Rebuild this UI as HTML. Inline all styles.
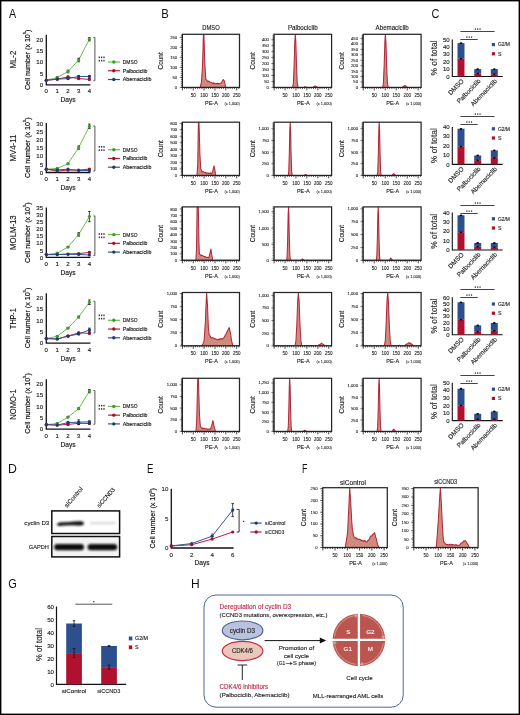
<!DOCTYPE html>
<html><head><meta charset="utf-8"><style>
html,body{margin:0;padding:0;background:#fff;overflow:hidden;width:520px;height:715px;}
svg{display:block;font-family:"Liberation Sans", sans-serif;will-change:transform;}
text{stroke:currentColor;stroke-width:0.13px;paint-order:stroke;}
</style></head><body>
<svg width="520" height="715" viewBox="0 0 520 715">
<rect x="0" y="0" width="520" height="715" fill="#fff"/>
<path d="M46.3 34.8V84.8H90.4" stroke="#111" fill="none" stroke-width="1.3"/>
<text x="43.1" y="87" font-size="6.1" text-anchor="end" fill="#1a1a1a" color="#1a1a1a">0</text>
<text x="43.1" y="75.73" font-size="6.1" text-anchor="end" fill="#1a1a1a" color="#1a1a1a">5</text>
<text x="43.1" y="64.45" font-size="6.1" text-anchor="end" fill="#1a1a1a" color="#1a1a1a">10</text>
<text x="43.1" y="53.18" font-size="6.1" text-anchor="end" fill="#1a1a1a" color="#1a1a1a">15</text>
<text x="43.1" y="41.9" font-size="6.1" text-anchor="end" fill="#1a1a1a" color="#1a1a1a">20</text>
<text x="46.3" y="93.4" font-size="6.1" text-anchor="middle" fill="#1a1a1a" color="#1a1a1a">0</text>
<text x="57.2" y="93.4" font-size="6.1" text-anchor="middle" fill="#1a1a1a" color="#1a1a1a">1</text>
<text x="68" y="93.4" font-size="6.1" text-anchor="middle" fill="#1a1a1a" color="#1a1a1a">2</text>
<text x="78.7" y="93.4" font-size="6.1" text-anchor="middle" fill="#1a1a1a" color="#1a1a1a">3</text>
<text x="89.4" y="93.4" font-size="6.1" text-anchor="middle" fill="#1a1a1a" color="#1a1a1a">4</text>
<text x="68" y="102.2" font-size="6.6" text-anchor="middle" fill="#111" color="#111">Days</text>
<text x="30.0" y="59.8" font-size="7.6" fill="#111" color="#111" style="stroke-width:0.2px" text-anchor="middle" transform="rotate(-90 30.0 59.8)" textLength="60.5" lengthAdjust="spacingAndGlyphs">Cell number (x 10<tspan font-size="4.4" dy="-3.7">5</tspan><tspan dy="3.7">)</tspan></text>
<text x="16" y="59.6" font-size="8.3" text-anchor="middle" fill="#111" color="#111" style="stroke-width:0.1px" transform="rotate(-90 16 59.6)" textLength="17.8" lengthAdjust="spacingAndGlyphs">ML-2</text>
<polyline points="46.3,80.29 57.2,77.58 68,71.5 78.7,59.99 89.4,39.25" fill="none" stroke="#6cbf4f" stroke-width="1"/>
<circle cx="46.3" cy="80.29" r="1.6" fill="#3f9a2a" stroke="none" stroke-width="1"/>
<line x1="57.2" y1="78.26" x2="57.2" y2="76.91" stroke="#111" stroke-width="0.8"/>
<line x1="55.9" y1="76.91" x2="58.5" y2="76.91" stroke="#111" stroke-width="0.8"/>
<line x1="55.9" y1="78.26" x2="58.5" y2="78.26" stroke="#111" stroke-width="0.8"/>
<circle cx="57.2" cy="77.58" r="1.6" fill="#3f9a2a" stroke="none" stroke-width="1"/>
<line x1="68" y1="72.85" x2="68" y2="70.14" stroke="#111" stroke-width="0.8"/>
<line x1="66.7" y1="70.14" x2="69.3" y2="70.14" stroke="#111" stroke-width="0.8"/>
<line x1="66.7" y1="72.85" x2="69.3" y2="72.85" stroke="#111" stroke-width="0.8"/>
<circle cx="68" cy="71.5" r="1.6" fill="#3f9a2a" stroke="none" stroke-width="1"/>
<line x1="78.7" y1="61.8" x2="78.7" y2="58.19" stroke="#111" stroke-width="0.8"/>
<line x1="77.4" y1="58.19" x2="80" y2="58.19" stroke="#111" stroke-width="0.8"/>
<line x1="77.4" y1="61.8" x2="80" y2="61.8" stroke="#111" stroke-width="0.8"/>
<circle cx="78.7" cy="59.99" r="1.6" fill="#3f9a2a" stroke="none" stroke-width="1"/>
<line x1="89.4" y1="40.83" x2="89.4" y2="37.67" stroke="#111" stroke-width="0.8"/>
<line x1="88.1" y1="37.67" x2="90.7" y2="37.67" stroke="#111" stroke-width="0.8"/>
<line x1="88.1" y1="40.83" x2="90.7" y2="40.83" stroke="#111" stroke-width="0.8"/>
<circle cx="89.4" cy="39.25" r="1.6" fill="#3f9a2a" stroke="none" stroke-width="1"/>
<polyline points="46.3,80.29 57.2,79.16 68,76.91 78.7,78.6 89.4,79.39" fill="none" stroke="#b5203a" stroke-width="1"/>
<circle cx="46.3" cy="80.29" r="1.6" fill="#a0102a" stroke="none" stroke-width="1"/>
<circle cx="57.2" cy="79.16" r="1.6" fill="#a0102a" stroke="none" stroke-width="1"/>
<line x1="68" y1="77.58" x2="68" y2="76.23" stroke="#111" stroke-width="0.8"/>
<line x1="66.7" y1="76.23" x2="69.3" y2="76.23" stroke="#111" stroke-width="0.8"/>
<line x1="66.7" y1="77.58" x2="69.3" y2="77.58" stroke="#111" stroke-width="0.8"/>
<circle cx="68" cy="76.91" r="1.6" fill="#a0102a" stroke="none" stroke-width="1"/>
<line x1="78.7" y1="79.28" x2="78.7" y2="77.92" stroke="#111" stroke-width="0.8"/>
<line x1="77.4" y1="77.92" x2="80" y2="77.92" stroke="#111" stroke-width="0.8"/>
<line x1="77.4" y1="79.28" x2="80" y2="79.28" stroke="#111" stroke-width="0.8"/>
<circle cx="78.7" cy="78.6" r="1.6" fill="#a0102a" stroke="none" stroke-width="1"/>
<line x1="89.4" y1="80.06" x2="89.4" y2="78.71" stroke="#111" stroke-width="0.8"/>
<line x1="88.1" y1="78.71" x2="90.7" y2="78.71" stroke="#111" stroke-width="0.8"/>
<line x1="88.1" y1="80.06" x2="90.7" y2="80.06" stroke="#111" stroke-width="0.8"/>
<circle cx="89.4" cy="79.39" r="1.6" fill="#a0102a" stroke="none" stroke-width="1"/>
<polyline points="46.3,80.29 57.2,79.16 68,78.6 78.7,76.46 89.4,76.46" fill="none" stroke="#34569a" stroke-width="1"/>
<circle cx="46.3" cy="80.29" r="1.6" fill="#1d3a78" stroke="none" stroke-width="1"/>
<circle cx="57.2" cy="79.16" r="1.6" fill="#1d3a78" stroke="none" stroke-width="1"/>
<line x1="68" y1="79.05" x2="68" y2="78.15" stroke="#111" stroke-width="0.8"/>
<line x1="66.7" y1="78.15" x2="69.3" y2="78.15" stroke="#111" stroke-width="0.8"/>
<line x1="66.7" y1="79.05" x2="69.3" y2="79.05" stroke="#111" stroke-width="0.8"/>
<circle cx="68" cy="78.6" r="1.6" fill="#1d3a78" stroke="none" stroke-width="1"/>
<line x1="78.7" y1="77.13" x2="78.7" y2="75.78" stroke="#111" stroke-width="0.8"/>
<line x1="77.4" y1="75.78" x2="80" y2="75.78" stroke="#111" stroke-width="0.8"/>
<line x1="77.4" y1="77.13" x2="80" y2="77.13" stroke="#111" stroke-width="0.8"/>
<circle cx="78.7" cy="76.46" r="1.6" fill="#1d3a78" stroke="none" stroke-width="1"/>
<line x1="89.4" y1="77.13" x2="89.4" y2="75.78" stroke="#111" stroke-width="0.8"/>
<line x1="88.1" y1="75.78" x2="90.7" y2="75.78" stroke="#111" stroke-width="0.8"/>
<line x1="88.1" y1="77.13" x2="90.7" y2="77.13" stroke="#111" stroke-width="0.8"/>
<circle cx="89.4" cy="76.46" r="1.6" fill="#1d3a78" stroke="none" stroke-width="1"/>
<path d="M93.4 37.4H94.9V80.7H93.4" stroke="#555" fill="none" stroke-width="1"/>
<rect x="98.65" y="56.55" width="1.3" height="1.6" fill="#333" stroke="none" stroke-width="1"/>
<rect x="101" y="56.55" width="1.3" height="1.6" fill="#333" stroke="none" stroke-width="1"/>
<rect x="103.35" y="56.55" width="1.3" height="1.6" fill="#333" stroke="none" stroke-width="1"/>
<rect x="98.65" y="59.85" width="1.3" height="1.6" fill="#333" stroke="none" stroke-width="1"/>
<rect x="101" y="59.85" width="1.3" height="1.6" fill="#333" stroke="none" stroke-width="1"/>
<rect x="103.35" y="59.85" width="1.3" height="1.6" fill="#333" stroke="none" stroke-width="1"/>
<line x1="108" y1="62" x2="120" y2="62" stroke="#6cbf4f" stroke-width="1.2"/>
<circle cx="113.8" cy="62" r="1.7" fill="#3f9a2a" stroke="none" stroke-width="1"/>
<text x="122.8" y="63.9" font-size="5.4" fill="#111" color="#111" textLength="14.7" lengthAdjust="spacingAndGlyphs">DMSO</text>
<line x1="108" y1="70.75" x2="120" y2="70.75" stroke="#b5203a" stroke-width="1.2"/>
<circle cx="113.8" cy="70.75" r="1.7" fill="#a0102a" stroke="none" stroke-width="1"/>
<text x="122.8" y="72.65" font-size="5.4" fill="#111" color="#111" textLength="24.6" lengthAdjust="spacingAndGlyphs">Palbociclib</text>
<line x1="108" y1="79.5" x2="120" y2="79.5" stroke="#34569a" stroke-width="1.2"/>
<circle cx="113.8" cy="79.5" r="1.7" fill="#1d3a78" stroke="none" stroke-width="1"/>
<text x="122.8" y="81.4" font-size="5.4" fill="#111" color="#111" textLength="28.6" lengthAdjust="spacingAndGlyphs">Abemaciclib</text>
<path d="M46.3 123.1V172.5H90.4" stroke="#111" fill="none" stroke-width="1.3"/>
<text x="43.1" y="174.7" font-size="6.1" text-anchor="end" fill="#1a1a1a" color="#1a1a1a">0</text>
<text x="43.1" y="166.5" font-size="6.1" text-anchor="end" fill="#1a1a1a" color="#1a1a1a">5</text>
<text x="43.1" y="158.3" font-size="6.1" text-anchor="end" fill="#1a1a1a" color="#1a1a1a">10</text>
<text x="43.1" y="150.1" font-size="6.1" text-anchor="end" fill="#1a1a1a" color="#1a1a1a">15</text>
<text x="43.1" y="141.9" font-size="6.1" text-anchor="end" fill="#1a1a1a" color="#1a1a1a">20</text>
<text x="43.1" y="133.7" font-size="6.1" text-anchor="end" fill="#1a1a1a" color="#1a1a1a">25</text>
<text x="43.1" y="125.5" font-size="6.1" text-anchor="end" fill="#1a1a1a" color="#1a1a1a">30</text>
<text x="46.3" y="181.1" font-size="6.1" text-anchor="middle" fill="#1a1a1a" color="#1a1a1a">0</text>
<text x="57.2" y="181.1" font-size="6.1" text-anchor="middle" fill="#1a1a1a" color="#1a1a1a">1</text>
<text x="68" y="181.1" font-size="6.1" text-anchor="middle" fill="#1a1a1a" color="#1a1a1a">2</text>
<text x="78.7" y="181.1" font-size="6.1" text-anchor="middle" fill="#1a1a1a" color="#1a1a1a">3</text>
<text x="89.4" y="181.1" font-size="6.1" text-anchor="middle" fill="#1a1a1a" color="#1a1a1a">4</text>
<text x="68" y="189.9" font-size="6.6" text-anchor="middle" fill="#111" color="#111">Days</text>
<text x="30.0" y="147.7" font-size="7.6" fill="#111" color="#111" style="stroke-width:0.2px" text-anchor="middle" transform="rotate(-90 30.0 147.7)" textLength="60.5" lengthAdjust="spacingAndGlyphs">Cell number (x 10<tspan font-size="4.4" dy="-3.7">5</tspan><tspan dy="3.7">)</tspan></text>
<text x="16" y="148.1" font-size="8.3" text-anchor="middle" fill="#111" color="#111" style="stroke-width:0.1px" transform="rotate(-90 16 148.1)" textLength="26.7" lengthAdjust="spacingAndGlyphs">MV4-11</text>
<polyline points="46.3,169.22 57.2,168.4 68,163.81 78.7,147.57 89.4,126.25" fill="none" stroke="#6cbf4f" stroke-width="1"/>
<circle cx="46.3" cy="169.22" r="1.6" fill="#3f9a2a" stroke="none" stroke-width="1"/>
<line x1="57.2" y1="168.73" x2="57.2" y2="168.07" stroke="#111" stroke-width="0.8"/>
<line x1="55.9" y1="168.07" x2="58.5" y2="168.07" stroke="#111" stroke-width="0.8"/>
<line x1="55.9" y1="168.73" x2="58.5" y2="168.73" stroke="#111" stroke-width="0.8"/>
<circle cx="57.2" cy="168.4" r="1.6" fill="#3f9a2a" stroke="none" stroke-width="1"/>
<line x1="68" y1="164.46" x2="68" y2="163.15" stroke="#111" stroke-width="0.8"/>
<line x1="66.7" y1="163.15" x2="69.3" y2="163.15" stroke="#111" stroke-width="0.8"/>
<line x1="66.7" y1="164.46" x2="69.3" y2="164.46" stroke="#111" stroke-width="0.8"/>
<circle cx="68" cy="163.81" r="1.6" fill="#3f9a2a" stroke="none" stroke-width="1"/>
<line x1="78.7" y1="149.21" x2="78.7" y2="145.93" stroke="#111" stroke-width="0.8"/>
<line x1="77.4" y1="145.93" x2="80" y2="145.93" stroke="#111" stroke-width="0.8"/>
<line x1="77.4" y1="149.21" x2="80" y2="149.21" stroke="#111" stroke-width="0.8"/>
<circle cx="78.7" cy="147.57" r="1.6" fill="#3f9a2a" stroke="none" stroke-width="1"/>
<line x1="89.4" y1="128.38" x2="89.4" y2="124.12" stroke="#111" stroke-width="0.8"/>
<line x1="88.1" y1="124.12" x2="90.7" y2="124.12" stroke="#111" stroke-width="0.8"/>
<line x1="88.1" y1="128.38" x2="90.7" y2="128.38" stroke="#111" stroke-width="0.8"/>
<circle cx="89.4" cy="126.25" r="1.6" fill="#3f9a2a" stroke="none" stroke-width="1"/>
<polyline points="46.3,169.22 57.2,171.02 68,170.04 78.7,170.2 89.4,169.06" fill="none" stroke="#b5203a" stroke-width="1"/>
<circle cx="46.3" cy="169.22" r="1.6" fill="#a0102a" stroke="none" stroke-width="1"/>
<circle cx="57.2" cy="171.02" r="1.6" fill="#a0102a" stroke="none" stroke-width="1"/>
<circle cx="68" cy="170.04" r="1.6" fill="#a0102a" stroke="none" stroke-width="1"/>
<circle cx="78.7" cy="170.2" r="1.6" fill="#a0102a" stroke="none" stroke-width="1"/>
<circle cx="89.4" cy="169.06" r="1.6" fill="#a0102a" stroke="none" stroke-width="1"/>
<polyline points="46.3,169.22 57.2,169.88 68,169.22 78.7,170.37 89.4,170.53" fill="none" stroke="#34569a" stroke-width="1"/>
<circle cx="46.3" cy="169.22" r="1.6" fill="#1d3a78" stroke="none" stroke-width="1"/>
<circle cx="57.2" cy="169.88" r="1.6" fill="#1d3a78" stroke="none" stroke-width="1"/>
<circle cx="68" cy="169.22" r="1.6" fill="#1d3a78" stroke="none" stroke-width="1"/>
<circle cx="78.7" cy="170.37" r="1.6" fill="#1d3a78" stroke="none" stroke-width="1"/>
<circle cx="89.4" cy="170.53" r="1.6" fill="#1d3a78" stroke="none" stroke-width="1"/>
<path d="M93.4 126H94.9V171H93.4" stroke="#555" fill="none" stroke-width="1"/>
<rect x="98.65" y="146" width="1.3" height="1.6" fill="#333" stroke="none" stroke-width="1"/>
<rect x="101" y="146" width="1.3" height="1.6" fill="#333" stroke="none" stroke-width="1"/>
<rect x="103.35" y="146" width="1.3" height="1.6" fill="#333" stroke="none" stroke-width="1"/>
<rect x="98.65" y="149.3" width="1.3" height="1.6" fill="#333" stroke="none" stroke-width="1"/>
<rect x="101" y="149.3" width="1.3" height="1.6" fill="#333" stroke="none" stroke-width="1"/>
<rect x="103.35" y="149.3" width="1.3" height="1.6" fill="#333" stroke="none" stroke-width="1"/>
<line x1="108" y1="149.7" x2="120" y2="149.7" stroke="#6cbf4f" stroke-width="1.2"/>
<circle cx="113.8" cy="149.7" r="1.7" fill="#3f9a2a" stroke="none" stroke-width="1"/>
<text x="122.8" y="151.6" font-size="5.4" fill="#111" color="#111" textLength="14.7" lengthAdjust="spacingAndGlyphs">DMSO</text>
<line x1="108" y1="158.45" x2="120" y2="158.45" stroke="#b5203a" stroke-width="1.2"/>
<circle cx="113.8" cy="158.45" r="1.7" fill="#a0102a" stroke="none" stroke-width="1"/>
<text x="122.8" y="160.35" font-size="5.4" fill="#111" color="#111" textLength="24.6" lengthAdjust="spacingAndGlyphs">Palbociclib</text>
<line x1="108" y1="167.2" x2="120" y2="167.2" stroke="#34569a" stroke-width="1.2"/>
<circle cx="113.8" cy="167.2" r="1.7" fill="#1d3a78" stroke="none" stroke-width="1"/>
<text x="122.8" y="169.1" font-size="5.4" fill="#111" color="#111" textLength="28.6" lengthAdjust="spacingAndGlyphs">Abemaciclib</text>
<path d="M46.3 207.6V257.4H90.4" stroke="#111" fill="none" stroke-width="1.3"/>
<text x="43.1" y="259.6" font-size="6.1" text-anchor="end" fill="#1a1a1a" color="#1a1a1a">0</text>
<text x="43.1" y="252.51" font-size="6.1" text-anchor="end" fill="#1a1a1a" color="#1a1a1a">5</text>
<text x="43.1" y="245.43" font-size="6.1" text-anchor="end" fill="#1a1a1a" color="#1a1a1a">10</text>
<text x="43.1" y="238.34" font-size="6.1" text-anchor="end" fill="#1a1a1a" color="#1a1a1a">15</text>
<text x="43.1" y="231.26" font-size="6.1" text-anchor="end" fill="#1a1a1a" color="#1a1a1a">20</text>
<text x="43.1" y="224.17" font-size="6.1" text-anchor="end" fill="#1a1a1a" color="#1a1a1a">25</text>
<text x="43.1" y="217.09" font-size="6.1" text-anchor="end" fill="#1a1a1a" color="#1a1a1a">30</text>
<text x="43.1" y="210" font-size="6.1" text-anchor="end" fill="#1a1a1a" color="#1a1a1a">35</text>
<text x="46.3" y="266" font-size="6.1" text-anchor="middle" fill="#1a1a1a" color="#1a1a1a">0</text>
<text x="57.2" y="266" font-size="6.1" text-anchor="middle" fill="#1a1a1a" color="#1a1a1a">1</text>
<text x="68" y="266" font-size="6.1" text-anchor="middle" fill="#1a1a1a" color="#1a1a1a">2</text>
<text x="78.7" y="266" font-size="6.1" text-anchor="middle" fill="#1a1a1a" color="#1a1a1a">3</text>
<text x="89.4" y="266" font-size="6.1" text-anchor="middle" fill="#1a1a1a" color="#1a1a1a">4</text>
<text x="68" y="274.8" font-size="6.6" text-anchor="middle" fill="#111" color="#111">Days</text>
<text x="30.0" y="232.7" font-size="7.6" fill="#111" color="#111" style="stroke-width:0.2px" text-anchor="middle" transform="rotate(-90 30.0 232.7)" textLength="60.5" lengthAdjust="spacingAndGlyphs">Cell number (x 10<tspan font-size="4.4" dy="-3.7">5</tspan><tspan dy="3.7">)</tspan></text>
<text x="16" y="232.6" font-size="8.3" text-anchor="middle" fill="#111" color="#111" style="stroke-width:0.1px" transform="rotate(-90 16 232.6)" textLength="34.6" lengthAdjust="spacingAndGlyphs">MOLM-13</text>
<polyline points="46.3,254.57 57.2,253.15 68,247.05 78.7,234.44 89.4,216.59" fill="none" stroke="#6cbf4f" stroke-width="1"/>
<circle cx="46.3" cy="254.57" r="1.6" fill="#3f9a2a" stroke="none" stroke-width="1"/>
<line x1="57.2" y1="253.57" x2="57.2" y2="252.72" stroke="#111" stroke-width="0.8"/>
<line x1="55.9" y1="252.72" x2="58.5" y2="252.72" stroke="#111" stroke-width="0.8"/>
<line x1="55.9" y1="253.57" x2="58.5" y2="253.57" stroke="#111" stroke-width="0.8"/>
<circle cx="57.2" cy="253.15" r="1.6" fill="#3f9a2a" stroke="none" stroke-width="1"/>
<line x1="68" y1="247.62" x2="68" y2="246.49" stroke="#111" stroke-width="0.8"/>
<line x1="66.7" y1="246.49" x2="69.3" y2="246.49" stroke="#111" stroke-width="0.8"/>
<line x1="66.7" y1="247.62" x2="69.3" y2="247.62" stroke="#111" stroke-width="0.8"/>
<circle cx="68" cy="247.05" r="1.6" fill="#3f9a2a" stroke="none" stroke-width="1"/>
<line x1="78.7" y1="236.14" x2="78.7" y2="232.74" stroke="#111" stroke-width="0.8"/>
<line x1="77.4" y1="232.74" x2="80" y2="232.74" stroke="#111" stroke-width="0.8"/>
<line x1="77.4" y1="236.14" x2="80" y2="236.14" stroke="#111" stroke-width="0.8"/>
<circle cx="78.7" cy="234.44" r="1.6" fill="#3f9a2a" stroke="none" stroke-width="1"/>
<line x1="89.4" y1="221.69" x2="89.4" y2="211.48" stroke="#111" stroke-width="0.8"/>
<line x1="88.1" y1="211.48" x2="90.7" y2="211.48" stroke="#111" stroke-width="0.8"/>
<line x1="88.1" y1="221.69" x2="90.7" y2="221.69" stroke="#111" stroke-width="0.8"/>
<circle cx="89.4" cy="216.59" r="1.6" fill="#3f9a2a" stroke="none" stroke-width="1"/>
<polyline points="46.3,254.57 57.2,254.57 68,254 78.7,253.57 89.4,252.44" fill="none" stroke="#b5203a" stroke-width="1"/>
<circle cx="46.3" cy="254.57" r="1.6" fill="#a0102a" stroke="none" stroke-width="1"/>
<circle cx="57.2" cy="254.57" r="1.6" fill="#a0102a" stroke="none" stroke-width="1"/>
<circle cx="68" cy="254" r="1.6" fill="#a0102a" stroke="none" stroke-width="1"/>
<circle cx="78.7" cy="253.57" r="1.6" fill="#a0102a" stroke="none" stroke-width="1"/>
<line x1="89.4" y1="252.87" x2="89.4" y2="252.01" stroke="#111" stroke-width="0.8"/>
<line x1="88.1" y1="252.01" x2="90.7" y2="252.01" stroke="#111" stroke-width="0.8"/>
<line x1="88.1" y1="252.87" x2="90.7" y2="252.87" stroke="#111" stroke-width="0.8"/>
<circle cx="89.4" cy="252.44" r="1.6" fill="#a0102a" stroke="none" stroke-width="1"/>
<polyline points="46.3,254.57 57.2,254.57 68,254.28 78.7,254.42 89.4,254.99" fill="none" stroke="#34569a" stroke-width="1"/>
<circle cx="46.3" cy="254.57" r="1.6" fill="#1d3a78" stroke="none" stroke-width="1"/>
<circle cx="57.2" cy="254.57" r="1.6" fill="#1d3a78" stroke="none" stroke-width="1"/>
<circle cx="68" cy="254.28" r="1.6" fill="#1d3a78" stroke="none" stroke-width="1"/>
<circle cx="78.7" cy="254.42" r="1.6" fill="#1d3a78" stroke="none" stroke-width="1"/>
<circle cx="89.4" cy="254.99" r="1.6" fill="#1d3a78" stroke="none" stroke-width="1"/>
<path d="M93.4 215.9H94.9V255.6H93.4" stroke="#555" fill="none" stroke-width="1"/>
<rect x="98.65" y="233.25" width="1.3" height="1.6" fill="#333" stroke="none" stroke-width="1"/>
<rect x="101" y="233.25" width="1.3" height="1.6" fill="#333" stroke="none" stroke-width="1"/>
<rect x="103.35" y="233.25" width="1.3" height="1.6" fill="#333" stroke="none" stroke-width="1"/>
<rect x="98.65" y="236.55" width="1.3" height="1.6" fill="#333" stroke="none" stroke-width="1"/>
<rect x="101" y="236.55" width="1.3" height="1.6" fill="#333" stroke="none" stroke-width="1"/>
<rect x="103.35" y="236.55" width="1.3" height="1.6" fill="#333" stroke="none" stroke-width="1"/>
<line x1="108" y1="234.6" x2="120" y2="234.6" stroke="#6cbf4f" stroke-width="1.2"/>
<circle cx="113.8" cy="234.6" r="1.7" fill="#3f9a2a" stroke="none" stroke-width="1"/>
<text x="122.8" y="236.5" font-size="5.4" fill="#111" color="#111" textLength="14.7" lengthAdjust="spacingAndGlyphs">DMSO</text>
<line x1="108" y1="243.35" x2="120" y2="243.35" stroke="#b5203a" stroke-width="1.2"/>
<circle cx="113.8" cy="243.35" r="1.7" fill="#a0102a" stroke="none" stroke-width="1"/>
<text x="122.8" y="245.25" font-size="5.4" fill="#111" color="#111" textLength="24.6" lengthAdjust="spacingAndGlyphs">Palbociclib</text>
<line x1="108" y1="252.1" x2="120" y2="252.1" stroke="#34569a" stroke-width="1.2"/>
<circle cx="113.8" cy="252.1" r="1.7" fill="#1d3a78" stroke="none" stroke-width="1"/>
<text x="122.8" y="254" font-size="5.4" fill="#111" color="#111" textLength="28.6" lengthAdjust="spacingAndGlyphs">Abemaciclib</text>
<path d="M46.3 293.3V343.1H90.4" stroke="#111" fill="none" stroke-width="1.3"/>
<text x="43.1" y="345.3" font-size="6.1" text-anchor="end" fill="#1a1a1a" color="#1a1a1a">0</text>
<text x="43.1" y="333.95" font-size="6.1" text-anchor="end" fill="#1a1a1a" color="#1a1a1a">5</text>
<text x="43.1" y="322.6" font-size="6.1" text-anchor="end" fill="#1a1a1a" color="#1a1a1a">10</text>
<text x="43.1" y="311.25" font-size="6.1" text-anchor="end" fill="#1a1a1a" color="#1a1a1a">15</text>
<text x="43.1" y="299.9" font-size="6.1" text-anchor="end" fill="#1a1a1a" color="#1a1a1a">20</text>
<text x="46.3" y="351.7" font-size="6.1" text-anchor="middle" fill="#1a1a1a" color="#1a1a1a">0</text>
<text x="57.2" y="351.7" font-size="6.1" text-anchor="middle" fill="#1a1a1a" color="#1a1a1a">1</text>
<text x="68" y="351.7" font-size="6.1" text-anchor="middle" fill="#1a1a1a" color="#1a1a1a">2</text>
<text x="78.7" y="351.7" font-size="6.1" text-anchor="middle" fill="#1a1a1a" color="#1a1a1a">3</text>
<text x="89.4" y="351.7" font-size="6.1" text-anchor="middle" fill="#1a1a1a" color="#1a1a1a">4</text>
<text x="68" y="360.5" font-size="6.6" text-anchor="middle" fill="#111" color="#111">Days</text>
<text x="30.0" y="318" font-size="7.6" fill="#111" color="#111" style="stroke-width:0.2px" text-anchor="middle" transform="rotate(-90 30.0 318)" textLength="60.5" lengthAdjust="spacingAndGlyphs">Cell number (x 10<tspan font-size="4.4" dy="-3.7">5</tspan><tspan dy="3.7">)</tspan></text>
<text x="16" y="318.6" font-size="8.3" text-anchor="middle" fill="#111" color="#111" style="stroke-width:0.1px" transform="rotate(-90 16 318.6)" textLength="20.7" lengthAdjust="spacingAndGlyphs">THP-1</text>
<polyline points="46.3,338.56 57.2,336.29 68,328.12 78.7,317 89.4,302.24" fill="none" stroke="#6cbf4f" stroke-width="1"/>
<circle cx="46.3" cy="338.56" r="1.6" fill="#3f9a2a" stroke="none" stroke-width="1"/>
<line x1="57.2" y1="336.97" x2="57.2" y2="335.61" stroke="#111" stroke-width="0.8"/>
<line x1="55.9" y1="335.61" x2="58.5" y2="335.61" stroke="#111" stroke-width="0.8"/>
<line x1="55.9" y1="336.97" x2="58.5" y2="336.97" stroke="#111" stroke-width="0.8"/>
<circle cx="57.2" cy="336.29" r="1.6" fill="#3f9a2a" stroke="none" stroke-width="1"/>
<line x1="68" y1="328.8" x2="68" y2="327.44" stroke="#111" stroke-width="0.8"/>
<line x1="66.7" y1="327.44" x2="69.3" y2="327.44" stroke="#111" stroke-width="0.8"/>
<line x1="66.7" y1="328.8" x2="69.3" y2="328.8" stroke="#111" stroke-width="0.8"/>
<circle cx="68" cy="328.12" r="1.6" fill="#3f9a2a" stroke="none" stroke-width="1"/>
<line x1="78.7" y1="317.9" x2="78.7" y2="316.09" stroke="#111" stroke-width="0.8"/>
<line x1="77.4" y1="316.09" x2="80" y2="316.09" stroke="#111" stroke-width="0.8"/>
<line x1="77.4" y1="317.9" x2="80" y2="317.9" stroke="#111" stroke-width="0.8"/>
<circle cx="78.7" cy="317" r="1.6" fill="#3f9a2a" stroke="none" stroke-width="1"/>
<line x1="89.4" y1="304.51" x2="89.4" y2="299.97" stroke="#111" stroke-width="0.8"/>
<line x1="88.1" y1="299.97" x2="90.7" y2="299.97" stroke="#111" stroke-width="0.8"/>
<line x1="88.1" y1="304.51" x2="90.7" y2="304.51" stroke="#111" stroke-width="0.8"/>
<circle cx="89.4" cy="302.24" r="1.6" fill="#3f9a2a" stroke="none" stroke-width="1"/>
<polyline points="46.3,338.56 57.2,339.01 68,336.06 78.7,332.88 89.4,333.34" fill="none" stroke="#b5203a" stroke-width="1"/>
<circle cx="46.3" cy="338.56" r="1.6" fill="#a0102a" stroke="none" stroke-width="1"/>
<circle cx="57.2" cy="339.01" r="1.6" fill="#a0102a" stroke="none" stroke-width="1"/>
<line x1="68" y1="336.74" x2="68" y2="335.38" stroke="#111" stroke-width="0.8"/>
<line x1="66.7" y1="335.38" x2="69.3" y2="335.38" stroke="#111" stroke-width="0.8"/>
<line x1="66.7" y1="336.74" x2="69.3" y2="336.74" stroke="#111" stroke-width="0.8"/>
<circle cx="68" cy="336.06" r="1.6" fill="#a0102a" stroke="none" stroke-width="1"/>
<line x1="78.7" y1="333.57" x2="78.7" y2="332.2" stroke="#111" stroke-width="0.8"/>
<line x1="77.4" y1="332.2" x2="80" y2="332.2" stroke="#111" stroke-width="0.8"/>
<line x1="77.4" y1="333.57" x2="80" y2="333.57" stroke="#111" stroke-width="0.8"/>
<circle cx="78.7" cy="332.88" r="1.6" fill="#a0102a" stroke="none" stroke-width="1"/>
<line x1="89.4" y1="334.25" x2="89.4" y2="332.43" stroke="#111" stroke-width="0.8"/>
<line x1="88.1" y1="332.43" x2="90.7" y2="332.43" stroke="#111" stroke-width="0.8"/>
<line x1="88.1" y1="334.25" x2="90.7" y2="334.25" stroke="#111" stroke-width="0.8"/>
<circle cx="89.4" cy="333.34" r="1.6" fill="#a0102a" stroke="none" stroke-width="1"/>
<polyline points="46.3,338.56 57.2,339.01 68,336.06 78.7,334.02 89.4,329.93" fill="none" stroke="#34569a" stroke-width="1"/>
<circle cx="46.3" cy="338.56" r="1.6" fill="#1d3a78" stroke="none" stroke-width="1"/>
<circle cx="57.2" cy="339.01" r="1.6" fill="#1d3a78" stroke="none" stroke-width="1"/>
<line x1="68" y1="336.74" x2="68" y2="335.38" stroke="#111" stroke-width="0.8"/>
<line x1="66.7" y1="335.38" x2="69.3" y2="335.38" stroke="#111" stroke-width="0.8"/>
<line x1="66.7" y1="336.74" x2="69.3" y2="336.74" stroke="#111" stroke-width="0.8"/>
<circle cx="68" cy="336.06" r="1.6" fill="#1d3a78" stroke="none" stroke-width="1"/>
<line x1="78.7" y1="334.7" x2="78.7" y2="333.34" stroke="#111" stroke-width="0.8"/>
<line x1="77.4" y1="333.34" x2="80" y2="333.34" stroke="#111" stroke-width="0.8"/>
<line x1="77.4" y1="334.7" x2="80" y2="334.7" stroke="#111" stroke-width="0.8"/>
<circle cx="78.7" cy="334.02" r="1.6" fill="#1d3a78" stroke="none" stroke-width="1"/>
<line x1="89.4" y1="331.75" x2="89.4" y2="328.12" stroke="#111" stroke-width="0.8"/>
<line x1="88.1" y1="328.12" x2="90.7" y2="328.12" stroke="#111" stroke-width="0.8"/>
<line x1="88.1" y1="331.75" x2="90.7" y2="331.75" stroke="#111" stroke-width="0.8"/>
<circle cx="89.4" cy="329.93" r="1.6" fill="#1d3a78" stroke="none" stroke-width="1"/>
<path d="M93.4 301.2H94.9V332.9H93.4" stroke="#555" fill="none" stroke-width="1"/>
<rect x="98.65" y="314.55" width="1.3" height="1.6" fill="#333" stroke="none" stroke-width="1"/>
<rect x="101" y="314.55" width="1.3" height="1.6" fill="#333" stroke="none" stroke-width="1"/>
<rect x="103.35" y="314.55" width="1.3" height="1.6" fill="#333" stroke="none" stroke-width="1"/>
<rect x="98.65" y="317.85" width="1.3" height="1.6" fill="#333" stroke="none" stroke-width="1"/>
<rect x="101" y="317.85" width="1.3" height="1.6" fill="#333" stroke="none" stroke-width="1"/>
<rect x="103.35" y="317.85" width="1.3" height="1.6" fill="#333" stroke="none" stroke-width="1"/>
<line x1="108" y1="320.3" x2="120" y2="320.3" stroke="#6cbf4f" stroke-width="1.2"/>
<circle cx="113.8" cy="320.3" r="1.7" fill="#3f9a2a" stroke="none" stroke-width="1"/>
<text x="122.8" y="322.2" font-size="5.4" fill="#111" color="#111" textLength="14.7" lengthAdjust="spacingAndGlyphs">DMSO</text>
<line x1="108" y1="329.05" x2="120" y2="329.05" stroke="#b5203a" stroke-width="1.2"/>
<circle cx="113.8" cy="329.05" r="1.7" fill="#a0102a" stroke="none" stroke-width="1"/>
<text x="122.8" y="330.95" font-size="5.4" fill="#111" color="#111" textLength="24.6" lengthAdjust="spacingAndGlyphs">Palbociclib</text>
<line x1="108" y1="337.8" x2="120" y2="337.8" stroke="#34569a" stroke-width="1.2"/>
<circle cx="113.8" cy="337.8" r="1.7" fill="#1d3a78" stroke="none" stroke-width="1"/>
<text x="122.8" y="339.7" font-size="5.4" fill="#111" color="#111" textLength="28.6" lengthAdjust="spacingAndGlyphs">Abemaciclib</text>
<path d="M46.3 379.2V429.2H90.4" stroke="#111" fill="none" stroke-width="1.3"/>
<text x="43.1" y="431.4" font-size="6.1" text-anchor="end" fill="#1a1a1a" color="#1a1a1a">0</text>
<text x="43.1" y="420" font-size="6.1" text-anchor="end" fill="#1a1a1a" color="#1a1a1a">5</text>
<text x="43.1" y="408.6" font-size="6.1" text-anchor="end" fill="#1a1a1a" color="#1a1a1a">10</text>
<text x="43.1" y="397.2" font-size="6.1" text-anchor="end" fill="#1a1a1a" color="#1a1a1a">15</text>
<text x="43.1" y="385.8" font-size="6.1" text-anchor="end" fill="#1a1a1a" color="#1a1a1a">20</text>
<text x="46.3" y="437.8" font-size="6.1" text-anchor="middle" fill="#1a1a1a" color="#1a1a1a">0</text>
<text x="57.2" y="437.8" font-size="6.1" text-anchor="middle" fill="#1a1a1a" color="#1a1a1a">1</text>
<text x="68" y="437.8" font-size="6.1" text-anchor="middle" fill="#1a1a1a" color="#1a1a1a">2</text>
<text x="78.7" y="437.8" font-size="6.1" text-anchor="middle" fill="#1a1a1a" color="#1a1a1a">3</text>
<text x="89.4" y="437.8" font-size="6.1" text-anchor="middle" fill="#1a1a1a" color="#1a1a1a">4</text>
<text x="68" y="446.6" font-size="6.6" text-anchor="middle" fill="#111" color="#111">Days</text>
<text x="30.0" y="403.5" font-size="7.6" fill="#111" color="#111" style="stroke-width:0.2px" text-anchor="middle" transform="rotate(-90 30.0 403.5)" textLength="60.5" lengthAdjust="spacingAndGlyphs">Cell number (x 10<tspan font-size="4.4" dy="-3.7">5</tspan><tspan dy="3.7">)</tspan></text>
<text x="16" y="404.5" font-size="8.3" text-anchor="middle" fill="#111" color="#111" style="stroke-width:0.1px" transform="rotate(-90 16 404.5)" textLength="30.3" lengthAdjust="spacingAndGlyphs">NOMO-1</text>
<polyline points="46.3,424.64 57.2,423.5 68,417.12 78.7,408.68 89.4,391.12" fill="none" stroke="#6cbf4f" stroke-width="1"/>
<circle cx="46.3" cy="424.64" r="1.6" fill="#3f9a2a" stroke="none" stroke-width="1"/>
<line x1="57.2" y1="423.96" x2="57.2" y2="423.04" stroke="#111" stroke-width="0.8"/>
<line x1="55.9" y1="423.04" x2="58.5" y2="423.04" stroke="#111" stroke-width="0.8"/>
<line x1="55.9" y1="423.96" x2="58.5" y2="423.96" stroke="#111" stroke-width="0.8"/>
<circle cx="57.2" cy="423.5" r="1.6" fill="#3f9a2a" stroke="none" stroke-width="1"/>
<line x1="68" y1="417.8" x2="68" y2="416.43" stroke="#111" stroke-width="0.8"/>
<line x1="66.7" y1="416.43" x2="69.3" y2="416.43" stroke="#111" stroke-width="0.8"/>
<line x1="66.7" y1="417.8" x2="69.3" y2="417.8" stroke="#111" stroke-width="0.8"/>
<circle cx="68" cy="417.12" r="1.6" fill="#3f9a2a" stroke="none" stroke-width="1"/>
<line x1="78.7" y1="409.59" x2="78.7" y2="407.77" stroke="#111" stroke-width="0.8"/>
<line x1="77.4" y1="407.77" x2="80" y2="407.77" stroke="#111" stroke-width="0.8"/>
<line x1="77.4" y1="409.59" x2="80" y2="409.59" stroke="#111" stroke-width="0.8"/>
<circle cx="78.7" cy="408.68" r="1.6" fill="#3f9a2a" stroke="none" stroke-width="1"/>
<line x1="89.4" y1="392.72" x2="89.4" y2="389.53" stroke="#111" stroke-width="0.8"/>
<line x1="88.1" y1="389.53" x2="90.7" y2="389.53" stroke="#111" stroke-width="0.8"/>
<line x1="88.1" y1="392.72" x2="90.7" y2="392.72" stroke="#111" stroke-width="0.8"/>
<circle cx="89.4" cy="391.12" r="1.6" fill="#3f9a2a" stroke="none" stroke-width="1"/>
<polyline points="46.3,424.64 57.2,425.1 68,424.41 78.7,423.27 89.4,423.5" fill="none" stroke="#b5203a" stroke-width="1"/>
<circle cx="46.3" cy="424.64" r="1.6" fill="#a0102a" stroke="none" stroke-width="1"/>
<circle cx="57.2" cy="425.1" r="1.6" fill="#a0102a" stroke="none" stroke-width="1"/>
<line x1="68" y1="425.32" x2="68" y2="423.5" stroke="#111" stroke-width="0.8"/>
<line x1="66.7" y1="423.5" x2="69.3" y2="423.5" stroke="#111" stroke-width="0.8"/>
<line x1="66.7" y1="425.32" x2="69.3" y2="425.32" stroke="#111" stroke-width="0.8"/>
<circle cx="68" cy="424.41" r="1.6" fill="#a0102a" stroke="none" stroke-width="1"/>
<line x1="78.7" y1="424.64" x2="78.7" y2="421.9" stroke="#111" stroke-width="0.8"/>
<line x1="77.4" y1="421.9" x2="80" y2="421.9" stroke="#111" stroke-width="0.8"/>
<line x1="77.4" y1="424.64" x2="80" y2="424.64" stroke="#111" stroke-width="0.8"/>
<circle cx="78.7" cy="423.27" r="1.6" fill="#a0102a" stroke="none" stroke-width="1"/>
<line x1="89.4" y1="424.41" x2="89.4" y2="422.59" stroke="#111" stroke-width="0.8"/>
<line x1="88.1" y1="422.59" x2="90.7" y2="422.59" stroke="#111" stroke-width="0.8"/>
<line x1="88.1" y1="424.41" x2="90.7" y2="424.41" stroke="#111" stroke-width="0.8"/>
<circle cx="89.4" cy="423.5" r="1.6" fill="#a0102a" stroke="none" stroke-width="1"/>
<polyline points="46.3,424.64 57.2,425.1 68,422.59 78.7,422.13 89.4,421.9" fill="none" stroke="#34569a" stroke-width="1"/>
<circle cx="46.3" cy="424.64" r="1.6" fill="#1d3a78" stroke="none" stroke-width="1"/>
<circle cx="57.2" cy="425.1" r="1.6" fill="#1d3a78" stroke="none" stroke-width="1"/>
<line x1="68" y1="423.5" x2="68" y2="421.68" stroke="#111" stroke-width="0.8"/>
<line x1="66.7" y1="421.68" x2="69.3" y2="421.68" stroke="#111" stroke-width="0.8"/>
<line x1="66.7" y1="423.5" x2="69.3" y2="423.5" stroke="#111" stroke-width="0.8"/>
<circle cx="68" cy="422.59" r="1.6" fill="#1d3a78" stroke="none" stroke-width="1"/>
<line x1="78.7" y1="424.41" x2="78.7" y2="419.85" stroke="#111" stroke-width="0.8"/>
<line x1="77.4" y1="419.85" x2="80" y2="419.85" stroke="#111" stroke-width="0.8"/>
<line x1="77.4" y1="424.41" x2="80" y2="424.41" stroke="#111" stroke-width="0.8"/>
<circle cx="78.7" cy="422.13" r="1.6" fill="#1d3a78" stroke="none" stroke-width="1"/>
<line x1="89.4" y1="422.82" x2="89.4" y2="420.99" stroke="#111" stroke-width="0.8"/>
<line x1="88.1" y1="420.99" x2="90.7" y2="420.99" stroke="#111" stroke-width="0.8"/>
<line x1="88.1" y1="422.82" x2="90.7" y2="422.82" stroke="#111" stroke-width="0.8"/>
<circle cx="89.4" cy="421.9" r="1.6" fill="#1d3a78" stroke="none" stroke-width="1"/>
<path d="M93.4 390.5H94.9V424.2H93.4" stroke="#555" fill="none" stroke-width="1"/>
<rect x="98.65" y="404.85" width="1.3" height="1.6" fill="#333" stroke="none" stroke-width="1"/>
<rect x="101" y="404.85" width="1.3" height="1.6" fill="#333" stroke="none" stroke-width="1"/>
<rect x="103.35" y="404.85" width="1.3" height="1.6" fill="#333" stroke="none" stroke-width="1"/>
<rect x="98.65" y="408.15" width="1.3" height="1.6" fill="#333" stroke="none" stroke-width="1"/>
<rect x="101" y="408.15" width="1.3" height="1.6" fill="#333" stroke="none" stroke-width="1"/>
<rect x="103.35" y="408.15" width="1.3" height="1.6" fill="#333" stroke="none" stroke-width="1"/>
<line x1="108" y1="406.4" x2="120" y2="406.4" stroke="#6cbf4f" stroke-width="1.2"/>
<circle cx="113.8" cy="406.4" r="1.7" fill="#3f9a2a" stroke="none" stroke-width="1"/>
<text x="122.8" y="408.3" font-size="5.4" fill="#111" color="#111" textLength="14.7" lengthAdjust="spacingAndGlyphs">DMSO</text>
<line x1="108" y1="415.15" x2="120" y2="415.15" stroke="#b5203a" stroke-width="1.2"/>
<circle cx="113.8" cy="415.15" r="1.7" fill="#a0102a" stroke="none" stroke-width="1"/>
<text x="122.8" y="417.05" font-size="5.4" fill="#111" color="#111" textLength="24.6" lengthAdjust="spacingAndGlyphs">Palbociclib</text>
<line x1="108" y1="423.9" x2="120" y2="423.9" stroke="#34569a" stroke-width="1.2"/>
<circle cx="113.8" cy="423.9" r="1.7" fill="#1d3a78" stroke="none" stroke-width="1"/>
<text x="122.8" y="425.8" font-size="5.4" fill="#111" color="#111" textLength="28.6" lengthAdjust="spacingAndGlyphs">Abemaciclib</text>
<clipPath id="h1"><rect x="182.4" y="34" width="57.1" height="53.4"/></clipPath>
<path d="M182.4 87.4L182.4 87.4L182.9 87.4L183.4 87.4L183.9 87.4L184.4 87.4L184.9 87.4L185.4 87.4L185.9 87.4L186.4 87.4L186.9 87.4L187.4 87.4L187.9 87.4L188.4 87.4L188.9 87.4L189.4 87.4L189.9 87.4L190.4 87.4L190.9 87.4L191.4 87.4L191.9 87.4L192.4 87.4L192.9 87.4L193.4 87.4L193.9 87.4L194.4 87.4L194.9 87.4L195.4 87.4L195.9 87.4L196.4 87.4L196.9 87.4L197.4 87.4L197.9 87.4L198.4 87.4L198.9 87.4L199.4 87.4L199.9 87.4L200.2 87.4L200.4 86.52L200.9 84.49L201.4 82.09L201.9 75.22L202.4 67.45L202.5 66.16L202.9 52.45L203.4 34.3L203.9 34.3L204.4 50.86L204.7 60.85L204.9 64.28L205.4 72.81L205.8 78.9L205.9 79L206.4 80.05L206.9 80.17L207.4 81.1L207.9 81.62L208 81.29L208.4 81.45L208.9 81.12L209.4 81.56L209.9 82.25L210.4 82.44L210.9 82.3L211.4 82.25L211.9 82.94L212.4 83.31L212.9 83.43L213.4 82.83L213.9 83.83L214.4 82.98L214.9 83.6L215.4 83.77L215.9 83.81L216.4 83.42L216.9 83.66L217.4 83.16L217.9 83.87L218.4 83.48L218.9 83.46L219.4 83.78L219.9 83.68L220.4 83.16L220.9 83.21L221.4 82.75L221.6 82.09L221.9 81.93L222.4 80.65L222.9 80.14L223.3 79.44L223.4 79.8L223.9 80.36L224.4 81.29L224.9 83.69L225.4 85.99L225.7 87.4L225.9 87.4L226.4 87.4L226.9 87.4L227.4 87.4L227.9 87.4L228.4 87.4L228.9 87.4L229.4 87.4L229.9 87.4L230.4 87.4L230.9 87.4L231.4 87.4L231.9 87.4L232.4 87.4L232.9 87.4L233.4 87.4L233.9 87.4L234.4 87.4L234.9 87.4L235.4 87.4L235.9 87.4L236.4 87.4L236.9 87.4L237.4 87.4L237.9 87.4L238.4 87.4L238.9 87.4L239.4 87.4L239.5 87.4Z" fill="#d08b7f" stroke="#b3293c" stroke-width="1.05" stroke-linejoin="round" clip-path="url(#h1)"/>
<rect x="182.4" y="34.3" width="57.1" height="53.1" fill="none" stroke="#262626" stroke-width="1.25"/>
<text x="177.2" y="88.9" font-size="4.2" text-anchor="end" fill="#111" color="#111" style="stroke-width:0.07px">0</text>
<line x1="179.6" y1="87.4" x2="182.4" y2="87.4" stroke="#222" stroke-width="0.55"/>
<text x="177.2" y="78.88" font-size="4.2" text-anchor="end" fill="#111" color="#111" style="stroke-width:0.07px">50</text>
<line x1="179.6" y1="77.38" x2="182.4" y2="77.38" stroke="#222" stroke-width="0.55"/>
<text x="177.2" y="68.86" font-size="4.2" text-anchor="end" fill="#111" color="#111" style="stroke-width:0.07px">100</text>
<line x1="179.6" y1="67.36" x2="182.4" y2="67.36" stroke="#222" stroke-width="0.55"/>
<text x="177.2" y="58.84" font-size="4.2" text-anchor="end" fill="#111" color="#111" style="stroke-width:0.07px">150</text>
<line x1="179.6" y1="57.34" x2="182.4" y2="57.34" stroke="#222" stroke-width="0.55"/>
<text x="177.2" y="48.82" font-size="4.2" text-anchor="end" fill="#111" color="#111" style="stroke-width:0.07px">200</text>
<line x1="179.6" y1="47.32" x2="182.4" y2="47.32" stroke="#222" stroke-width="0.55"/>
<text x="177.2" y="38.81" font-size="4.2" text-anchor="end" fill="#111" color="#111" style="stroke-width:0.07px">250</text>
<line x1="179.6" y1="37.31" x2="182.4" y2="37.31" stroke="#222" stroke-width="0.55"/>
<line x1="180.9" y1="87.4" x2="182.4" y2="87.4" stroke="#1a1a1a" stroke-width="0.7"/>
<line x1="180.9" y1="85.4" x2="182.4" y2="85.4" stroke="#1a1a1a" stroke-width="0.7"/>
<line x1="180.9" y1="83.39" x2="182.4" y2="83.39" stroke="#1a1a1a" stroke-width="0.7"/>
<line x1="180.9" y1="81.39" x2="182.4" y2="81.39" stroke="#1a1a1a" stroke-width="0.7"/>
<line x1="180.9" y1="79.38" x2="182.4" y2="79.38" stroke="#1a1a1a" stroke-width="0.7"/>
<line x1="180.9" y1="77.38" x2="182.4" y2="77.38" stroke="#1a1a1a" stroke-width="0.7"/>
<line x1="180.9" y1="75.38" x2="182.4" y2="75.38" stroke="#1a1a1a" stroke-width="0.7"/>
<line x1="180.9" y1="73.37" x2="182.4" y2="73.37" stroke="#1a1a1a" stroke-width="0.7"/>
<line x1="180.9" y1="71.37" x2="182.4" y2="71.37" stroke="#1a1a1a" stroke-width="0.7"/>
<line x1="180.9" y1="69.37" x2="182.4" y2="69.37" stroke="#1a1a1a" stroke-width="0.7"/>
<line x1="180.9" y1="67.36" x2="182.4" y2="67.36" stroke="#1a1a1a" stroke-width="0.7"/>
<line x1="180.9" y1="65.36" x2="182.4" y2="65.36" stroke="#1a1a1a" stroke-width="0.7"/>
<line x1="180.9" y1="63.35" x2="182.4" y2="63.35" stroke="#1a1a1a" stroke-width="0.7"/>
<line x1="180.9" y1="61.35" x2="182.4" y2="61.35" stroke="#1a1a1a" stroke-width="0.7"/>
<line x1="180.9" y1="59.35" x2="182.4" y2="59.35" stroke="#1a1a1a" stroke-width="0.7"/>
<line x1="180.9" y1="57.34" x2="182.4" y2="57.34" stroke="#1a1a1a" stroke-width="0.7"/>
<line x1="180.9" y1="55.34" x2="182.4" y2="55.34" stroke="#1a1a1a" stroke-width="0.7"/>
<line x1="180.9" y1="53.34" x2="182.4" y2="53.34" stroke="#1a1a1a" stroke-width="0.7"/>
<line x1="180.9" y1="51.33" x2="182.4" y2="51.33" stroke="#1a1a1a" stroke-width="0.7"/>
<line x1="180.9" y1="49.33" x2="182.4" y2="49.33" stroke="#1a1a1a" stroke-width="0.7"/>
<line x1="180.9" y1="47.32" x2="182.4" y2="47.32" stroke="#1a1a1a" stroke-width="0.7"/>
<line x1="180.9" y1="45.32" x2="182.4" y2="45.32" stroke="#1a1a1a" stroke-width="0.7"/>
<line x1="180.9" y1="43.32" x2="182.4" y2="43.32" stroke="#1a1a1a" stroke-width="0.7"/>
<line x1="180.9" y1="41.31" x2="182.4" y2="41.31" stroke="#1a1a1a" stroke-width="0.7"/>
<line x1="180.9" y1="39.31" x2="182.4" y2="39.31" stroke="#1a1a1a" stroke-width="0.7"/>
<line x1="180.9" y1="37.31" x2="182.4" y2="37.31" stroke="#1a1a1a" stroke-width="0.7"/>
<line x1="180.9" y1="35.3" x2="182.4" y2="35.3" stroke="#1a1a1a" stroke-width="0.7"/>
<line x1="182.4" y1="87.4" x2="182.4" y2="90.4" stroke="#1a1a1a" stroke-width="0.8"/>
<line x1="184.57" y1="87.4" x2="184.57" y2="88.9" stroke="#1a1a1a" stroke-width="0.8"/>
<line x1="186.74" y1="87.4" x2="186.74" y2="88.9" stroke="#1a1a1a" stroke-width="0.8"/>
<line x1="188.91" y1="87.4" x2="188.91" y2="88.9" stroke="#1a1a1a" stroke-width="0.8"/>
<line x1="191.08" y1="87.4" x2="191.08" y2="88.9" stroke="#1a1a1a" stroke-width="0.8"/>
<line x1="193.26" y1="87.4" x2="193.26" y2="90.4" stroke="#1a1a1a" stroke-width="0.8"/>
<line x1="195.43" y1="87.4" x2="195.43" y2="88.9" stroke="#1a1a1a" stroke-width="0.8"/>
<line x1="197.6" y1="87.4" x2="197.6" y2="88.9" stroke="#1a1a1a" stroke-width="0.8"/>
<line x1="199.77" y1="87.4" x2="199.77" y2="88.9" stroke="#1a1a1a" stroke-width="0.8"/>
<line x1="201.94" y1="87.4" x2="201.94" y2="88.9" stroke="#1a1a1a" stroke-width="0.8"/>
<line x1="204.11" y1="87.4" x2="204.11" y2="90.4" stroke="#1a1a1a" stroke-width="0.8"/>
<line x1="206.28" y1="87.4" x2="206.28" y2="88.9" stroke="#1a1a1a" stroke-width="0.8"/>
<line x1="208.45" y1="87.4" x2="208.45" y2="88.9" stroke="#1a1a1a" stroke-width="0.8"/>
<line x1="210.62" y1="87.4" x2="210.62" y2="88.9" stroke="#1a1a1a" stroke-width="0.8"/>
<line x1="212.8" y1="87.4" x2="212.8" y2="88.9" stroke="#1a1a1a" stroke-width="0.8"/>
<line x1="214.97" y1="87.4" x2="214.97" y2="90.4" stroke="#1a1a1a" stroke-width="0.8"/>
<line x1="217.14" y1="87.4" x2="217.14" y2="88.9" stroke="#1a1a1a" stroke-width="0.8"/>
<line x1="219.31" y1="87.4" x2="219.31" y2="88.9" stroke="#1a1a1a" stroke-width="0.8"/>
<line x1="221.48" y1="87.4" x2="221.48" y2="88.9" stroke="#1a1a1a" stroke-width="0.8"/>
<line x1="223.65" y1="87.4" x2="223.65" y2="88.9" stroke="#1a1a1a" stroke-width="0.8"/>
<line x1="225.82" y1="87.4" x2="225.82" y2="90.4" stroke="#1a1a1a" stroke-width="0.8"/>
<line x1="227.99" y1="87.4" x2="227.99" y2="88.9" stroke="#1a1a1a" stroke-width="0.8"/>
<line x1="230.16" y1="87.4" x2="230.16" y2="88.9" stroke="#1a1a1a" stroke-width="0.8"/>
<line x1="232.34" y1="87.4" x2="232.34" y2="88.9" stroke="#1a1a1a" stroke-width="0.8"/>
<line x1="234.51" y1="87.4" x2="234.51" y2="88.9" stroke="#1a1a1a" stroke-width="0.8"/>
<line x1="236.68" y1="87.4" x2="236.68" y2="90.4" stroke="#1a1a1a" stroke-width="0.8"/>
<line x1="238.85" y1="87.4" x2="238.85" y2="88.9" stroke="#1a1a1a" stroke-width="0.8"/>
<text x="193.26" y="96.8" font-size="4.5" text-anchor="middle" fill="#111" color="#111" style="stroke-width:0.07px">50</text>
<text x="204.11" y="96.8" font-size="4.5" text-anchor="middle" fill="#111" color="#111" style="stroke-width:0.07px">100</text>
<text x="214.97" y="96.8" font-size="4.5" text-anchor="middle" fill="#111" color="#111" style="stroke-width:0.07px">150</text>
<text x="225.82" y="96.8" font-size="4.5" text-anchor="middle" fill="#111" color="#111" style="stroke-width:0.07px">200</text>
<text x="236.68" y="96.8" font-size="4.5" text-anchor="middle" fill="#111" color="#111" style="stroke-width:0.07px">250</text>
<text x="211.45" y="105" font-size="6.2" text-anchor="middle" fill="#222" color="#222" textLength="12.8" lengthAdjust="spacingAndGlyphs">PE-A</text>
<text x="232.1" y="105" font-size="4.1" text-anchor="middle" fill="#222" color="#222" style="stroke-width:0.07px" textLength="15.4" lengthAdjust="spacingAndGlyphs">(x 1,000)</text>
<text x="163.2" y="60.85" font-size="6.4" text-anchor="middle" fill="#222" color="#222" transform="rotate(-90 163.2 60.85)">Count</text>
<text x="211" y="30.2" font-size="6.3" text-anchor="middle" fill="#222" color="#222" textLength="17.3" lengthAdjust="spacingAndGlyphs">DMSO</text>
<clipPath id="h2"><rect x="274.1" y="34" width="57.5" height="53.4"/></clipPath>
<path d="M274.1 87.4L274.1 87.4L274.6 87.4L275.1 87.4L275.6 87.4L276.1 87.4L276.6 87.4L277.1 87.4L277.6 87.4L278.1 87.4L278.6 87.4L279.1 87.4L279.6 87.4L280.1 87.4L280.6 87.4L281.1 87.4L281.6 87.4L282.1 87.4L282.6 87.4L283.1 87.4L283.6 87.4L284.1 87.4L284.6 87.4L285.1 87.4L285.6 87.4L286.1 87.4L286.6 87.4L287.1 87.4L287.6 87.4L288.1 87.4L288.6 87.4L289.1 87.4L289.6 87.4L290.1 87.4L290.6 87.4L291.1 87.4L291.6 87.4L292.1 87.4L292.6 87.4L293.1 84.8L293.36 83.15L293.6 77.15L294.09 66.16L294.1 65.42L294.6 48.2L294.76 42.27L295.1 37.17L295.3 34.3L295.6 38.7L295.84 42.27L296.1 51.07L296.52 66.16L296.6 67.9L297.1 80.02L297.24 83.15L297.6 84.64L298 87.4L298.1 87.4L298.6 87.4L299.1 87.4L299.6 87.4L300.1 87.4L300.6 87.4L301.1 87.4L301.6 87.4L302.1 87.4L302.6 87.4L303.1 87.4L303.6 87.4L304.1 87.4L304.6 87.02L305.1 86.76L305.6 87.02L306.1 87.4L306.6 87.4L307.1 87.4L307.6 87.4L308.1 87.4L308.6 87.4L309.1 87.4L309.6 87.4L310.1 87.4L310.6 87.4L311.1 87.4L311.6 87.4L312.1 87.4L312.6 87.4L313 87.4L313.1 87.32L313.6 86.91L314.1 86.51L314.6 86.24L315.1 85.97L315.2 85.91L315.6 86.13L316.1 86.4L316.3 86.51L316.6 86.75L317.1 87.16L317.4 87.4L317.6 87.4L318.1 87.4L318.6 87.4L319.1 87.4L319.6 87.4L320.1 87.4L320.6 87.4L321.1 87.4L321.6 87.4L322.1 87.4L322.6 87.4L323.1 87.4L323.6 87.4L324.1 87.4L324.6 87.4L325.1 87.4L325.6 87.4L326.1 87.4L326.6 87.4L327.1 87.4L327.6 87.4L328.1 87.4L328.6 87.4L329.1 87.4L329.6 87.4L330.1 87.4L330.6 87.4L331.1 87.4L331.6 87.4L331.6 87.4Z" fill="#d08b7f" stroke="#b3293c" stroke-width="1.05" stroke-linejoin="round" clip-path="url(#h2)"/>
<rect x="274.1" y="34.3" width="57.5" height="53.1" fill="none" stroke="#262626" stroke-width="1.25"/>
<text x="268.9" y="88.9" font-size="4.2" text-anchor="end" fill="#111" color="#111" style="stroke-width:0.07px">0</text>
<line x1="271.3" y1="87.4" x2="274.1" y2="87.4" stroke="#222" stroke-width="0.55"/>
<text x="268.9" y="82.95" font-size="4.2" text-anchor="end" fill="#111" color="#111" style="stroke-width:0.07px">50</text>
<line x1="271.3" y1="81.45" x2="274.1" y2="81.45" stroke="#222" stroke-width="0.55"/>
<text x="268.9" y="76.99" font-size="4.2" text-anchor="end" fill="#111" color="#111" style="stroke-width:0.07px">100</text>
<line x1="271.3" y1="75.49" x2="274.1" y2="75.49" stroke="#222" stroke-width="0.55"/>
<text x="268.9" y="71.04" font-size="4.2" text-anchor="end" fill="#111" color="#111" style="stroke-width:0.07px">150</text>
<line x1="271.3" y1="69.54" x2="274.1" y2="69.54" stroke="#222" stroke-width="0.55"/>
<text x="268.9" y="65.09" font-size="4.2" text-anchor="end" fill="#111" color="#111" style="stroke-width:0.07px">200</text>
<line x1="271.3" y1="63.59" x2="274.1" y2="63.59" stroke="#222" stroke-width="0.55"/>
<text x="268.9" y="59.14" font-size="4.2" text-anchor="end" fill="#111" color="#111" style="stroke-width:0.07px">250</text>
<line x1="271.3" y1="57.64" x2="274.1" y2="57.64" stroke="#222" stroke-width="0.55"/>
<text x="268.9" y="53.18" font-size="4.2" text-anchor="end" fill="#111" color="#111" style="stroke-width:0.07px">300</text>
<line x1="271.3" y1="51.68" x2="274.1" y2="51.68" stroke="#222" stroke-width="0.55"/>
<text x="268.9" y="47.23" font-size="4.2" text-anchor="end" fill="#111" color="#111" style="stroke-width:0.07px">350</text>
<line x1="271.3" y1="45.73" x2="274.1" y2="45.73" stroke="#222" stroke-width="0.55"/>
<text x="268.9" y="41.28" font-size="4.2" text-anchor="end" fill="#111" color="#111" style="stroke-width:0.07px">400</text>
<line x1="271.3" y1="39.78" x2="274.1" y2="39.78" stroke="#222" stroke-width="0.55"/>
<line x1="272.6" y1="87.4" x2="274.1" y2="87.4" stroke="#1a1a1a" stroke-width="0.7"/>
<line x1="272.6" y1="86.21" x2="274.1" y2="86.21" stroke="#1a1a1a" stroke-width="0.7"/>
<line x1="272.6" y1="85.02" x2="274.1" y2="85.02" stroke="#1a1a1a" stroke-width="0.7"/>
<line x1="272.6" y1="83.83" x2="274.1" y2="83.83" stroke="#1a1a1a" stroke-width="0.7"/>
<line x1="272.6" y1="82.64" x2="274.1" y2="82.64" stroke="#1a1a1a" stroke-width="0.7"/>
<line x1="272.6" y1="81.45" x2="274.1" y2="81.45" stroke="#1a1a1a" stroke-width="0.7"/>
<line x1="272.6" y1="80.26" x2="274.1" y2="80.26" stroke="#1a1a1a" stroke-width="0.7"/>
<line x1="272.6" y1="79.07" x2="274.1" y2="79.07" stroke="#1a1a1a" stroke-width="0.7"/>
<line x1="272.6" y1="77.88" x2="274.1" y2="77.88" stroke="#1a1a1a" stroke-width="0.7"/>
<line x1="272.6" y1="76.68" x2="274.1" y2="76.68" stroke="#1a1a1a" stroke-width="0.7"/>
<line x1="272.6" y1="75.49" x2="274.1" y2="75.49" stroke="#1a1a1a" stroke-width="0.7"/>
<line x1="272.6" y1="74.3" x2="274.1" y2="74.3" stroke="#1a1a1a" stroke-width="0.7"/>
<line x1="272.6" y1="73.11" x2="274.1" y2="73.11" stroke="#1a1a1a" stroke-width="0.7"/>
<line x1="272.6" y1="71.92" x2="274.1" y2="71.92" stroke="#1a1a1a" stroke-width="0.7"/>
<line x1="272.6" y1="70.73" x2="274.1" y2="70.73" stroke="#1a1a1a" stroke-width="0.7"/>
<line x1="272.6" y1="69.54" x2="274.1" y2="69.54" stroke="#1a1a1a" stroke-width="0.7"/>
<line x1="272.6" y1="68.35" x2="274.1" y2="68.35" stroke="#1a1a1a" stroke-width="0.7"/>
<line x1="272.6" y1="67.16" x2="274.1" y2="67.16" stroke="#1a1a1a" stroke-width="0.7"/>
<line x1="272.6" y1="65.97" x2="274.1" y2="65.97" stroke="#1a1a1a" stroke-width="0.7"/>
<line x1="272.6" y1="64.78" x2="274.1" y2="64.78" stroke="#1a1a1a" stroke-width="0.7"/>
<line x1="272.6" y1="63.59" x2="274.1" y2="63.59" stroke="#1a1a1a" stroke-width="0.7"/>
<line x1="272.6" y1="62.4" x2="274.1" y2="62.4" stroke="#1a1a1a" stroke-width="0.7"/>
<line x1="272.6" y1="61.21" x2="274.1" y2="61.21" stroke="#1a1a1a" stroke-width="0.7"/>
<line x1="272.6" y1="60.02" x2="274.1" y2="60.02" stroke="#1a1a1a" stroke-width="0.7"/>
<line x1="272.6" y1="58.83" x2="274.1" y2="58.83" stroke="#1a1a1a" stroke-width="0.7"/>
<line x1="272.6" y1="57.64" x2="274.1" y2="57.64" stroke="#1a1a1a" stroke-width="0.7"/>
<line x1="272.6" y1="56.44" x2="274.1" y2="56.44" stroke="#1a1a1a" stroke-width="0.7"/>
<line x1="272.6" y1="55.25" x2="274.1" y2="55.25" stroke="#1a1a1a" stroke-width="0.7"/>
<line x1="272.6" y1="54.06" x2="274.1" y2="54.06" stroke="#1a1a1a" stroke-width="0.7"/>
<line x1="272.6" y1="52.87" x2="274.1" y2="52.87" stroke="#1a1a1a" stroke-width="0.7"/>
<line x1="272.6" y1="51.68" x2="274.1" y2="51.68" stroke="#1a1a1a" stroke-width="0.7"/>
<line x1="272.6" y1="50.49" x2="274.1" y2="50.49" stroke="#1a1a1a" stroke-width="0.7"/>
<line x1="272.6" y1="49.3" x2="274.1" y2="49.3" stroke="#1a1a1a" stroke-width="0.7"/>
<line x1="272.6" y1="48.11" x2="274.1" y2="48.11" stroke="#1a1a1a" stroke-width="0.7"/>
<line x1="272.6" y1="46.92" x2="274.1" y2="46.92" stroke="#1a1a1a" stroke-width="0.7"/>
<line x1="272.6" y1="45.73" x2="274.1" y2="45.73" stroke="#1a1a1a" stroke-width="0.7"/>
<line x1="272.6" y1="44.54" x2="274.1" y2="44.54" stroke="#1a1a1a" stroke-width="0.7"/>
<line x1="272.6" y1="43.35" x2="274.1" y2="43.35" stroke="#1a1a1a" stroke-width="0.7"/>
<line x1="272.6" y1="42.16" x2="274.1" y2="42.16" stroke="#1a1a1a" stroke-width="0.7"/>
<line x1="272.6" y1="40.97" x2="274.1" y2="40.97" stroke="#1a1a1a" stroke-width="0.7"/>
<line x1="272.6" y1="39.78" x2="274.1" y2="39.78" stroke="#1a1a1a" stroke-width="0.7"/>
<line x1="272.6" y1="38.59" x2="274.1" y2="38.59" stroke="#1a1a1a" stroke-width="0.7"/>
<line x1="272.6" y1="37.4" x2="274.1" y2="37.4" stroke="#1a1a1a" stroke-width="0.7"/>
<line x1="272.6" y1="36.2" x2="274.1" y2="36.2" stroke="#1a1a1a" stroke-width="0.7"/>
<line x1="272.6" y1="35.01" x2="274.1" y2="35.01" stroke="#1a1a1a" stroke-width="0.7"/>
<line x1="274.1" y1="87.4" x2="274.1" y2="90.4" stroke="#1a1a1a" stroke-width="0.8"/>
<line x1="276.29" y1="87.4" x2="276.29" y2="88.9" stroke="#1a1a1a" stroke-width="0.8"/>
<line x1="278.47" y1="87.4" x2="278.47" y2="88.9" stroke="#1a1a1a" stroke-width="0.8"/>
<line x1="280.66" y1="87.4" x2="280.66" y2="88.9" stroke="#1a1a1a" stroke-width="0.8"/>
<line x1="282.85" y1="87.4" x2="282.85" y2="88.9" stroke="#1a1a1a" stroke-width="0.8"/>
<line x1="285.03" y1="87.4" x2="285.03" y2="90.4" stroke="#1a1a1a" stroke-width="0.8"/>
<line x1="287.22" y1="87.4" x2="287.22" y2="88.9" stroke="#1a1a1a" stroke-width="0.8"/>
<line x1="289.4" y1="87.4" x2="289.4" y2="88.9" stroke="#1a1a1a" stroke-width="0.8"/>
<line x1="291.59" y1="87.4" x2="291.59" y2="88.9" stroke="#1a1a1a" stroke-width="0.8"/>
<line x1="293.78" y1="87.4" x2="293.78" y2="88.9" stroke="#1a1a1a" stroke-width="0.8"/>
<line x1="295.96" y1="87.4" x2="295.96" y2="90.4" stroke="#1a1a1a" stroke-width="0.8"/>
<line x1="298.15" y1="87.4" x2="298.15" y2="88.9" stroke="#1a1a1a" stroke-width="0.8"/>
<line x1="300.34" y1="87.4" x2="300.34" y2="88.9" stroke="#1a1a1a" stroke-width="0.8"/>
<line x1="302.52" y1="87.4" x2="302.52" y2="88.9" stroke="#1a1a1a" stroke-width="0.8"/>
<line x1="304.71" y1="87.4" x2="304.71" y2="88.9" stroke="#1a1a1a" stroke-width="0.8"/>
<line x1="306.89" y1="87.4" x2="306.89" y2="90.4" stroke="#1a1a1a" stroke-width="0.8"/>
<line x1="309.08" y1="87.4" x2="309.08" y2="88.9" stroke="#1a1a1a" stroke-width="0.8"/>
<line x1="311.27" y1="87.4" x2="311.27" y2="88.9" stroke="#1a1a1a" stroke-width="0.8"/>
<line x1="313.45" y1="87.4" x2="313.45" y2="88.9" stroke="#1a1a1a" stroke-width="0.8"/>
<line x1="315.64" y1="87.4" x2="315.64" y2="88.9" stroke="#1a1a1a" stroke-width="0.8"/>
<line x1="317.83" y1="87.4" x2="317.83" y2="90.4" stroke="#1a1a1a" stroke-width="0.8"/>
<line x1="320.01" y1="87.4" x2="320.01" y2="88.9" stroke="#1a1a1a" stroke-width="0.8"/>
<line x1="322.2" y1="87.4" x2="322.2" y2="88.9" stroke="#1a1a1a" stroke-width="0.8"/>
<line x1="324.39" y1="87.4" x2="324.39" y2="88.9" stroke="#1a1a1a" stroke-width="0.8"/>
<line x1="326.57" y1="87.4" x2="326.57" y2="88.9" stroke="#1a1a1a" stroke-width="0.8"/>
<line x1="328.76" y1="87.4" x2="328.76" y2="90.4" stroke="#1a1a1a" stroke-width="0.8"/>
<line x1="330.94" y1="87.4" x2="330.94" y2="88.9" stroke="#1a1a1a" stroke-width="0.8"/>
<text x="285.03" y="96.8" font-size="4.5" text-anchor="middle" fill="#111" color="#111" style="stroke-width:0.07px">50</text>
<text x="295.96" y="96.8" font-size="4.5" text-anchor="middle" fill="#111" color="#111" style="stroke-width:0.07px">100</text>
<text x="306.89" y="96.8" font-size="4.5" text-anchor="middle" fill="#111" color="#111" style="stroke-width:0.07px">150</text>
<text x="317.83" y="96.8" font-size="4.5" text-anchor="middle" fill="#111" color="#111" style="stroke-width:0.07px">200</text>
<text x="328.76" y="96.8" font-size="4.5" text-anchor="middle" fill="#111" color="#111" style="stroke-width:0.07px">250</text>
<text x="303.35" y="105" font-size="6.2" text-anchor="middle" fill="#222" color="#222" textLength="12.8" lengthAdjust="spacingAndGlyphs">PE-A</text>
<text x="324.2" y="105" font-size="4.1" text-anchor="middle" fill="#222" color="#222" style="stroke-width:0.07px" textLength="15.4" lengthAdjust="spacingAndGlyphs">(x 1,000)</text>
<text x="255.4" y="60.85" font-size="6.4" text-anchor="middle" fill="#222" color="#222" transform="rotate(-90 255.4 60.85)">Count</text>
<text x="302.8" y="30.2" font-size="6.3" text-anchor="middle" fill="#222" color="#222" textLength="29.8" lengthAdjust="spacingAndGlyphs">Palbociclib</text>
<clipPath id="h3"><rect x="363.2" y="34" width="57.9" height="53.4"/></clipPath>
<path d="M363.2 87.4L363.2 87.4L363.7 87.4L364.2 87.4L364.7 87.4L365.2 87.4L365.7 87.4L366.2 87.4L366.7 87.4L367.2 87.4L367.7 87.4L368.2 87.4L368.7 87.4L369.2 87.4L369.7 87.4L370.2 87.4L370.7 87.4L371.2 87.4L371.7 87.4L372.2 87.4L372.7 87.4L373.2 87.4L373.7 87.4L374.2 87.4L374.7 87.4L375.2 87.4L375.7 87.4L376.2 87.4L376.7 87.4L377.2 87.4L377.7 87.4L378.2 87.4L378.7 87.4L379.2 87.4L379.7 87.4L380.2 87.4L380.7 87.4L381.2 87.4L381.7 87.4L382.2 87.4L382.6 87.4L382.7 86.86L383.2 84.55L383.38 83.15L383.7 76.14L384.14 66.16L384.2 63.84L384.7 47.41L384.84 42.27L385.2 37.16L385.4 34.3L385.7 39.06L385.96 42.27L386.2 50.28L386.66 66.16L386.7 66.78L387.2 78.22L387.42 83.15L387.7 84.29L388.2 87.4L388.7 87.4L389.2 87.4L389.7 87.4L390.2 87.4L390.7 87.4L391.2 87.4L391.7 87.4L392.2 87.4L392.7 87.4L393.2 87.4L393.7 87.4L394.2 87.4L394.7 87.4L395.2 87.4L395.7 87.4L396.2 87.4L396.7 87.4L397.2 87.4L397.7 87.4L398.2 87.4L398.7 87.4L399.2 87.4L399.7 87.4L400.2 87.4L400.7 87.4L401.2 87.4L401.7 87.4L402.2 87.4L402.7 86.97L403.2 86.54L403.5 86.28L403.7 86.17L404.2 85.88L404.7 85.8L404.8 85.54L405.2 85.56L405.7 86.06L406.1 86.28L406.2 86.37L406.7 86.8L407.2 87.23L407.4 87.4L407.7 87.4L408.2 87.4L408.7 87.4L409.2 87.4L409.7 87.4L410.2 87.4L410.7 87.4L411.2 87.4L411.7 87.4L412.2 87.4L412.7 87.4L413.2 87.4L413.7 87.4L414.2 87.4L414.7 87.4L415.2 87.4L415.7 87.4L416.2 87.4L416.7 87.4L417.2 87.4L417.7 87.4L418.2 87.4L418.7 87.4L419.2 87.4L419.7 87.4L420.2 87.4L420.7 87.4L421.1 87.4Z" fill="#d08b7f" stroke="#b3293c" stroke-width="1.05" stroke-linejoin="round" clip-path="url(#h3)"/>
<rect x="363.2" y="34.3" width="57.9" height="53.1" fill="none" stroke="#262626" stroke-width="1.25"/>
<text x="358" y="88.9" font-size="4.2" text-anchor="end" fill="#111" color="#111" style="stroke-width:0.07px">0</text>
<line x1="360.4" y1="87.4" x2="363.2" y2="87.4" stroke="#222" stroke-width="0.55"/>
<text x="358" y="83.47" font-size="4.2" text-anchor="end" fill="#111" color="#111" style="stroke-width:0.07px">50</text>
<line x1="360.4" y1="81.97" x2="363.2" y2="81.97" stroke="#222" stroke-width="0.55"/>
<text x="358" y="78.04" font-size="4.2" text-anchor="end" fill="#111" color="#111" style="stroke-width:0.07px">100</text>
<line x1="360.4" y1="76.54" x2="363.2" y2="76.54" stroke="#222" stroke-width="0.55"/>
<text x="358" y="72.61" font-size="4.2" text-anchor="end" fill="#111" color="#111" style="stroke-width:0.07px">150</text>
<line x1="360.4" y1="71.11" x2="363.2" y2="71.11" stroke="#222" stroke-width="0.55"/>
<text x="358" y="67.18" font-size="4.2" text-anchor="end" fill="#111" color="#111" style="stroke-width:0.07px">200</text>
<line x1="360.4" y1="65.68" x2="363.2" y2="65.68" stroke="#222" stroke-width="0.55"/>
<text x="358" y="61.75" font-size="4.2" text-anchor="end" fill="#111" color="#111" style="stroke-width:0.07px">250</text>
<line x1="360.4" y1="60.25" x2="363.2" y2="60.25" stroke="#222" stroke-width="0.55"/>
<text x="358" y="56.32" font-size="4.2" text-anchor="end" fill="#111" color="#111" style="stroke-width:0.07px">300</text>
<line x1="360.4" y1="54.82" x2="363.2" y2="54.82" stroke="#222" stroke-width="0.55"/>
<text x="358" y="50.89" font-size="4.2" text-anchor="end" fill="#111" color="#111" style="stroke-width:0.07px">350</text>
<line x1="360.4" y1="49.39" x2="363.2" y2="49.39" stroke="#222" stroke-width="0.55"/>
<text x="358" y="45.46" font-size="4.2" text-anchor="end" fill="#111" color="#111" style="stroke-width:0.07px">400</text>
<line x1="360.4" y1="43.96" x2="363.2" y2="43.96" stroke="#222" stroke-width="0.55"/>
<text x="358" y="40.03" font-size="4.2" text-anchor="end" fill="#111" color="#111" style="stroke-width:0.07px">450</text>
<line x1="360.4" y1="38.53" x2="363.2" y2="38.53" stroke="#222" stroke-width="0.55"/>
<line x1="361.7" y1="87.4" x2="363.2" y2="87.4" stroke="#1a1a1a" stroke-width="0.7"/>
<line x1="361.7" y1="86.31" x2="363.2" y2="86.31" stroke="#1a1a1a" stroke-width="0.7"/>
<line x1="361.7" y1="85.23" x2="363.2" y2="85.23" stroke="#1a1a1a" stroke-width="0.7"/>
<line x1="361.7" y1="84.14" x2="363.2" y2="84.14" stroke="#1a1a1a" stroke-width="0.7"/>
<line x1="361.7" y1="83.06" x2="363.2" y2="83.06" stroke="#1a1a1a" stroke-width="0.7"/>
<line x1="361.7" y1="81.97" x2="363.2" y2="81.97" stroke="#1a1a1a" stroke-width="0.7"/>
<line x1="361.7" y1="80.88" x2="363.2" y2="80.88" stroke="#1a1a1a" stroke-width="0.7"/>
<line x1="361.7" y1="79.8" x2="363.2" y2="79.8" stroke="#1a1a1a" stroke-width="0.7"/>
<line x1="361.7" y1="78.71" x2="363.2" y2="78.71" stroke="#1a1a1a" stroke-width="0.7"/>
<line x1="361.7" y1="77.63" x2="363.2" y2="77.63" stroke="#1a1a1a" stroke-width="0.7"/>
<line x1="361.7" y1="76.54" x2="363.2" y2="76.54" stroke="#1a1a1a" stroke-width="0.7"/>
<line x1="361.7" y1="75.46" x2="363.2" y2="75.46" stroke="#1a1a1a" stroke-width="0.7"/>
<line x1="361.7" y1="74.37" x2="363.2" y2="74.37" stroke="#1a1a1a" stroke-width="0.7"/>
<line x1="361.7" y1="73.28" x2="363.2" y2="73.28" stroke="#1a1a1a" stroke-width="0.7"/>
<line x1="361.7" y1="72.2" x2="363.2" y2="72.2" stroke="#1a1a1a" stroke-width="0.7"/>
<line x1="361.7" y1="71.11" x2="363.2" y2="71.11" stroke="#1a1a1a" stroke-width="0.7"/>
<line x1="361.7" y1="70.03" x2="363.2" y2="70.03" stroke="#1a1a1a" stroke-width="0.7"/>
<line x1="361.7" y1="68.94" x2="363.2" y2="68.94" stroke="#1a1a1a" stroke-width="0.7"/>
<line x1="361.7" y1="67.85" x2="363.2" y2="67.85" stroke="#1a1a1a" stroke-width="0.7"/>
<line x1="361.7" y1="66.77" x2="363.2" y2="66.77" stroke="#1a1a1a" stroke-width="0.7"/>
<line x1="361.7" y1="65.68" x2="363.2" y2="65.68" stroke="#1a1a1a" stroke-width="0.7"/>
<line x1="361.7" y1="64.6" x2="363.2" y2="64.6" stroke="#1a1a1a" stroke-width="0.7"/>
<line x1="361.7" y1="63.51" x2="363.2" y2="63.51" stroke="#1a1a1a" stroke-width="0.7"/>
<line x1="361.7" y1="62.42" x2="363.2" y2="62.42" stroke="#1a1a1a" stroke-width="0.7"/>
<line x1="361.7" y1="61.34" x2="363.2" y2="61.34" stroke="#1a1a1a" stroke-width="0.7"/>
<line x1="361.7" y1="60.25" x2="363.2" y2="60.25" stroke="#1a1a1a" stroke-width="0.7"/>
<line x1="361.7" y1="59.17" x2="363.2" y2="59.17" stroke="#1a1a1a" stroke-width="0.7"/>
<line x1="361.7" y1="58.08" x2="363.2" y2="58.08" stroke="#1a1a1a" stroke-width="0.7"/>
<line x1="361.7" y1="57" x2="363.2" y2="57" stroke="#1a1a1a" stroke-width="0.7"/>
<line x1="361.7" y1="55.91" x2="363.2" y2="55.91" stroke="#1a1a1a" stroke-width="0.7"/>
<line x1="361.7" y1="54.82" x2="363.2" y2="54.82" stroke="#1a1a1a" stroke-width="0.7"/>
<line x1="361.7" y1="53.74" x2="363.2" y2="53.74" stroke="#1a1a1a" stroke-width="0.7"/>
<line x1="361.7" y1="52.65" x2="363.2" y2="52.65" stroke="#1a1a1a" stroke-width="0.7"/>
<line x1="361.7" y1="51.57" x2="363.2" y2="51.57" stroke="#1a1a1a" stroke-width="0.7"/>
<line x1="361.7" y1="50.48" x2="363.2" y2="50.48" stroke="#1a1a1a" stroke-width="0.7"/>
<line x1="361.7" y1="49.39" x2="363.2" y2="49.39" stroke="#1a1a1a" stroke-width="0.7"/>
<line x1="361.7" y1="48.31" x2="363.2" y2="48.31" stroke="#1a1a1a" stroke-width="0.7"/>
<line x1="361.7" y1="47.22" x2="363.2" y2="47.22" stroke="#1a1a1a" stroke-width="0.7"/>
<line x1="361.7" y1="46.14" x2="363.2" y2="46.14" stroke="#1a1a1a" stroke-width="0.7"/>
<line x1="361.7" y1="45.05" x2="363.2" y2="45.05" stroke="#1a1a1a" stroke-width="0.7"/>
<line x1="361.7" y1="43.96" x2="363.2" y2="43.96" stroke="#1a1a1a" stroke-width="0.7"/>
<line x1="361.7" y1="42.88" x2="363.2" y2="42.88" stroke="#1a1a1a" stroke-width="0.7"/>
<line x1="361.7" y1="41.79" x2="363.2" y2="41.79" stroke="#1a1a1a" stroke-width="0.7"/>
<line x1="361.7" y1="40.71" x2="363.2" y2="40.71" stroke="#1a1a1a" stroke-width="0.7"/>
<line x1="361.7" y1="39.62" x2="363.2" y2="39.62" stroke="#1a1a1a" stroke-width="0.7"/>
<line x1="361.7" y1="38.53" x2="363.2" y2="38.53" stroke="#1a1a1a" stroke-width="0.7"/>
<line x1="361.7" y1="37.45" x2="363.2" y2="37.45" stroke="#1a1a1a" stroke-width="0.7"/>
<line x1="361.7" y1="36.36" x2="363.2" y2="36.36" stroke="#1a1a1a" stroke-width="0.7"/>
<line x1="361.7" y1="35.28" x2="363.2" y2="35.28" stroke="#1a1a1a" stroke-width="0.7"/>
<line x1="363.2" y1="87.4" x2="363.2" y2="90.4" stroke="#1a1a1a" stroke-width="0.8"/>
<line x1="365.4" y1="87.4" x2="365.4" y2="88.9" stroke="#1a1a1a" stroke-width="0.8"/>
<line x1="367.6" y1="87.4" x2="367.6" y2="88.9" stroke="#1a1a1a" stroke-width="0.8"/>
<line x1="369.8" y1="87.4" x2="369.8" y2="88.9" stroke="#1a1a1a" stroke-width="0.8"/>
<line x1="372.01" y1="87.4" x2="372.01" y2="88.9" stroke="#1a1a1a" stroke-width="0.8"/>
<line x1="374.21" y1="87.4" x2="374.21" y2="90.4" stroke="#1a1a1a" stroke-width="0.8"/>
<line x1="376.41" y1="87.4" x2="376.41" y2="88.9" stroke="#1a1a1a" stroke-width="0.8"/>
<line x1="378.61" y1="87.4" x2="378.61" y2="88.9" stroke="#1a1a1a" stroke-width="0.8"/>
<line x1="380.81" y1="87.4" x2="380.81" y2="88.9" stroke="#1a1a1a" stroke-width="0.8"/>
<line x1="383.01" y1="87.4" x2="383.01" y2="88.9" stroke="#1a1a1a" stroke-width="0.8"/>
<line x1="385.22" y1="87.4" x2="385.22" y2="90.4" stroke="#1a1a1a" stroke-width="0.8"/>
<line x1="387.42" y1="87.4" x2="387.42" y2="88.9" stroke="#1a1a1a" stroke-width="0.8"/>
<line x1="389.62" y1="87.4" x2="389.62" y2="88.9" stroke="#1a1a1a" stroke-width="0.8"/>
<line x1="391.82" y1="87.4" x2="391.82" y2="88.9" stroke="#1a1a1a" stroke-width="0.8"/>
<line x1="394.02" y1="87.4" x2="394.02" y2="88.9" stroke="#1a1a1a" stroke-width="0.8"/>
<line x1="396.22" y1="87.4" x2="396.22" y2="90.4" stroke="#1a1a1a" stroke-width="0.8"/>
<line x1="398.42" y1="87.4" x2="398.42" y2="88.9" stroke="#1a1a1a" stroke-width="0.8"/>
<line x1="400.63" y1="87.4" x2="400.63" y2="88.9" stroke="#1a1a1a" stroke-width="0.8"/>
<line x1="402.83" y1="87.4" x2="402.83" y2="88.9" stroke="#1a1a1a" stroke-width="0.8"/>
<line x1="405.03" y1="87.4" x2="405.03" y2="88.9" stroke="#1a1a1a" stroke-width="0.8"/>
<line x1="407.23" y1="87.4" x2="407.23" y2="90.4" stroke="#1a1a1a" stroke-width="0.8"/>
<line x1="409.43" y1="87.4" x2="409.43" y2="88.9" stroke="#1a1a1a" stroke-width="0.8"/>
<line x1="411.63" y1="87.4" x2="411.63" y2="88.9" stroke="#1a1a1a" stroke-width="0.8"/>
<line x1="413.83" y1="87.4" x2="413.83" y2="88.9" stroke="#1a1a1a" stroke-width="0.8"/>
<line x1="416.04" y1="87.4" x2="416.04" y2="88.9" stroke="#1a1a1a" stroke-width="0.8"/>
<line x1="418.24" y1="87.4" x2="418.24" y2="90.4" stroke="#1a1a1a" stroke-width="0.8"/>
<line x1="420.44" y1="87.4" x2="420.44" y2="88.9" stroke="#1a1a1a" stroke-width="0.8"/>
<text x="374.21" y="96.8" font-size="4.5" text-anchor="middle" fill="#111" color="#111" style="stroke-width:0.07px">50</text>
<text x="385.22" y="96.8" font-size="4.5" text-anchor="middle" fill="#111" color="#111" style="stroke-width:0.07px">100</text>
<text x="396.22" y="96.8" font-size="4.5" text-anchor="middle" fill="#111" color="#111" style="stroke-width:0.07px">150</text>
<text x="407.23" y="96.8" font-size="4.5" text-anchor="middle" fill="#111" color="#111" style="stroke-width:0.07px">200</text>
<text x="418.24" y="96.8" font-size="4.5" text-anchor="middle" fill="#111" color="#111" style="stroke-width:0.07px">250</text>
<text x="392.65" y="105" font-size="6.2" text-anchor="middle" fill="#222" color="#222" textLength="12.8" lengthAdjust="spacingAndGlyphs">PE-A</text>
<text x="413.7" y="105" font-size="4.1" text-anchor="middle" fill="#222" color="#222" style="stroke-width:0.07px" textLength="15.4" lengthAdjust="spacingAndGlyphs">(x 1,000)</text>
<text x="344.5" y="60.85" font-size="6.4" text-anchor="middle" fill="#222" color="#222" transform="rotate(-90 344.5 60.85)">Count</text>
<text x="392.2" y="30.2" font-size="6.3" text-anchor="middle" fill="#222" color="#222" textLength="33.2" lengthAdjust="spacingAndGlyphs">Abemaciclib</text>
<clipPath id="h4"><rect x="182.4" y="121.9" width="57.1" height="53.5"/></clipPath>
<path d="M182.4 175.4L182.4 175.4L182.9 175.4L183.4 175.4L183.9 175.4L184.4 175.4L184.9 175.4L185.4 175.4L185.9 175.4L186.4 175.4L186.9 175.4L187.4 175.4L187.9 175.4L188.4 175.4L188.9 175.4L189.4 175.4L189.9 175.4L190.4 175.4L190.9 175.4L191.4 175.4L191.9 175.4L192.4 175.4L192.9 175.4L193.4 175.4L193.9 175.4L194.4 175.4L194.9 175.4L195.4 175.4L195.9 175.4L196.4 175.4L196.9 175.4L197 175.4L197.4 169.22L197.7 164.76L197.9 152.67L198.4 122.73L198.9 122.78L199 122.73L199.4 136.32L199.9 154.12L200.4 162.62L200.7 168.48L200.9 169.02L201.4 170.09L201.9 172L202 171.78L202.4 171.66L202.9 171.83L203.4 171.57L203.9 171.87L204.4 172.56L204.9 172.56L205.4 172.37L205.9 173.17L206.4 172.82L206.9 173.25L207.4 173.01L207.9 173.46L208.4 173.56L208.9 172.85L209.4 173.57L209.9 173.49L210.4 173.38L210.9 172.91L211.4 173.79L211.8 173.38L211.9 173.29L212.4 172.45L212.6 172.21L212.9 170.43L213.4 168.22L213.9 165.89L214 165.82L214.4 167.95L214.9 170.08L215.4 173.5L215.7 175.4L215.9 175.4L216.4 175.4L216.9 175.4L217.4 175.4L217.9 175.4L218.4 175.4L218.9 175.4L219.4 175.4L219.9 175.4L220.4 175.4L220.9 175.4L221.4 175.4L221.9 175.4L222.4 175.4L222.9 175.4L223.4 175.4L223.9 175.4L224.4 175.4L224.9 175.4L225.4 175.4L225.9 175.4L226.4 175.4L226.9 175.4L227.4 175.4L227.9 175.4L228.4 175.4L228.9 175.4L229.4 175.4L229.9 175.4L230.4 175.4L230.9 175.4L231.4 175.4L231.9 175.4L232.4 175.4L232.9 175.4L233.4 175.4L233.9 175.4L234.4 175.4L234.9 175.4L235.4 175.4L235.9 175.4L236.4 175.4L236.9 175.4L237.4 175.4L237.9 175.4L238.4 175.4L238.9 175.4L239.4 175.4L239.5 175.4Z" fill="#d08b7f" stroke="#b3293c" stroke-width="1.05" stroke-linejoin="round" clip-path="url(#h4)"/>
<rect x="182.4" y="122.2" width="57.1" height="53.2" fill="none" stroke="#262626" stroke-width="1.25"/>
<text x="177.2" y="176.9" font-size="4.2" text-anchor="end" fill="#111" color="#111" style="stroke-width:0.07px">0</text>
<line x1="179.6" y1="175.4" x2="182.4" y2="175.4" stroke="#222" stroke-width="0.55"/>
<text x="177.2" y="170.37" font-size="4.2" text-anchor="end" fill="#111" color="#111" style="stroke-width:0.07px">100</text>
<line x1="179.6" y1="168.87" x2="182.4" y2="168.87" stroke="#222" stroke-width="0.55"/>
<text x="177.2" y="163.84" font-size="4.2" text-anchor="end" fill="#111" color="#111" style="stroke-width:0.07px">200</text>
<line x1="179.6" y1="162.34" x2="182.4" y2="162.34" stroke="#222" stroke-width="0.55"/>
<text x="177.2" y="157.32" font-size="4.2" text-anchor="end" fill="#111" color="#111" style="stroke-width:0.07px">300</text>
<line x1="179.6" y1="155.82" x2="182.4" y2="155.82" stroke="#222" stroke-width="0.55"/>
<text x="177.2" y="150.79" font-size="4.2" text-anchor="end" fill="#111" color="#111" style="stroke-width:0.07px">400</text>
<line x1="179.6" y1="149.29" x2="182.4" y2="149.29" stroke="#222" stroke-width="0.55"/>
<text x="177.2" y="144.26" font-size="4.2" text-anchor="end" fill="#111" color="#111" style="stroke-width:0.07px">500</text>
<line x1="179.6" y1="142.76" x2="182.4" y2="142.76" stroke="#222" stroke-width="0.55"/>
<text x="177.2" y="137.73" font-size="4.2" text-anchor="end" fill="#111" color="#111" style="stroke-width:0.07px">600</text>
<line x1="179.6" y1="136.23" x2="182.4" y2="136.23" stroke="#222" stroke-width="0.55"/>
<text x="177.2" y="131.21" font-size="4.2" text-anchor="end" fill="#111" color="#111" style="stroke-width:0.07px">700</text>
<line x1="179.6" y1="129.71" x2="182.4" y2="129.71" stroke="#222" stroke-width="0.55"/>
<text x="177.2" y="124.68" font-size="4.2" text-anchor="end" fill="#111" color="#111" style="stroke-width:0.07px">800</text>
<line x1="179.6" y1="123.18" x2="182.4" y2="123.18" stroke="#222" stroke-width="0.55"/>
<line x1="180.9" y1="175.4" x2="182.4" y2="175.4" stroke="#1a1a1a" stroke-width="0.7"/>
<line x1="180.9" y1="174.09" x2="182.4" y2="174.09" stroke="#1a1a1a" stroke-width="0.7"/>
<line x1="180.9" y1="172.79" x2="182.4" y2="172.79" stroke="#1a1a1a" stroke-width="0.7"/>
<line x1="180.9" y1="171.48" x2="182.4" y2="171.48" stroke="#1a1a1a" stroke-width="0.7"/>
<line x1="180.9" y1="170.18" x2="182.4" y2="170.18" stroke="#1a1a1a" stroke-width="0.7"/>
<line x1="180.9" y1="168.87" x2="182.4" y2="168.87" stroke="#1a1a1a" stroke-width="0.7"/>
<line x1="180.9" y1="167.57" x2="182.4" y2="167.57" stroke="#1a1a1a" stroke-width="0.7"/>
<line x1="180.9" y1="166.26" x2="182.4" y2="166.26" stroke="#1a1a1a" stroke-width="0.7"/>
<line x1="180.9" y1="164.96" x2="182.4" y2="164.96" stroke="#1a1a1a" stroke-width="0.7"/>
<line x1="180.9" y1="163.65" x2="182.4" y2="163.65" stroke="#1a1a1a" stroke-width="0.7"/>
<line x1="180.9" y1="162.34" x2="182.4" y2="162.34" stroke="#1a1a1a" stroke-width="0.7"/>
<line x1="180.9" y1="161.04" x2="182.4" y2="161.04" stroke="#1a1a1a" stroke-width="0.7"/>
<line x1="180.9" y1="159.73" x2="182.4" y2="159.73" stroke="#1a1a1a" stroke-width="0.7"/>
<line x1="180.9" y1="158.43" x2="182.4" y2="158.43" stroke="#1a1a1a" stroke-width="0.7"/>
<line x1="180.9" y1="157.12" x2="182.4" y2="157.12" stroke="#1a1a1a" stroke-width="0.7"/>
<line x1="180.9" y1="155.82" x2="182.4" y2="155.82" stroke="#1a1a1a" stroke-width="0.7"/>
<line x1="180.9" y1="154.51" x2="182.4" y2="154.51" stroke="#1a1a1a" stroke-width="0.7"/>
<line x1="180.9" y1="153.21" x2="182.4" y2="153.21" stroke="#1a1a1a" stroke-width="0.7"/>
<line x1="180.9" y1="151.9" x2="182.4" y2="151.9" stroke="#1a1a1a" stroke-width="0.7"/>
<line x1="180.9" y1="150.6" x2="182.4" y2="150.6" stroke="#1a1a1a" stroke-width="0.7"/>
<line x1="180.9" y1="149.29" x2="182.4" y2="149.29" stroke="#1a1a1a" stroke-width="0.7"/>
<line x1="180.9" y1="147.98" x2="182.4" y2="147.98" stroke="#1a1a1a" stroke-width="0.7"/>
<line x1="180.9" y1="146.68" x2="182.4" y2="146.68" stroke="#1a1a1a" stroke-width="0.7"/>
<line x1="180.9" y1="145.37" x2="182.4" y2="145.37" stroke="#1a1a1a" stroke-width="0.7"/>
<line x1="180.9" y1="144.07" x2="182.4" y2="144.07" stroke="#1a1a1a" stroke-width="0.7"/>
<line x1="180.9" y1="142.76" x2="182.4" y2="142.76" stroke="#1a1a1a" stroke-width="0.7"/>
<line x1="180.9" y1="141.46" x2="182.4" y2="141.46" stroke="#1a1a1a" stroke-width="0.7"/>
<line x1="180.9" y1="140.15" x2="182.4" y2="140.15" stroke="#1a1a1a" stroke-width="0.7"/>
<line x1="180.9" y1="138.85" x2="182.4" y2="138.85" stroke="#1a1a1a" stroke-width="0.7"/>
<line x1="180.9" y1="137.54" x2="182.4" y2="137.54" stroke="#1a1a1a" stroke-width="0.7"/>
<line x1="180.9" y1="136.23" x2="182.4" y2="136.23" stroke="#1a1a1a" stroke-width="0.7"/>
<line x1="180.9" y1="134.93" x2="182.4" y2="134.93" stroke="#1a1a1a" stroke-width="0.7"/>
<line x1="180.9" y1="133.62" x2="182.4" y2="133.62" stroke="#1a1a1a" stroke-width="0.7"/>
<line x1="180.9" y1="132.32" x2="182.4" y2="132.32" stroke="#1a1a1a" stroke-width="0.7"/>
<line x1="180.9" y1="131.01" x2="182.4" y2="131.01" stroke="#1a1a1a" stroke-width="0.7"/>
<line x1="180.9" y1="129.71" x2="182.4" y2="129.71" stroke="#1a1a1a" stroke-width="0.7"/>
<line x1="180.9" y1="128.4" x2="182.4" y2="128.4" stroke="#1a1a1a" stroke-width="0.7"/>
<line x1="180.9" y1="127.1" x2="182.4" y2="127.1" stroke="#1a1a1a" stroke-width="0.7"/>
<line x1="180.9" y1="125.79" x2="182.4" y2="125.79" stroke="#1a1a1a" stroke-width="0.7"/>
<line x1="180.9" y1="124.48" x2="182.4" y2="124.48" stroke="#1a1a1a" stroke-width="0.7"/>
<line x1="180.9" y1="123.18" x2="182.4" y2="123.18" stroke="#1a1a1a" stroke-width="0.7"/>
<line x1="182.4" y1="175.4" x2="182.4" y2="178.4" stroke="#1a1a1a" stroke-width="0.8"/>
<line x1="184.57" y1="175.4" x2="184.57" y2="176.9" stroke="#1a1a1a" stroke-width="0.8"/>
<line x1="186.74" y1="175.4" x2="186.74" y2="176.9" stroke="#1a1a1a" stroke-width="0.8"/>
<line x1="188.91" y1="175.4" x2="188.91" y2="176.9" stroke="#1a1a1a" stroke-width="0.8"/>
<line x1="191.08" y1="175.4" x2="191.08" y2="176.9" stroke="#1a1a1a" stroke-width="0.8"/>
<line x1="193.26" y1="175.4" x2="193.26" y2="178.4" stroke="#1a1a1a" stroke-width="0.8"/>
<line x1="195.43" y1="175.4" x2="195.43" y2="176.9" stroke="#1a1a1a" stroke-width="0.8"/>
<line x1="197.6" y1="175.4" x2="197.6" y2="176.9" stroke="#1a1a1a" stroke-width="0.8"/>
<line x1="199.77" y1="175.4" x2="199.77" y2="176.9" stroke="#1a1a1a" stroke-width="0.8"/>
<line x1="201.94" y1="175.4" x2="201.94" y2="176.9" stroke="#1a1a1a" stroke-width="0.8"/>
<line x1="204.11" y1="175.4" x2="204.11" y2="178.4" stroke="#1a1a1a" stroke-width="0.8"/>
<line x1="206.28" y1="175.4" x2="206.28" y2="176.9" stroke="#1a1a1a" stroke-width="0.8"/>
<line x1="208.45" y1="175.4" x2="208.45" y2="176.9" stroke="#1a1a1a" stroke-width="0.8"/>
<line x1="210.62" y1="175.4" x2="210.62" y2="176.9" stroke="#1a1a1a" stroke-width="0.8"/>
<line x1="212.8" y1="175.4" x2="212.8" y2="176.9" stroke="#1a1a1a" stroke-width="0.8"/>
<line x1="214.97" y1="175.4" x2="214.97" y2="178.4" stroke="#1a1a1a" stroke-width="0.8"/>
<line x1="217.14" y1="175.4" x2="217.14" y2="176.9" stroke="#1a1a1a" stroke-width="0.8"/>
<line x1="219.31" y1="175.4" x2="219.31" y2="176.9" stroke="#1a1a1a" stroke-width="0.8"/>
<line x1="221.48" y1="175.4" x2="221.48" y2="176.9" stroke="#1a1a1a" stroke-width="0.8"/>
<line x1="223.65" y1="175.4" x2="223.65" y2="176.9" stroke="#1a1a1a" stroke-width="0.8"/>
<line x1="225.82" y1="175.4" x2="225.82" y2="178.4" stroke="#1a1a1a" stroke-width="0.8"/>
<line x1="227.99" y1="175.4" x2="227.99" y2="176.9" stroke="#1a1a1a" stroke-width="0.8"/>
<line x1="230.16" y1="175.4" x2="230.16" y2="176.9" stroke="#1a1a1a" stroke-width="0.8"/>
<line x1="232.34" y1="175.4" x2="232.34" y2="176.9" stroke="#1a1a1a" stroke-width="0.8"/>
<line x1="234.51" y1="175.4" x2="234.51" y2="176.9" stroke="#1a1a1a" stroke-width="0.8"/>
<line x1="236.68" y1="175.4" x2="236.68" y2="178.4" stroke="#1a1a1a" stroke-width="0.8"/>
<line x1="238.85" y1="175.4" x2="238.85" y2="176.9" stroke="#1a1a1a" stroke-width="0.8"/>
<text x="193.26" y="184.8" font-size="4.5" text-anchor="middle" fill="#111" color="#111" style="stroke-width:0.07px">50</text>
<text x="204.11" y="184.8" font-size="4.5" text-anchor="middle" fill="#111" color="#111" style="stroke-width:0.07px">100</text>
<text x="214.97" y="184.8" font-size="4.5" text-anchor="middle" fill="#111" color="#111" style="stroke-width:0.07px">150</text>
<text x="225.82" y="184.8" font-size="4.5" text-anchor="middle" fill="#111" color="#111" style="stroke-width:0.07px">200</text>
<text x="236.68" y="184.8" font-size="4.5" text-anchor="middle" fill="#111" color="#111" style="stroke-width:0.07px">250</text>
<text x="211.45" y="193" font-size="6.2" text-anchor="middle" fill="#222" color="#222" textLength="12.8" lengthAdjust="spacingAndGlyphs">PE-A</text>
<text x="232.1" y="193" font-size="4.1" text-anchor="middle" fill="#222" color="#222" style="stroke-width:0.07px" textLength="15.4" lengthAdjust="spacingAndGlyphs">(x 1,000)</text>
<text x="163.2" y="148.8" font-size="6.4" text-anchor="middle" fill="#222" color="#222" transform="rotate(-90 163.2 148.8)">Count</text>
<clipPath id="h5"><rect x="274.1" y="121.9" width="57.5" height="53.5"/></clipPath>
<path d="M274.1 175.4L274.1 175.4L274.6 175.4L275.1 175.4L275.6 175.4L276.1 175.4L276.6 175.4L277.1 175.4L277.6 175.4L278.1 175.4L278.6 175.4L279.1 175.4L279.6 175.4L280.1 175.4L280.6 175.4L281.1 175.4L281.6 175.4L282.1 175.4L282.6 175.4L283.1 175.4L283.6 175.4L284.1 175.4L284.6 175.4L285.1 175.4L285.6 175.4L286.1 175.4L286.6 175.4L287.1 175.4L287.6 175.4L288.1 175.4L288.2 175.4L288.6 172.51L288.76 171.14L289.1 160.02L289.3 154.12L289.6 139.27L289.8 130.18L290.1 124.57L290.2 122.2L290.6 130.18L291.1 154.12L291.6 170.23L291.64 171.14L292.1 174.64L292.2 175.4L292.6 175.4L293.1 175.4L293.6 175.4L294.1 175.4L294.6 175.4L295.1 175.4L295.6 175.4L296.1 175.4L296.6 175.4L297.1 175.4L297.6 175.4L298.1 175.4L298.6 175.4L299.1 175.4L299.6 175.4L300.1 175.4L300.6 175.4L301.1 175.4L301.6 175.4L302.1 175.4L302.6 175.4L303.1 175.4L303.6 175.4L304.1 175.4L304.4 175.4L304.6 175.21L305 174.83L305.1 174.76L305.6 174.44L306.1 174.76L306.2 174.83L306.6 175.21L306.8 175.4L307.1 175.4L307.6 175.4L308.1 175.4L308.6 175.4L309.1 175.4L309.6 175.4L310.1 175.4L310.6 175.4L311.1 175.4L311.6 175.4L312.1 175.4L312.6 175.4L313.1 175.4L313.6 175.4L314.1 175.4L314.6 175.4L315.1 175.4L315.6 175.4L316.1 175.4L316.6 175.4L317.1 175.4L317.6 175.4L318.1 175.4L318.6 175.4L319.1 175.4L319.6 175.4L320.1 175.4L320.6 175.4L321.1 175.4L321.6 175.4L322.1 175.4L322.6 175.4L323.1 175.4L323.6 175.4L324.1 175.4L324.6 175.4L325.1 175.4L325.6 175.4L326.1 175.4L326.6 175.4L327.1 175.4L327.6 175.4L328.1 175.4L328.6 175.4L329.1 175.4L329.6 175.4L330.1 175.4L330.6 175.4L331.1 175.4L331.6 175.4L331.6 175.4Z" fill="#d08b7f" stroke="#b3293c" stroke-width="1.05" stroke-linejoin="round" clip-path="url(#h5)"/>
<rect x="274.1" y="122.2" width="57.5" height="53.2" fill="none" stroke="#262626" stroke-width="1.25"/>
<text x="268.9" y="176.9" font-size="4.2" text-anchor="end" fill="#111" color="#111" style="stroke-width:0.07px">0</text>
<line x1="271.3" y1="175.4" x2="274.1" y2="175.4" stroke="#222" stroke-width="0.55"/>
<text x="268.9" y="165.25" font-size="4.2" text-anchor="end" fill="#111" color="#111" style="stroke-width:0.07px">250</text>
<line x1="271.3" y1="163.75" x2="274.1" y2="163.75" stroke="#222" stroke-width="0.55"/>
<text x="268.9" y="153.61" font-size="4.2" text-anchor="end" fill="#111" color="#111" style="stroke-width:0.07px">500</text>
<line x1="271.3" y1="152.11" x2="274.1" y2="152.11" stroke="#222" stroke-width="0.55"/>
<text x="268.9" y="141.96" font-size="4.2" text-anchor="end" fill="#111" color="#111" style="stroke-width:0.07px">750</text>
<line x1="271.3" y1="140.46" x2="274.1" y2="140.46" stroke="#222" stroke-width="0.55"/>
<text x="268.9" y="130.32" font-size="4.2" text-anchor="end" fill="#111" color="#111" style="stroke-width:0.07px">1,000</text>
<line x1="271.3" y1="128.82" x2="274.1" y2="128.82" stroke="#222" stroke-width="0.55"/>
<line x1="272.6" y1="175.4" x2="274.1" y2="175.4" stroke="#1a1a1a" stroke-width="0.7"/>
<line x1="272.6" y1="174.24" x2="274.1" y2="174.24" stroke="#1a1a1a" stroke-width="0.7"/>
<line x1="272.6" y1="173.07" x2="274.1" y2="173.07" stroke="#1a1a1a" stroke-width="0.7"/>
<line x1="272.6" y1="171.91" x2="274.1" y2="171.91" stroke="#1a1a1a" stroke-width="0.7"/>
<line x1="272.6" y1="170.74" x2="274.1" y2="170.74" stroke="#1a1a1a" stroke-width="0.7"/>
<line x1="272.6" y1="169.58" x2="274.1" y2="169.58" stroke="#1a1a1a" stroke-width="0.7"/>
<line x1="272.6" y1="168.41" x2="274.1" y2="168.41" stroke="#1a1a1a" stroke-width="0.7"/>
<line x1="272.6" y1="167.25" x2="274.1" y2="167.25" stroke="#1a1a1a" stroke-width="0.7"/>
<line x1="272.6" y1="166.08" x2="274.1" y2="166.08" stroke="#1a1a1a" stroke-width="0.7"/>
<line x1="272.6" y1="164.92" x2="274.1" y2="164.92" stroke="#1a1a1a" stroke-width="0.7"/>
<line x1="272.6" y1="163.75" x2="274.1" y2="163.75" stroke="#1a1a1a" stroke-width="0.7"/>
<line x1="272.6" y1="162.59" x2="274.1" y2="162.59" stroke="#1a1a1a" stroke-width="0.7"/>
<line x1="272.6" y1="161.42" x2="274.1" y2="161.42" stroke="#1a1a1a" stroke-width="0.7"/>
<line x1="272.6" y1="160.26" x2="274.1" y2="160.26" stroke="#1a1a1a" stroke-width="0.7"/>
<line x1="272.6" y1="159.1" x2="274.1" y2="159.1" stroke="#1a1a1a" stroke-width="0.7"/>
<line x1="272.6" y1="157.93" x2="274.1" y2="157.93" stroke="#1a1a1a" stroke-width="0.7"/>
<line x1="272.6" y1="156.77" x2="274.1" y2="156.77" stroke="#1a1a1a" stroke-width="0.7"/>
<line x1="272.6" y1="155.6" x2="274.1" y2="155.6" stroke="#1a1a1a" stroke-width="0.7"/>
<line x1="272.6" y1="154.44" x2="274.1" y2="154.44" stroke="#1a1a1a" stroke-width="0.7"/>
<line x1="272.6" y1="153.27" x2="274.1" y2="153.27" stroke="#1a1a1a" stroke-width="0.7"/>
<line x1="272.6" y1="152.11" x2="274.1" y2="152.11" stroke="#1a1a1a" stroke-width="0.7"/>
<line x1="272.6" y1="150.94" x2="274.1" y2="150.94" stroke="#1a1a1a" stroke-width="0.7"/>
<line x1="272.6" y1="149.78" x2="274.1" y2="149.78" stroke="#1a1a1a" stroke-width="0.7"/>
<line x1="272.6" y1="148.61" x2="274.1" y2="148.61" stroke="#1a1a1a" stroke-width="0.7"/>
<line x1="272.6" y1="147.45" x2="274.1" y2="147.45" stroke="#1a1a1a" stroke-width="0.7"/>
<line x1="272.6" y1="146.28" x2="274.1" y2="146.28" stroke="#1a1a1a" stroke-width="0.7"/>
<line x1="272.6" y1="145.12" x2="274.1" y2="145.12" stroke="#1a1a1a" stroke-width="0.7"/>
<line x1="272.6" y1="143.96" x2="274.1" y2="143.96" stroke="#1a1a1a" stroke-width="0.7"/>
<line x1="272.6" y1="142.79" x2="274.1" y2="142.79" stroke="#1a1a1a" stroke-width="0.7"/>
<line x1="272.6" y1="141.63" x2="274.1" y2="141.63" stroke="#1a1a1a" stroke-width="0.7"/>
<line x1="272.6" y1="140.46" x2="274.1" y2="140.46" stroke="#1a1a1a" stroke-width="0.7"/>
<line x1="272.6" y1="139.3" x2="274.1" y2="139.3" stroke="#1a1a1a" stroke-width="0.7"/>
<line x1="272.6" y1="138.13" x2="274.1" y2="138.13" stroke="#1a1a1a" stroke-width="0.7"/>
<line x1="272.6" y1="136.97" x2="274.1" y2="136.97" stroke="#1a1a1a" stroke-width="0.7"/>
<line x1="272.6" y1="135.8" x2="274.1" y2="135.8" stroke="#1a1a1a" stroke-width="0.7"/>
<line x1="272.6" y1="134.64" x2="274.1" y2="134.64" stroke="#1a1a1a" stroke-width="0.7"/>
<line x1="272.6" y1="133.47" x2="274.1" y2="133.47" stroke="#1a1a1a" stroke-width="0.7"/>
<line x1="272.6" y1="132.31" x2="274.1" y2="132.31" stroke="#1a1a1a" stroke-width="0.7"/>
<line x1="272.6" y1="131.14" x2="274.1" y2="131.14" stroke="#1a1a1a" stroke-width="0.7"/>
<line x1="272.6" y1="129.98" x2="274.1" y2="129.98" stroke="#1a1a1a" stroke-width="0.7"/>
<line x1="272.6" y1="128.82" x2="274.1" y2="128.82" stroke="#1a1a1a" stroke-width="0.7"/>
<line x1="272.6" y1="127.65" x2="274.1" y2="127.65" stroke="#1a1a1a" stroke-width="0.7"/>
<line x1="272.6" y1="126.49" x2="274.1" y2="126.49" stroke="#1a1a1a" stroke-width="0.7"/>
<line x1="272.6" y1="125.32" x2="274.1" y2="125.32" stroke="#1a1a1a" stroke-width="0.7"/>
<line x1="272.6" y1="124.16" x2="274.1" y2="124.16" stroke="#1a1a1a" stroke-width="0.7"/>
<line x1="272.6" y1="122.99" x2="274.1" y2="122.99" stroke="#1a1a1a" stroke-width="0.7"/>
<line x1="274.1" y1="175.4" x2="274.1" y2="178.4" stroke="#1a1a1a" stroke-width="0.8"/>
<line x1="276.29" y1="175.4" x2="276.29" y2="176.9" stroke="#1a1a1a" stroke-width="0.8"/>
<line x1="278.47" y1="175.4" x2="278.47" y2="176.9" stroke="#1a1a1a" stroke-width="0.8"/>
<line x1="280.66" y1="175.4" x2="280.66" y2="176.9" stroke="#1a1a1a" stroke-width="0.8"/>
<line x1="282.85" y1="175.4" x2="282.85" y2="176.9" stroke="#1a1a1a" stroke-width="0.8"/>
<line x1="285.03" y1="175.4" x2="285.03" y2="178.4" stroke="#1a1a1a" stroke-width="0.8"/>
<line x1="287.22" y1="175.4" x2="287.22" y2="176.9" stroke="#1a1a1a" stroke-width="0.8"/>
<line x1="289.4" y1="175.4" x2="289.4" y2="176.9" stroke="#1a1a1a" stroke-width="0.8"/>
<line x1="291.59" y1="175.4" x2="291.59" y2="176.9" stroke="#1a1a1a" stroke-width="0.8"/>
<line x1="293.78" y1="175.4" x2="293.78" y2="176.9" stroke="#1a1a1a" stroke-width="0.8"/>
<line x1="295.96" y1="175.4" x2="295.96" y2="178.4" stroke="#1a1a1a" stroke-width="0.8"/>
<line x1="298.15" y1="175.4" x2="298.15" y2="176.9" stroke="#1a1a1a" stroke-width="0.8"/>
<line x1="300.34" y1="175.4" x2="300.34" y2="176.9" stroke="#1a1a1a" stroke-width="0.8"/>
<line x1="302.52" y1="175.4" x2="302.52" y2="176.9" stroke="#1a1a1a" stroke-width="0.8"/>
<line x1="304.71" y1="175.4" x2="304.71" y2="176.9" stroke="#1a1a1a" stroke-width="0.8"/>
<line x1="306.89" y1="175.4" x2="306.89" y2="178.4" stroke="#1a1a1a" stroke-width="0.8"/>
<line x1="309.08" y1="175.4" x2="309.08" y2="176.9" stroke="#1a1a1a" stroke-width="0.8"/>
<line x1="311.27" y1="175.4" x2="311.27" y2="176.9" stroke="#1a1a1a" stroke-width="0.8"/>
<line x1="313.45" y1="175.4" x2="313.45" y2="176.9" stroke="#1a1a1a" stroke-width="0.8"/>
<line x1="315.64" y1="175.4" x2="315.64" y2="176.9" stroke="#1a1a1a" stroke-width="0.8"/>
<line x1="317.83" y1="175.4" x2="317.83" y2="178.4" stroke="#1a1a1a" stroke-width="0.8"/>
<line x1="320.01" y1="175.4" x2="320.01" y2="176.9" stroke="#1a1a1a" stroke-width="0.8"/>
<line x1="322.2" y1="175.4" x2="322.2" y2="176.9" stroke="#1a1a1a" stroke-width="0.8"/>
<line x1="324.39" y1="175.4" x2="324.39" y2="176.9" stroke="#1a1a1a" stroke-width="0.8"/>
<line x1="326.57" y1="175.4" x2="326.57" y2="176.9" stroke="#1a1a1a" stroke-width="0.8"/>
<line x1="328.76" y1="175.4" x2="328.76" y2="178.4" stroke="#1a1a1a" stroke-width="0.8"/>
<line x1="330.94" y1="175.4" x2="330.94" y2="176.9" stroke="#1a1a1a" stroke-width="0.8"/>
<text x="285.03" y="184.8" font-size="4.5" text-anchor="middle" fill="#111" color="#111" style="stroke-width:0.07px">50</text>
<text x="295.96" y="184.8" font-size="4.5" text-anchor="middle" fill="#111" color="#111" style="stroke-width:0.07px">100</text>
<text x="306.89" y="184.8" font-size="4.5" text-anchor="middle" fill="#111" color="#111" style="stroke-width:0.07px">150</text>
<text x="317.83" y="184.8" font-size="4.5" text-anchor="middle" fill="#111" color="#111" style="stroke-width:0.07px">200</text>
<text x="328.76" y="184.8" font-size="4.5" text-anchor="middle" fill="#111" color="#111" style="stroke-width:0.07px">250</text>
<text x="303.35" y="193" font-size="6.2" text-anchor="middle" fill="#222" color="#222" textLength="12.8" lengthAdjust="spacingAndGlyphs">PE-A</text>
<text x="324.2" y="193" font-size="4.1" text-anchor="middle" fill="#222" color="#222" style="stroke-width:0.07px" textLength="15.4" lengthAdjust="spacingAndGlyphs">(x 1,000)</text>
<text x="255.4" y="148.8" font-size="6.4" text-anchor="middle" fill="#222" color="#222" transform="rotate(-90 255.4 148.8)">Count</text>
<clipPath id="h6"><rect x="363.2" y="121.9" width="57.9" height="53.5"/></clipPath>
<path d="M363.2 175.4L363.2 175.4L363.7 175.4L364.2 175.4L364.7 175.4L365.2 175.4L365.7 175.4L366.2 175.4L366.7 175.4L367.2 175.4L367.7 175.4L368.2 175.4L368.7 175.4L369.2 175.4L369.7 175.4L370.2 175.4L370.7 175.4L371.2 175.4L371.7 175.4L372.2 175.4L372.7 175.4L373.2 175.4L373.7 175.4L374.2 175.4L374.7 175.4L375.2 175.4L375.7 175.4L376.2 175.4L376.7 175.4L377.2 175.4L377.7 171.89L377.76 171.14L378.2 157.56L378.3 154.12L378.7 134.98L378.8 130.18L379.2 122.2L379.6 130.18L379.7 134.87L380.1 154.12L380.2 157.53L380.64 171.14L380.7 172.13L381.2 175.4L381.7 175.4L382.2 175.4L382.7 175.4L383.2 175.4L383.7 175.4L384.2 175.4L384.7 175.4L385.2 175.4L385.7 175.4L386.2 175.4L386.7 175.4L387.2 175.4L387.7 175.4L388.2 175.4L388.7 175.4L389.2 175.4L389.7 175.4L390.2 175.4L390.7 175.4L391.2 175.4L391.7 175.4L392.2 175.4L392.7 174.66L392.95 174.28L393.2 174.03L393.7 173.54L394.2 174.03L394.45 174.28L394.7 174.66L395.2 175.4L395.7 175.4L396.2 175.4L396.7 175.4L397.2 175.4L397.7 175.4L398.2 175.4L398.7 175.4L399.2 175.4L399.7 175.4L400.2 175.4L400.7 175.4L401.2 175.4L401.7 175.4L402.2 175.4L402.7 175.4L403.2 175.4L403.7 175.4L404.2 175.4L404.7 175.4L405.2 175.4L405.7 175.4L406.2 175.4L406.7 175.4L407.2 175.4L407.7 175.4L408.2 175.4L408.7 175.4L409.2 175.4L409.7 175.4L410.2 175.4L410.7 175.4L411.2 175.4L411.7 175.4L412.2 175.4L412.7 175.4L413.2 175.4L413.7 175.4L414.2 175.4L414.7 175.4L415.2 175.4L415.7 175.4L416.2 175.4L416.7 175.4L417.2 175.4L417.7 175.4L418.2 175.4L418.7 175.4L419.2 175.4L419.7 175.4L420.2 175.4L420.7 175.4L421.1 175.4Z" fill="#d08b7f" stroke="#b3293c" stroke-width="1.05" stroke-linejoin="round" clip-path="url(#h6)"/>
<rect x="363.2" y="122.2" width="57.9" height="53.2" fill="none" stroke="#262626" stroke-width="1.25"/>
<text x="358" y="176.9" font-size="4.2" text-anchor="end" fill="#111" color="#111" style="stroke-width:0.07px">0</text>
<line x1="360.4" y1="175.4" x2="363.2" y2="175.4" stroke="#222" stroke-width="0.55"/>
<text x="358" y="165.23" font-size="4.2" text-anchor="end" fill="#111" color="#111" style="stroke-width:0.07px">250</text>
<line x1="360.4" y1="163.73" x2="363.2" y2="163.73" stroke="#222" stroke-width="0.55"/>
<text x="358" y="153.57" font-size="4.2" text-anchor="end" fill="#111" color="#111" style="stroke-width:0.07px">500</text>
<line x1="360.4" y1="152.07" x2="363.2" y2="152.07" stroke="#222" stroke-width="0.55"/>
<text x="358" y="141.9" font-size="4.2" text-anchor="end" fill="#111" color="#111" style="stroke-width:0.07px">750</text>
<line x1="360.4" y1="140.4" x2="363.2" y2="140.4" stroke="#222" stroke-width="0.55"/>
<text x="358" y="130.23" font-size="4.2" text-anchor="end" fill="#111" color="#111" style="stroke-width:0.07px">1,000</text>
<line x1="360.4" y1="128.73" x2="363.2" y2="128.73" stroke="#222" stroke-width="0.55"/>
<line x1="361.7" y1="175.4" x2="363.2" y2="175.4" stroke="#1a1a1a" stroke-width="0.7"/>
<line x1="361.7" y1="174.23" x2="363.2" y2="174.23" stroke="#1a1a1a" stroke-width="0.7"/>
<line x1="361.7" y1="173.07" x2="363.2" y2="173.07" stroke="#1a1a1a" stroke-width="0.7"/>
<line x1="361.7" y1="171.9" x2="363.2" y2="171.9" stroke="#1a1a1a" stroke-width="0.7"/>
<line x1="361.7" y1="170.73" x2="363.2" y2="170.73" stroke="#1a1a1a" stroke-width="0.7"/>
<line x1="361.7" y1="169.57" x2="363.2" y2="169.57" stroke="#1a1a1a" stroke-width="0.7"/>
<line x1="361.7" y1="168.4" x2="363.2" y2="168.4" stroke="#1a1a1a" stroke-width="0.7"/>
<line x1="361.7" y1="167.23" x2="363.2" y2="167.23" stroke="#1a1a1a" stroke-width="0.7"/>
<line x1="361.7" y1="166.07" x2="363.2" y2="166.07" stroke="#1a1a1a" stroke-width="0.7"/>
<line x1="361.7" y1="164.9" x2="363.2" y2="164.9" stroke="#1a1a1a" stroke-width="0.7"/>
<line x1="361.7" y1="163.73" x2="363.2" y2="163.73" stroke="#1a1a1a" stroke-width="0.7"/>
<line x1="361.7" y1="162.57" x2="363.2" y2="162.57" stroke="#1a1a1a" stroke-width="0.7"/>
<line x1="361.7" y1="161.4" x2="363.2" y2="161.4" stroke="#1a1a1a" stroke-width="0.7"/>
<line x1="361.7" y1="160.23" x2="363.2" y2="160.23" stroke="#1a1a1a" stroke-width="0.7"/>
<line x1="361.7" y1="159.07" x2="363.2" y2="159.07" stroke="#1a1a1a" stroke-width="0.7"/>
<line x1="361.7" y1="157.9" x2="363.2" y2="157.9" stroke="#1a1a1a" stroke-width="0.7"/>
<line x1="361.7" y1="156.73" x2="363.2" y2="156.73" stroke="#1a1a1a" stroke-width="0.7"/>
<line x1="361.7" y1="155.57" x2="363.2" y2="155.57" stroke="#1a1a1a" stroke-width="0.7"/>
<line x1="361.7" y1="154.4" x2="363.2" y2="154.4" stroke="#1a1a1a" stroke-width="0.7"/>
<line x1="361.7" y1="153.23" x2="363.2" y2="153.23" stroke="#1a1a1a" stroke-width="0.7"/>
<line x1="361.7" y1="152.07" x2="363.2" y2="152.07" stroke="#1a1a1a" stroke-width="0.7"/>
<line x1="361.7" y1="150.9" x2="363.2" y2="150.9" stroke="#1a1a1a" stroke-width="0.7"/>
<line x1="361.7" y1="149.73" x2="363.2" y2="149.73" stroke="#1a1a1a" stroke-width="0.7"/>
<line x1="361.7" y1="148.57" x2="363.2" y2="148.57" stroke="#1a1a1a" stroke-width="0.7"/>
<line x1="361.7" y1="147.4" x2="363.2" y2="147.4" stroke="#1a1a1a" stroke-width="0.7"/>
<line x1="361.7" y1="146.23" x2="363.2" y2="146.23" stroke="#1a1a1a" stroke-width="0.7"/>
<line x1="361.7" y1="145.07" x2="363.2" y2="145.07" stroke="#1a1a1a" stroke-width="0.7"/>
<line x1="361.7" y1="143.9" x2="363.2" y2="143.9" stroke="#1a1a1a" stroke-width="0.7"/>
<line x1="361.7" y1="142.73" x2="363.2" y2="142.73" stroke="#1a1a1a" stroke-width="0.7"/>
<line x1="361.7" y1="141.57" x2="363.2" y2="141.57" stroke="#1a1a1a" stroke-width="0.7"/>
<line x1="361.7" y1="140.4" x2="363.2" y2="140.4" stroke="#1a1a1a" stroke-width="0.7"/>
<line x1="361.7" y1="139.23" x2="363.2" y2="139.23" stroke="#1a1a1a" stroke-width="0.7"/>
<line x1="361.7" y1="138.07" x2="363.2" y2="138.07" stroke="#1a1a1a" stroke-width="0.7"/>
<line x1="361.7" y1="136.9" x2="363.2" y2="136.9" stroke="#1a1a1a" stroke-width="0.7"/>
<line x1="361.7" y1="135.73" x2="363.2" y2="135.73" stroke="#1a1a1a" stroke-width="0.7"/>
<line x1="361.7" y1="134.57" x2="363.2" y2="134.57" stroke="#1a1a1a" stroke-width="0.7"/>
<line x1="361.7" y1="133.4" x2="363.2" y2="133.4" stroke="#1a1a1a" stroke-width="0.7"/>
<line x1="361.7" y1="132.23" x2="363.2" y2="132.23" stroke="#1a1a1a" stroke-width="0.7"/>
<line x1="361.7" y1="131.07" x2="363.2" y2="131.07" stroke="#1a1a1a" stroke-width="0.7"/>
<line x1="361.7" y1="129.9" x2="363.2" y2="129.9" stroke="#1a1a1a" stroke-width="0.7"/>
<line x1="361.7" y1="128.73" x2="363.2" y2="128.73" stroke="#1a1a1a" stroke-width="0.7"/>
<line x1="361.7" y1="127.57" x2="363.2" y2="127.57" stroke="#1a1a1a" stroke-width="0.7"/>
<line x1="361.7" y1="126.4" x2="363.2" y2="126.4" stroke="#1a1a1a" stroke-width="0.7"/>
<line x1="361.7" y1="125.23" x2="363.2" y2="125.23" stroke="#1a1a1a" stroke-width="0.7"/>
<line x1="361.7" y1="124.07" x2="363.2" y2="124.07" stroke="#1a1a1a" stroke-width="0.7"/>
<line x1="361.7" y1="122.9" x2="363.2" y2="122.9" stroke="#1a1a1a" stroke-width="0.7"/>
<line x1="363.2" y1="175.4" x2="363.2" y2="178.4" stroke="#1a1a1a" stroke-width="0.8"/>
<line x1="365.4" y1="175.4" x2="365.4" y2="176.9" stroke="#1a1a1a" stroke-width="0.8"/>
<line x1="367.6" y1="175.4" x2="367.6" y2="176.9" stroke="#1a1a1a" stroke-width="0.8"/>
<line x1="369.8" y1="175.4" x2="369.8" y2="176.9" stroke="#1a1a1a" stroke-width="0.8"/>
<line x1="372.01" y1="175.4" x2="372.01" y2="176.9" stroke="#1a1a1a" stroke-width="0.8"/>
<line x1="374.21" y1="175.4" x2="374.21" y2="178.4" stroke="#1a1a1a" stroke-width="0.8"/>
<line x1="376.41" y1="175.4" x2="376.41" y2="176.9" stroke="#1a1a1a" stroke-width="0.8"/>
<line x1="378.61" y1="175.4" x2="378.61" y2="176.9" stroke="#1a1a1a" stroke-width="0.8"/>
<line x1="380.81" y1="175.4" x2="380.81" y2="176.9" stroke="#1a1a1a" stroke-width="0.8"/>
<line x1="383.01" y1="175.4" x2="383.01" y2="176.9" stroke="#1a1a1a" stroke-width="0.8"/>
<line x1="385.22" y1="175.4" x2="385.22" y2="178.4" stroke="#1a1a1a" stroke-width="0.8"/>
<line x1="387.42" y1="175.4" x2="387.42" y2="176.9" stroke="#1a1a1a" stroke-width="0.8"/>
<line x1="389.62" y1="175.4" x2="389.62" y2="176.9" stroke="#1a1a1a" stroke-width="0.8"/>
<line x1="391.82" y1="175.4" x2="391.82" y2="176.9" stroke="#1a1a1a" stroke-width="0.8"/>
<line x1="394.02" y1="175.4" x2="394.02" y2="176.9" stroke="#1a1a1a" stroke-width="0.8"/>
<line x1="396.22" y1="175.4" x2="396.22" y2="178.4" stroke="#1a1a1a" stroke-width="0.8"/>
<line x1="398.42" y1="175.4" x2="398.42" y2="176.9" stroke="#1a1a1a" stroke-width="0.8"/>
<line x1="400.63" y1="175.4" x2="400.63" y2="176.9" stroke="#1a1a1a" stroke-width="0.8"/>
<line x1="402.83" y1="175.4" x2="402.83" y2="176.9" stroke="#1a1a1a" stroke-width="0.8"/>
<line x1="405.03" y1="175.4" x2="405.03" y2="176.9" stroke="#1a1a1a" stroke-width="0.8"/>
<line x1="407.23" y1="175.4" x2="407.23" y2="178.4" stroke="#1a1a1a" stroke-width="0.8"/>
<line x1="409.43" y1="175.4" x2="409.43" y2="176.9" stroke="#1a1a1a" stroke-width="0.8"/>
<line x1="411.63" y1="175.4" x2="411.63" y2="176.9" stroke="#1a1a1a" stroke-width="0.8"/>
<line x1="413.83" y1="175.4" x2="413.83" y2="176.9" stroke="#1a1a1a" stroke-width="0.8"/>
<line x1="416.04" y1="175.4" x2="416.04" y2="176.9" stroke="#1a1a1a" stroke-width="0.8"/>
<line x1="418.24" y1="175.4" x2="418.24" y2="178.4" stroke="#1a1a1a" stroke-width="0.8"/>
<line x1="420.44" y1="175.4" x2="420.44" y2="176.9" stroke="#1a1a1a" stroke-width="0.8"/>
<text x="374.21" y="184.8" font-size="4.5" text-anchor="middle" fill="#111" color="#111" style="stroke-width:0.07px">50</text>
<text x="385.22" y="184.8" font-size="4.5" text-anchor="middle" fill="#111" color="#111" style="stroke-width:0.07px">100</text>
<text x="396.22" y="184.8" font-size="4.5" text-anchor="middle" fill="#111" color="#111" style="stroke-width:0.07px">150</text>
<text x="407.23" y="184.8" font-size="4.5" text-anchor="middle" fill="#111" color="#111" style="stroke-width:0.07px">200</text>
<text x="418.24" y="184.8" font-size="4.5" text-anchor="middle" fill="#111" color="#111" style="stroke-width:0.07px">250</text>
<text x="392.65" y="193" font-size="6.2" text-anchor="middle" fill="#222" color="#222" textLength="12.8" lengthAdjust="spacingAndGlyphs">PE-A</text>
<text x="413.7" y="193" font-size="4.1" text-anchor="middle" fill="#222" color="#222" style="stroke-width:0.07px" textLength="15.4" lengthAdjust="spacingAndGlyphs">(x 1,000)</text>
<text x="344.5" y="148.8" font-size="6.4" text-anchor="middle" fill="#222" color="#222" transform="rotate(-90 344.5 148.8)">Count</text>
<clipPath id="h7"><rect x="182.4" y="206.6" width="57.1" height="53.7"/></clipPath>
<path d="M182.4 260.3L182.4 260.3L182.9 260.3L183.4 260.3L183.9 260.3L184.4 260.3L184.9 260.3L185.4 260.3L185.9 260.3L186.4 260.3L186.9 260.3L187.4 260.3L187.9 260.3L188.4 260.3L188.9 260.3L189.4 260.3L189.9 260.3L190.4 260.3L190.9 260.3L191.4 260.3L191.9 260.3L192.4 260.3L192.9 260.3L193.4 260.3L193.9 260.3L194.4 260.3L194.9 260.3L195.4 260.3L195.8 260.3L195.9 258.77L196.4 251.23L196.5 249.62L196.9 221.64L197.1 207.43L197.4 207.36L197.9 206.95L198.3 207.43L198.4 212.49L198.9 239L199 244.28L199.4 254.11L199.9 254.43L200.4 254.82L200.7 255.28L200.9 255.82L201.4 255.08L201.9 255.36L202.4 255.42L202.9 255.66L203.4 256.25L203.9 256.41L204.4 256.88L204.9 256.62L205.4 256.57L205.9 257.29L206.4 257.39L206.9 257.34L207.4 257.49L207.9 257.4L208.4 257.81L208.8 257.42L208.9 257.55L209.4 255.36L209.9 253.39L210.4 251.09L210.9 248.93L211.4 252.78L211.8 254.96L211.9 255.15L212.4 258.4L212.7 260.3L212.9 260.3L213.4 260.3L213.9 260.3L214.4 260.3L214.9 260.3L215.4 260.3L215.9 260.3L216.4 260.3L216.9 260.3L217.4 260.3L217.9 260.3L218.4 260.3L218.9 260.3L219.4 260.3L219.9 260.3L220.4 260.3L220.9 260.3L221.4 260.3L221.9 260.3L222.4 260.3L222.9 260.3L223.4 260.3L223.9 260.3L224.4 260.3L224.9 260.3L225.4 260.3L225.9 260.3L226.4 260.3L226.9 260.3L227.4 260.3L227.9 260.3L228.4 260.3L228.9 260.3L229.4 260.3L229.9 260.3L230.4 260.3L230.9 260.3L231.4 260.3L231.9 260.3L232.4 260.3L232.9 260.3L233.4 260.3L233.9 260.3L234.4 260.3L234.9 260.3L235.4 260.3L235.9 260.3L236.4 260.3L236.9 260.3L237.4 260.3L237.9 260.3L238.4 260.3L238.9 260.3L239.4 260.3L239.5 260.3Z" fill="#d08b7f" stroke="#b3293c" stroke-width="1.05" stroke-linejoin="round" clip-path="url(#h7)"/>
<rect x="182.4" y="206.9" width="57.1" height="53.4" fill="none" stroke="#262626" stroke-width="1.25"/>
<text x="177.2" y="261.8" font-size="4.2" text-anchor="end" fill="#111" color="#111" style="stroke-width:0.07px">0</text>
<line x1="179.6" y1="260.3" x2="182.4" y2="260.3" stroke="#222" stroke-width="0.55"/>
<text x="177.2" y="255.39" font-size="4.2" text-anchor="end" fill="#111" color="#111" style="stroke-width:0.07px">100</text>
<line x1="179.6" y1="253.89" x2="182.4" y2="253.89" stroke="#222" stroke-width="0.55"/>
<text x="177.2" y="248.98" font-size="4.2" text-anchor="end" fill="#111" color="#111" style="stroke-width:0.07px">200</text>
<line x1="179.6" y1="247.48" x2="182.4" y2="247.48" stroke="#222" stroke-width="0.55"/>
<text x="177.2" y="242.57" font-size="4.2" text-anchor="end" fill="#111" color="#111" style="stroke-width:0.07px">300</text>
<line x1="179.6" y1="241.07" x2="182.4" y2="241.07" stroke="#222" stroke-width="0.55"/>
<text x="177.2" y="236.16" font-size="4.2" text-anchor="end" fill="#111" color="#111" style="stroke-width:0.07px">400</text>
<line x1="179.6" y1="234.66" x2="182.4" y2="234.66" stroke="#222" stroke-width="0.55"/>
<text x="177.2" y="229.75" font-size="4.2" text-anchor="end" fill="#111" color="#111" style="stroke-width:0.07px">500</text>
<line x1="179.6" y1="228.25" x2="182.4" y2="228.25" stroke="#222" stroke-width="0.55"/>
<text x="177.2" y="223.34" font-size="4.2" text-anchor="end" fill="#111" color="#111" style="stroke-width:0.07px">600</text>
<line x1="179.6" y1="221.84" x2="182.4" y2="221.84" stroke="#222" stroke-width="0.55"/>
<text x="177.2" y="216.93" font-size="4.2" text-anchor="end" fill="#111" color="#111" style="stroke-width:0.07px">700</text>
<line x1="179.6" y1="215.43" x2="182.4" y2="215.43" stroke="#222" stroke-width="0.55"/>
<text x="177.2" y="210.52" font-size="4.2" text-anchor="end" fill="#111" color="#111" style="stroke-width:0.07px">800</text>
<line x1="179.6" y1="209.02" x2="182.4" y2="209.02" stroke="#222" stroke-width="0.55"/>
<line x1="180.9" y1="260.3" x2="182.4" y2="260.3" stroke="#1a1a1a" stroke-width="0.7"/>
<line x1="180.9" y1="259.02" x2="182.4" y2="259.02" stroke="#1a1a1a" stroke-width="0.7"/>
<line x1="180.9" y1="257.74" x2="182.4" y2="257.74" stroke="#1a1a1a" stroke-width="0.7"/>
<line x1="180.9" y1="256.45" x2="182.4" y2="256.45" stroke="#1a1a1a" stroke-width="0.7"/>
<line x1="180.9" y1="255.17" x2="182.4" y2="255.17" stroke="#1a1a1a" stroke-width="0.7"/>
<line x1="180.9" y1="253.89" x2="182.4" y2="253.89" stroke="#1a1a1a" stroke-width="0.7"/>
<line x1="180.9" y1="252.61" x2="182.4" y2="252.61" stroke="#1a1a1a" stroke-width="0.7"/>
<line x1="180.9" y1="251.33" x2="182.4" y2="251.33" stroke="#1a1a1a" stroke-width="0.7"/>
<line x1="180.9" y1="250.04" x2="182.4" y2="250.04" stroke="#1a1a1a" stroke-width="0.7"/>
<line x1="180.9" y1="248.76" x2="182.4" y2="248.76" stroke="#1a1a1a" stroke-width="0.7"/>
<line x1="180.9" y1="247.48" x2="182.4" y2="247.48" stroke="#1a1a1a" stroke-width="0.7"/>
<line x1="180.9" y1="246.2" x2="182.4" y2="246.2" stroke="#1a1a1a" stroke-width="0.7"/>
<line x1="180.9" y1="244.91" x2="182.4" y2="244.91" stroke="#1a1a1a" stroke-width="0.7"/>
<line x1="180.9" y1="243.63" x2="182.4" y2="243.63" stroke="#1a1a1a" stroke-width="0.7"/>
<line x1="180.9" y1="242.35" x2="182.4" y2="242.35" stroke="#1a1a1a" stroke-width="0.7"/>
<line x1="180.9" y1="241.07" x2="182.4" y2="241.07" stroke="#1a1a1a" stroke-width="0.7"/>
<line x1="180.9" y1="239.79" x2="182.4" y2="239.79" stroke="#1a1a1a" stroke-width="0.7"/>
<line x1="180.9" y1="238.5" x2="182.4" y2="238.5" stroke="#1a1a1a" stroke-width="0.7"/>
<line x1="180.9" y1="237.22" x2="182.4" y2="237.22" stroke="#1a1a1a" stroke-width="0.7"/>
<line x1="180.9" y1="235.94" x2="182.4" y2="235.94" stroke="#1a1a1a" stroke-width="0.7"/>
<line x1="180.9" y1="234.66" x2="182.4" y2="234.66" stroke="#1a1a1a" stroke-width="0.7"/>
<line x1="180.9" y1="233.38" x2="182.4" y2="233.38" stroke="#1a1a1a" stroke-width="0.7"/>
<line x1="180.9" y1="232.09" x2="182.4" y2="232.09" stroke="#1a1a1a" stroke-width="0.7"/>
<line x1="180.9" y1="230.81" x2="182.4" y2="230.81" stroke="#1a1a1a" stroke-width="0.7"/>
<line x1="180.9" y1="229.53" x2="182.4" y2="229.53" stroke="#1a1a1a" stroke-width="0.7"/>
<line x1="180.9" y1="228.25" x2="182.4" y2="228.25" stroke="#1a1a1a" stroke-width="0.7"/>
<line x1="180.9" y1="226.97" x2="182.4" y2="226.97" stroke="#1a1a1a" stroke-width="0.7"/>
<line x1="180.9" y1="225.68" x2="182.4" y2="225.68" stroke="#1a1a1a" stroke-width="0.7"/>
<line x1="180.9" y1="224.4" x2="182.4" y2="224.4" stroke="#1a1a1a" stroke-width="0.7"/>
<line x1="180.9" y1="223.12" x2="182.4" y2="223.12" stroke="#1a1a1a" stroke-width="0.7"/>
<line x1="180.9" y1="221.84" x2="182.4" y2="221.84" stroke="#1a1a1a" stroke-width="0.7"/>
<line x1="180.9" y1="220.55" x2="182.4" y2="220.55" stroke="#1a1a1a" stroke-width="0.7"/>
<line x1="180.9" y1="219.27" x2="182.4" y2="219.27" stroke="#1a1a1a" stroke-width="0.7"/>
<line x1="180.9" y1="217.99" x2="182.4" y2="217.99" stroke="#1a1a1a" stroke-width="0.7"/>
<line x1="180.9" y1="216.71" x2="182.4" y2="216.71" stroke="#1a1a1a" stroke-width="0.7"/>
<line x1="180.9" y1="215.43" x2="182.4" y2="215.43" stroke="#1a1a1a" stroke-width="0.7"/>
<line x1="180.9" y1="214.14" x2="182.4" y2="214.14" stroke="#1a1a1a" stroke-width="0.7"/>
<line x1="180.9" y1="212.86" x2="182.4" y2="212.86" stroke="#1a1a1a" stroke-width="0.7"/>
<line x1="180.9" y1="211.58" x2="182.4" y2="211.58" stroke="#1a1a1a" stroke-width="0.7"/>
<line x1="180.9" y1="210.3" x2="182.4" y2="210.3" stroke="#1a1a1a" stroke-width="0.7"/>
<line x1="180.9" y1="209.02" x2="182.4" y2="209.02" stroke="#1a1a1a" stroke-width="0.7"/>
<line x1="180.9" y1="207.73" x2="182.4" y2="207.73" stroke="#1a1a1a" stroke-width="0.7"/>
<line x1="182.4" y1="260.3" x2="182.4" y2="263.3" stroke="#1a1a1a" stroke-width="0.8"/>
<line x1="184.57" y1="260.3" x2="184.57" y2="261.8" stroke="#1a1a1a" stroke-width="0.8"/>
<line x1="186.74" y1="260.3" x2="186.74" y2="261.8" stroke="#1a1a1a" stroke-width="0.8"/>
<line x1="188.91" y1="260.3" x2="188.91" y2="261.8" stroke="#1a1a1a" stroke-width="0.8"/>
<line x1="191.08" y1="260.3" x2="191.08" y2="261.8" stroke="#1a1a1a" stroke-width="0.8"/>
<line x1="193.26" y1="260.3" x2="193.26" y2="263.3" stroke="#1a1a1a" stroke-width="0.8"/>
<line x1="195.43" y1="260.3" x2="195.43" y2="261.8" stroke="#1a1a1a" stroke-width="0.8"/>
<line x1="197.6" y1="260.3" x2="197.6" y2="261.8" stroke="#1a1a1a" stroke-width="0.8"/>
<line x1="199.77" y1="260.3" x2="199.77" y2="261.8" stroke="#1a1a1a" stroke-width="0.8"/>
<line x1="201.94" y1="260.3" x2="201.94" y2="261.8" stroke="#1a1a1a" stroke-width="0.8"/>
<line x1="204.11" y1="260.3" x2="204.11" y2="263.3" stroke="#1a1a1a" stroke-width="0.8"/>
<line x1="206.28" y1="260.3" x2="206.28" y2="261.8" stroke="#1a1a1a" stroke-width="0.8"/>
<line x1="208.45" y1="260.3" x2="208.45" y2="261.8" stroke="#1a1a1a" stroke-width="0.8"/>
<line x1="210.62" y1="260.3" x2="210.62" y2="261.8" stroke="#1a1a1a" stroke-width="0.8"/>
<line x1="212.8" y1="260.3" x2="212.8" y2="261.8" stroke="#1a1a1a" stroke-width="0.8"/>
<line x1="214.97" y1="260.3" x2="214.97" y2="263.3" stroke="#1a1a1a" stroke-width="0.8"/>
<line x1="217.14" y1="260.3" x2="217.14" y2="261.8" stroke="#1a1a1a" stroke-width="0.8"/>
<line x1="219.31" y1="260.3" x2="219.31" y2="261.8" stroke="#1a1a1a" stroke-width="0.8"/>
<line x1="221.48" y1="260.3" x2="221.48" y2="261.8" stroke="#1a1a1a" stroke-width="0.8"/>
<line x1="223.65" y1="260.3" x2="223.65" y2="261.8" stroke="#1a1a1a" stroke-width="0.8"/>
<line x1="225.82" y1="260.3" x2="225.82" y2="263.3" stroke="#1a1a1a" stroke-width="0.8"/>
<line x1="227.99" y1="260.3" x2="227.99" y2="261.8" stroke="#1a1a1a" stroke-width="0.8"/>
<line x1="230.16" y1="260.3" x2="230.16" y2="261.8" stroke="#1a1a1a" stroke-width="0.8"/>
<line x1="232.34" y1="260.3" x2="232.34" y2="261.8" stroke="#1a1a1a" stroke-width="0.8"/>
<line x1="234.51" y1="260.3" x2="234.51" y2="261.8" stroke="#1a1a1a" stroke-width="0.8"/>
<line x1="236.68" y1="260.3" x2="236.68" y2="263.3" stroke="#1a1a1a" stroke-width="0.8"/>
<line x1="238.85" y1="260.3" x2="238.85" y2="261.8" stroke="#1a1a1a" stroke-width="0.8"/>
<text x="193.26" y="269.7" font-size="4.5" text-anchor="middle" fill="#111" color="#111" style="stroke-width:0.07px">50</text>
<text x="204.11" y="269.7" font-size="4.5" text-anchor="middle" fill="#111" color="#111" style="stroke-width:0.07px">100</text>
<text x="214.97" y="269.7" font-size="4.5" text-anchor="middle" fill="#111" color="#111" style="stroke-width:0.07px">150</text>
<text x="225.82" y="269.7" font-size="4.5" text-anchor="middle" fill="#111" color="#111" style="stroke-width:0.07px">200</text>
<text x="236.68" y="269.7" font-size="4.5" text-anchor="middle" fill="#111" color="#111" style="stroke-width:0.07px">250</text>
<text x="211.45" y="277.9" font-size="6.2" text-anchor="middle" fill="#222" color="#222" textLength="12.8" lengthAdjust="spacingAndGlyphs">PE-A</text>
<text x="232.1" y="277.9" font-size="4.1" text-anchor="middle" fill="#222" color="#222" style="stroke-width:0.07px" textLength="15.4" lengthAdjust="spacingAndGlyphs">(x 1,000)</text>
<text x="163.2" y="233.6" font-size="6.4" text-anchor="middle" fill="#222" color="#222" transform="rotate(-90 163.2 233.6)">Count</text>
<clipPath id="h8"><rect x="274.1" y="206.6" width="57.5" height="53.7"/></clipPath>
<path d="M274.1 260.3L274.1 260.3L274.6 260.3L275.1 260.3L275.6 260.3L276.1 260.3L276.6 260.3L277.1 260.3L277.6 260.3L278.1 260.3L278.6 260.3L279.1 260.3L279.6 260.3L280.1 260.3L280.6 260.3L281.1 260.3L281.6 260.3L282.1 260.3L282.6 260.3L283.1 260.3L283.6 260.3L284.1 260.3L284.6 260.3L285.1 260.3L285.6 260.3L286.1 260.3L286.6 260.3L287.1 256.66L287.13 256.03L287.6 240.7L287.65 238.94L288.1 216.08L288.12 214.91L288.5 206.9L288.6 209.15L288.88 214.91L289.1 226.44L289.36 238.94L289.6 246.73L289.87 256.03L290.1 257.36L290.4 260.3L290.6 260.3L291.1 260.3L291.6 260.3L292.1 260.3L292.6 260.3L293.1 260.3L293.6 260.3L294.1 260.3L294.6 260.3L295.1 260.3L295.6 260.3L296.1 260.3L296.6 260.3L297.1 260.3L297.6 260.3L298.1 260.3L298.6 260.3L299.1 260.3L299.6 260.3L300.1 260.3L300.6 260.3L301 260.3L301.1 260.19L301.6 259.61L301.7 259.5L302.1 259.19L302.4 258.97L302.6 259.12L303.1 259.5L303.6 260.07L303.8 260.3L304.1 260.3L304.6 260.3L305.1 260.3L305.6 260.3L306.1 260.3L306.6 260.3L307.1 260.3L307.6 260.3L308.1 260.3L308.6 260.3L309.1 260.3L309.6 260.3L310.1 260.3L310.6 260.3L311.1 260.3L311.6 260.3L312.1 260.3L312.6 260.3L313.1 260.3L313.6 260.3L314.1 260.3L314.6 260.3L315.1 260.3L315.6 260.3L316.1 260.3L316.6 260.3L317.1 260.3L317.6 260.3L318.1 260.3L318.6 260.3L319.1 260.3L319.6 260.3L320.1 260.3L320.6 260.3L321.1 260.3L321.6 260.3L322.1 260.3L322.6 260.3L323.1 260.3L323.6 260.3L324.1 260.3L324.6 260.3L325.1 260.3L325.6 260.3L326.1 260.3L326.6 260.3L327.1 260.3L327.6 260.3L328.1 260.3L328.6 260.3L329.1 260.3L329.6 260.3L330.1 260.3L330.6 260.3L331.1 260.3L331.6 260.3L331.6 260.3Z" fill="#d08b7f" stroke="#b3293c" stroke-width="1.05" stroke-linejoin="round" clip-path="url(#h8)"/>
<rect x="274.1" y="206.9" width="57.5" height="53.4" fill="none" stroke="#262626" stroke-width="1.25"/>
<text x="268.9" y="261.8" font-size="4.2" text-anchor="end" fill="#111" color="#111" style="stroke-width:0.07px">0</text>
<line x1="271.3" y1="260.3" x2="274.1" y2="260.3" stroke="#222" stroke-width="0.55"/>
<text x="268.9" y="245.65" font-size="4.2" text-anchor="end" fill="#111" color="#111" style="stroke-width:0.07px">500</text>
<line x1="271.3" y1="244.15" x2="274.1" y2="244.15" stroke="#222" stroke-width="0.55"/>
<text x="268.9" y="229.5" font-size="4.2" text-anchor="end" fill="#111" color="#111" style="stroke-width:0.07px">1,000</text>
<line x1="271.3" y1="228" x2="274.1" y2="228" stroke="#222" stroke-width="0.55"/>
<text x="268.9" y="213.34" font-size="4.2" text-anchor="end" fill="#111" color="#111" style="stroke-width:0.07px">1,500</text>
<line x1="271.3" y1="211.84" x2="274.1" y2="211.84" stroke="#222" stroke-width="0.55"/>
<line x1="272.6" y1="260.3" x2="274.1" y2="260.3" stroke="#1a1a1a" stroke-width="0.7"/>
<line x1="272.6" y1="258.68" x2="274.1" y2="258.68" stroke="#1a1a1a" stroke-width="0.7"/>
<line x1="272.6" y1="257.07" x2="274.1" y2="257.07" stroke="#1a1a1a" stroke-width="0.7"/>
<line x1="272.6" y1="255.45" x2="274.1" y2="255.45" stroke="#1a1a1a" stroke-width="0.7"/>
<line x1="272.6" y1="253.84" x2="274.1" y2="253.84" stroke="#1a1a1a" stroke-width="0.7"/>
<line x1="272.6" y1="252.22" x2="274.1" y2="252.22" stroke="#1a1a1a" stroke-width="0.7"/>
<line x1="272.6" y1="250.61" x2="274.1" y2="250.61" stroke="#1a1a1a" stroke-width="0.7"/>
<line x1="272.6" y1="248.99" x2="274.1" y2="248.99" stroke="#1a1a1a" stroke-width="0.7"/>
<line x1="272.6" y1="247.38" x2="274.1" y2="247.38" stroke="#1a1a1a" stroke-width="0.7"/>
<line x1="272.6" y1="245.76" x2="274.1" y2="245.76" stroke="#1a1a1a" stroke-width="0.7"/>
<line x1="272.6" y1="244.15" x2="274.1" y2="244.15" stroke="#1a1a1a" stroke-width="0.7"/>
<line x1="272.6" y1="242.53" x2="274.1" y2="242.53" stroke="#1a1a1a" stroke-width="0.7"/>
<line x1="272.6" y1="240.92" x2="274.1" y2="240.92" stroke="#1a1a1a" stroke-width="0.7"/>
<line x1="272.6" y1="239.3" x2="274.1" y2="239.3" stroke="#1a1a1a" stroke-width="0.7"/>
<line x1="272.6" y1="237.69" x2="274.1" y2="237.69" stroke="#1a1a1a" stroke-width="0.7"/>
<line x1="272.6" y1="236.07" x2="274.1" y2="236.07" stroke="#1a1a1a" stroke-width="0.7"/>
<line x1="272.6" y1="234.46" x2="274.1" y2="234.46" stroke="#1a1a1a" stroke-width="0.7"/>
<line x1="272.6" y1="232.84" x2="274.1" y2="232.84" stroke="#1a1a1a" stroke-width="0.7"/>
<line x1="272.6" y1="231.23" x2="274.1" y2="231.23" stroke="#1a1a1a" stroke-width="0.7"/>
<line x1="272.6" y1="229.61" x2="274.1" y2="229.61" stroke="#1a1a1a" stroke-width="0.7"/>
<line x1="272.6" y1="228" x2="274.1" y2="228" stroke="#1a1a1a" stroke-width="0.7"/>
<line x1="272.6" y1="226.38" x2="274.1" y2="226.38" stroke="#1a1a1a" stroke-width="0.7"/>
<line x1="272.6" y1="224.76" x2="274.1" y2="224.76" stroke="#1a1a1a" stroke-width="0.7"/>
<line x1="272.6" y1="223.15" x2="274.1" y2="223.15" stroke="#1a1a1a" stroke-width="0.7"/>
<line x1="272.6" y1="221.53" x2="274.1" y2="221.53" stroke="#1a1a1a" stroke-width="0.7"/>
<line x1="272.6" y1="219.92" x2="274.1" y2="219.92" stroke="#1a1a1a" stroke-width="0.7"/>
<line x1="272.6" y1="218.3" x2="274.1" y2="218.3" stroke="#1a1a1a" stroke-width="0.7"/>
<line x1="272.6" y1="216.69" x2="274.1" y2="216.69" stroke="#1a1a1a" stroke-width="0.7"/>
<line x1="272.6" y1="215.07" x2="274.1" y2="215.07" stroke="#1a1a1a" stroke-width="0.7"/>
<line x1="272.6" y1="213.46" x2="274.1" y2="213.46" stroke="#1a1a1a" stroke-width="0.7"/>
<line x1="272.6" y1="211.84" x2="274.1" y2="211.84" stroke="#1a1a1a" stroke-width="0.7"/>
<line x1="272.6" y1="210.23" x2="274.1" y2="210.23" stroke="#1a1a1a" stroke-width="0.7"/>
<line x1="272.6" y1="208.61" x2="274.1" y2="208.61" stroke="#1a1a1a" stroke-width="0.7"/>
<line x1="272.6" y1="207" x2="274.1" y2="207" stroke="#1a1a1a" stroke-width="0.7"/>
<line x1="274.1" y1="260.3" x2="274.1" y2="263.3" stroke="#1a1a1a" stroke-width="0.8"/>
<line x1="276.29" y1="260.3" x2="276.29" y2="261.8" stroke="#1a1a1a" stroke-width="0.8"/>
<line x1="278.47" y1="260.3" x2="278.47" y2="261.8" stroke="#1a1a1a" stroke-width="0.8"/>
<line x1="280.66" y1="260.3" x2="280.66" y2="261.8" stroke="#1a1a1a" stroke-width="0.8"/>
<line x1="282.85" y1="260.3" x2="282.85" y2="261.8" stroke="#1a1a1a" stroke-width="0.8"/>
<line x1="285.03" y1="260.3" x2="285.03" y2="263.3" stroke="#1a1a1a" stroke-width="0.8"/>
<line x1="287.22" y1="260.3" x2="287.22" y2="261.8" stroke="#1a1a1a" stroke-width="0.8"/>
<line x1="289.4" y1="260.3" x2="289.4" y2="261.8" stroke="#1a1a1a" stroke-width="0.8"/>
<line x1="291.59" y1="260.3" x2="291.59" y2="261.8" stroke="#1a1a1a" stroke-width="0.8"/>
<line x1="293.78" y1="260.3" x2="293.78" y2="261.8" stroke="#1a1a1a" stroke-width="0.8"/>
<line x1="295.96" y1="260.3" x2="295.96" y2="263.3" stroke="#1a1a1a" stroke-width="0.8"/>
<line x1="298.15" y1="260.3" x2="298.15" y2="261.8" stroke="#1a1a1a" stroke-width="0.8"/>
<line x1="300.34" y1="260.3" x2="300.34" y2="261.8" stroke="#1a1a1a" stroke-width="0.8"/>
<line x1="302.52" y1="260.3" x2="302.52" y2="261.8" stroke="#1a1a1a" stroke-width="0.8"/>
<line x1="304.71" y1="260.3" x2="304.71" y2="261.8" stroke="#1a1a1a" stroke-width="0.8"/>
<line x1="306.89" y1="260.3" x2="306.89" y2="263.3" stroke="#1a1a1a" stroke-width="0.8"/>
<line x1="309.08" y1="260.3" x2="309.08" y2="261.8" stroke="#1a1a1a" stroke-width="0.8"/>
<line x1="311.27" y1="260.3" x2="311.27" y2="261.8" stroke="#1a1a1a" stroke-width="0.8"/>
<line x1="313.45" y1="260.3" x2="313.45" y2="261.8" stroke="#1a1a1a" stroke-width="0.8"/>
<line x1="315.64" y1="260.3" x2="315.64" y2="261.8" stroke="#1a1a1a" stroke-width="0.8"/>
<line x1="317.83" y1="260.3" x2="317.83" y2="263.3" stroke="#1a1a1a" stroke-width="0.8"/>
<line x1="320.01" y1="260.3" x2="320.01" y2="261.8" stroke="#1a1a1a" stroke-width="0.8"/>
<line x1="322.2" y1="260.3" x2="322.2" y2="261.8" stroke="#1a1a1a" stroke-width="0.8"/>
<line x1="324.39" y1="260.3" x2="324.39" y2="261.8" stroke="#1a1a1a" stroke-width="0.8"/>
<line x1="326.57" y1="260.3" x2="326.57" y2="261.8" stroke="#1a1a1a" stroke-width="0.8"/>
<line x1="328.76" y1="260.3" x2="328.76" y2="263.3" stroke="#1a1a1a" stroke-width="0.8"/>
<line x1="330.94" y1="260.3" x2="330.94" y2="261.8" stroke="#1a1a1a" stroke-width="0.8"/>
<text x="285.03" y="269.7" font-size="4.5" text-anchor="middle" fill="#111" color="#111" style="stroke-width:0.07px">50</text>
<text x="295.96" y="269.7" font-size="4.5" text-anchor="middle" fill="#111" color="#111" style="stroke-width:0.07px">100</text>
<text x="306.89" y="269.7" font-size="4.5" text-anchor="middle" fill="#111" color="#111" style="stroke-width:0.07px">150</text>
<text x="317.83" y="269.7" font-size="4.5" text-anchor="middle" fill="#111" color="#111" style="stroke-width:0.07px">200</text>
<text x="328.76" y="269.7" font-size="4.5" text-anchor="middle" fill="#111" color="#111" style="stroke-width:0.07px">250</text>
<text x="303.35" y="277.9" font-size="6.2" text-anchor="middle" fill="#222" color="#222" textLength="12.8" lengthAdjust="spacingAndGlyphs">PE-A</text>
<text x="324.2" y="277.9" font-size="4.1" text-anchor="middle" fill="#222" color="#222" style="stroke-width:0.07px" textLength="15.4" lengthAdjust="spacingAndGlyphs">(x 1,000)</text>
<text x="255.4" y="233.6" font-size="6.4" text-anchor="middle" fill="#222" color="#222" transform="rotate(-90 255.4 233.6)">Count</text>
<clipPath id="h9"><rect x="363.2" y="206.6" width="57.9" height="53.7"/></clipPath>
<path d="M363.2 260.3L363.2 260.3L363.7 260.3L364.2 260.3L364.7 260.3L365.2 260.3L365.7 260.3L366.2 260.3L366.7 260.3L367.2 260.3L367.7 260.3L368.2 260.3L368.7 260.3L369.2 260.3L369.7 260.3L370.2 260.3L370.7 260.3L371.2 260.3L371.7 260.3L372.2 260.3L372.7 260.3L373.2 260.3L373.7 260.3L374.2 260.3L374.7 260.3L375.2 260.3L375.7 260.3L376.2 260.3L376.3 260.3L376.7 257.12L376.83 256.03L377.2 243.79L377.34 238.94L377.7 221.42L377.82 214.91L378.2 206.9L378.58 214.91L378.7 221.41L379.06 238.94L379.2 243.94L379.57 256.03L379.7 257.34L380.1 260.3L380.2 260.3L380.7 260.3L381.2 260.3L381.7 260.3L382.2 260.3L382.7 260.3L383.2 260.3L383.7 260.3L384.2 260.3L384.7 260.3L385.2 260.3L385.7 260.3L386.2 260.3L386.7 260.3L387.2 260.3L387.7 260.3L388.2 260.3L388.7 260.3L389.2 260.3L389.3 260.3L389.7 259.66L390.1 259.02L390.2 258.91L390.7 258.03L390.9 258.16L391.2 258.85L391.7 259.02L392.2 259.82L392.5 260.3L392.7 260.3L393.2 260.3L393.7 260.3L394.2 260.3L394.7 260.3L395.2 260.3L395.7 260.3L396.2 260.3L396.7 260.3L397.2 260.3L397.7 260.3L398.2 260.3L398.7 260.3L399.2 260.3L399.7 260.3L400.2 260.3L400.7 260.3L401.2 260.3L401.7 260.3L402.2 260.3L402.7 260.3L403.2 260.3L403.7 260.3L404.2 260.3L404.7 260.3L405.2 260.3L405.7 260.3L406.2 260.3L406.7 260.3L407.2 260.3L407.7 260.3L408.2 260.3L408.7 260.3L409.2 260.3L409.7 260.3L410.2 260.3L410.7 260.3L411.2 260.3L411.7 260.3L412.2 260.3L412.7 260.3L413.2 260.3L413.7 260.3L414.2 260.3L414.7 260.3L415.2 260.3L415.7 260.3L416.2 260.3L416.7 260.3L417.2 260.3L417.7 260.3L418.2 260.3L418.7 260.3L419.2 260.3L419.7 260.3L420.2 260.3L420.7 260.3L421.1 260.3Z" fill="#d08b7f" stroke="#b3293c" stroke-width="1.05" stroke-linejoin="round" clip-path="url(#h9)"/>
<rect x="363.2" y="206.9" width="57.9" height="53.4" fill="none" stroke="#262626" stroke-width="1.25"/>
<text x="358" y="261.8" font-size="4.2" text-anchor="end" fill="#111" color="#111" style="stroke-width:0.07px">0</text>
<line x1="360.4" y1="260.3" x2="363.2" y2="260.3" stroke="#222" stroke-width="0.55"/>
<text x="358" y="248.95" font-size="4.2" text-anchor="end" fill="#111" color="#111" style="stroke-width:0.07px">250</text>
<line x1="360.4" y1="247.45" x2="363.2" y2="247.45" stroke="#222" stroke-width="0.55"/>
<text x="358" y="236.1" font-size="4.2" text-anchor="end" fill="#111" color="#111" style="stroke-width:0.07px">500</text>
<line x1="360.4" y1="234.6" x2="363.2" y2="234.6" stroke="#222" stroke-width="0.55"/>
<text x="358" y="223.25" font-size="4.2" text-anchor="end" fill="#111" color="#111" style="stroke-width:0.07px">750</text>
<line x1="360.4" y1="221.75" x2="363.2" y2="221.75" stroke="#222" stroke-width="0.55"/>
<text x="358" y="210.4" font-size="4.2" text-anchor="end" fill="#111" color="#111" style="stroke-width:0.07px">1,000</text>
<line x1="360.4" y1="208.9" x2="363.2" y2="208.9" stroke="#222" stroke-width="0.55"/>
<line x1="361.7" y1="260.3" x2="363.2" y2="260.3" stroke="#1a1a1a" stroke-width="0.7"/>
<line x1="361.7" y1="259.02" x2="363.2" y2="259.02" stroke="#1a1a1a" stroke-width="0.7"/>
<line x1="361.7" y1="257.73" x2="363.2" y2="257.73" stroke="#1a1a1a" stroke-width="0.7"/>
<line x1="361.7" y1="256.45" x2="363.2" y2="256.45" stroke="#1a1a1a" stroke-width="0.7"/>
<line x1="361.7" y1="255.16" x2="363.2" y2="255.16" stroke="#1a1a1a" stroke-width="0.7"/>
<line x1="361.7" y1="253.88" x2="363.2" y2="253.88" stroke="#1a1a1a" stroke-width="0.7"/>
<line x1="361.7" y1="252.59" x2="363.2" y2="252.59" stroke="#1a1a1a" stroke-width="0.7"/>
<line x1="361.7" y1="251.31" x2="363.2" y2="251.31" stroke="#1a1a1a" stroke-width="0.7"/>
<line x1="361.7" y1="250.02" x2="363.2" y2="250.02" stroke="#1a1a1a" stroke-width="0.7"/>
<line x1="361.7" y1="248.74" x2="363.2" y2="248.74" stroke="#1a1a1a" stroke-width="0.7"/>
<line x1="361.7" y1="247.45" x2="363.2" y2="247.45" stroke="#1a1a1a" stroke-width="0.7"/>
<line x1="361.7" y1="246.17" x2="363.2" y2="246.17" stroke="#1a1a1a" stroke-width="0.7"/>
<line x1="361.7" y1="244.88" x2="363.2" y2="244.88" stroke="#1a1a1a" stroke-width="0.7"/>
<line x1="361.7" y1="243.6" x2="363.2" y2="243.6" stroke="#1a1a1a" stroke-width="0.7"/>
<line x1="361.7" y1="242.31" x2="363.2" y2="242.31" stroke="#1a1a1a" stroke-width="0.7"/>
<line x1="361.7" y1="241.03" x2="363.2" y2="241.03" stroke="#1a1a1a" stroke-width="0.7"/>
<line x1="361.7" y1="239.74" x2="363.2" y2="239.74" stroke="#1a1a1a" stroke-width="0.7"/>
<line x1="361.7" y1="238.46" x2="363.2" y2="238.46" stroke="#1a1a1a" stroke-width="0.7"/>
<line x1="361.7" y1="237.17" x2="363.2" y2="237.17" stroke="#1a1a1a" stroke-width="0.7"/>
<line x1="361.7" y1="235.89" x2="363.2" y2="235.89" stroke="#1a1a1a" stroke-width="0.7"/>
<line x1="361.7" y1="234.6" x2="363.2" y2="234.6" stroke="#1a1a1a" stroke-width="0.7"/>
<line x1="361.7" y1="233.32" x2="363.2" y2="233.32" stroke="#1a1a1a" stroke-width="0.7"/>
<line x1="361.7" y1="232.03" x2="363.2" y2="232.03" stroke="#1a1a1a" stroke-width="0.7"/>
<line x1="361.7" y1="230.75" x2="363.2" y2="230.75" stroke="#1a1a1a" stroke-width="0.7"/>
<line x1="361.7" y1="229.46" x2="363.2" y2="229.46" stroke="#1a1a1a" stroke-width="0.7"/>
<line x1="361.7" y1="228.18" x2="363.2" y2="228.18" stroke="#1a1a1a" stroke-width="0.7"/>
<line x1="361.7" y1="226.89" x2="363.2" y2="226.89" stroke="#1a1a1a" stroke-width="0.7"/>
<line x1="361.7" y1="225.61" x2="363.2" y2="225.61" stroke="#1a1a1a" stroke-width="0.7"/>
<line x1="361.7" y1="224.32" x2="363.2" y2="224.32" stroke="#1a1a1a" stroke-width="0.7"/>
<line x1="361.7" y1="223.04" x2="363.2" y2="223.04" stroke="#1a1a1a" stroke-width="0.7"/>
<line x1="361.7" y1="221.75" x2="363.2" y2="221.75" stroke="#1a1a1a" stroke-width="0.7"/>
<line x1="361.7" y1="220.47" x2="363.2" y2="220.47" stroke="#1a1a1a" stroke-width="0.7"/>
<line x1="361.7" y1="219.18" x2="363.2" y2="219.18" stroke="#1a1a1a" stroke-width="0.7"/>
<line x1="361.7" y1="217.9" x2="363.2" y2="217.9" stroke="#1a1a1a" stroke-width="0.7"/>
<line x1="361.7" y1="216.61" x2="363.2" y2="216.61" stroke="#1a1a1a" stroke-width="0.7"/>
<line x1="361.7" y1="215.33" x2="363.2" y2="215.33" stroke="#1a1a1a" stroke-width="0.7"/>
<line x1="361.7" y1="214.04" x2="363.2" y2="214.04" stroke="#1a1a1a" stroke-width="0.7"/>
<line x1="361.7" y1="212.76" x2="363.2" y2="212.76" stroke="#1a1a1a" stroke-width="0.7"/>
<line x1="361.7" y1="211.47" x2="363.2" y2="211.47" stroke="#1a1a1a" stroke-width="0.7"/>
<line x1="361.7" y1="210.19" x2="363.2" y2="210.19" stroke="#1a1a1a" stroke-width="0.7"/>
<line x1="361.7" y1="208.9" x2="363.2" y2="208.9" stroke="#1a1a1a" stroke-width="0.7"/>
<line x1="361.7" y1="207.62" x2="363.2" y2="207.62" stroke="#1a1a1a" stroke-width="0.7"/>
<line x1="363.2" y1="260.3" x2="363.2" y2="263.3" stroke="#1a1a1a" stroke-width="0.8"/>
<line x1="365.4" y1="260.3" x2="365.4" y2="261.8" stroke="#1a1a1a" stroke-width="0.8"/>
<line x1="367.6" y1="260.3" x2="367.6" y2="261.8" stroke="#1a1a1a" stroke-width="0.8"/>
<line x1="369.8" y1="260.3" x2="369.8" y2="261.8" stroke="#1a1a1a" stroke-width="0.8"/>
<line x1="372.01" y1="260.3" x2="372.01" y2="261.8" stroke="#1a1a1a" stroke-width="0.8"/>
<line x1="374.21" y1="260.3" x2="374.21" y2="263.3" stroke="#1a1a1a" stroke-width="0.8"/>
<line x1="376.41" y1="260.3" x2="376.41" y2="261.8" stroke="#1a1a1a" stroke-width="0.8"/>
<line x1="378.61" y1="260.3" x2="378.61" y2="261.8" stroke="#1a1a1a" stroke-width="0.8"/>
<line x1="380.81" y1="260.3" x2="380.81" y2="261.8" stroke="#1a1a1a" stroke-width="0.8"/>
<line x1="383.01" y1="260.3" x2="383.01" y2="261.8" stroke="#1a1a1a" stroke-width="0.8"/>
<line x1="385.22" y1="260.3" x2="385.22" y2="263.3" stroke="#1a1a1a" stroke-width="0.8"/>
<line x1="387.42" y1="260.3" x2="387.42" y2="261.8" stroke="#1a1a1a" stroke-width="0.8"/>
<line x1="389.62" y1="260.3" x2="389.62" y2="261.8" stroke="#1a1a1a" stroke-width="0.8"/>
<line x1="391.82" y1="260.3" x2="391.82" y2="261.8" stroke="#1a1a1a" stroke-width="0.8"/>
<line x1="394.02" y1="260.3" x2="394.02" y2="261.8" stroke="#1a1a1a" stroke-width="0.8"/>
<line x1="396.22" y1="260.3" x2="396.22" y2="263.3" stroke="#1a1a1a" stroke-width="0.8"/>
<line x1="398.42" y1="260.3" x2="398.42" y2="261.8" stroke="#1a1a1a" stroke-width="0.8"/>
<line x1="400.63" y1="260.3" x2="400.63" y2="261.8" stroke="#1a1a1a" stroke-width="0.8"/>
<line x1="402.83" y1="260.3" x2="402.83" y2="261.8" stroke="#1a1a1a" stroke-width="0.8"/>
<line x1="405.03" y1="260.3" x2="405.03" y2="261.8" stroke="#1a1a1a" stroke-width="0.8"/>
<line x1="407.23" y1="260.3" x2="407.23" y2="263.3" stroke="#1a1a1a" stroke-width="0.8"/>
<line x1="409.43" y1="260.3" x2="409.43" y2="261.8" stroke="#1a1a1a" stroke-width="0.8"/>
<line x1="411.63" y1="260.3" x2="411.63" y2="261.8" stroke="#1a1a1a" stroke-width="0.8"/>
<line x1="413.83" y1="260.3" x2="413.83" y2="261.8" stroke="#1a1a1a" stroke-width="0.8"/>
<line x1="416.04" y1="260.3" x2="416.04" y2="261.8" stroke="#1a1a1a" stroke-width="0.8"/>
<line x1="418.24" y1="260.3" x2="418.24" y2="263.3" stroke="#1a1a1a" stroke-width="0.8"/>
<line x1="420.44" y1="260.3" x2="420.44" y2="261.8" stroke="#1a1a1a" stroke-width="0.8"/>
<text x="374.21" y="269.7" font-size="4.5" text-anchor="middle" fill="#111" color="#111" style="stroke-width:0.07px">50</text>
<text x="385.22" y="269.7" font-size="4.5" text-anchor="middle" fill="#111" color="#111" style="stroke-width:0.07px">100</text>
<text x="396.22" y="269.7" font-size="4.5" text-anchor="middle" fill="#111" color="#111" style="stroke-width:0.07px">150</text>
<text x="407.23" y="269.7" font-size="4.5" text-anchor="middle" fill="#111" color="#111" style="stroke-width:0.07px">200</text>
<text x="418.24" y="269.7" font-size="4.5" text-anchor="middle" fill="#111" color="#111" style="stroke-width:0.07px">250</text>
<text x="392.65" y="277.9" font-size="6.2" text-anchor="middle" fill="#222" color="#222" textLength="12.8" lengthAdjust="spacingAndGlyphs">PE-A</text>
<text x="413.7" y="277.9" font-size="4.1" text-anchor="middle" fill="#222" color="#222" style="stroke-width:0.07px" textLength="15.4" lengthAdjust="spacingAndGlyphs">(x 1,000)</text>
<text x="344.5" y="233.6" font-size="6.4" text-anchor="middle" fill="#222" color="#222" transform="rotate(-90 344.5 233.6)">Count</text>
<clipPath id="h10"><rect x="182.4" y="292.2" width="57.1" height="53.6"/></clipPath>
<path d="M182.4 345.8L182.4 345.8L182.9 345.8L183.4 345.8L183.9 345.8L184.4 345.8L184.9 345.8L185.4 345.8L185.9 345.8L186.4 345.8L186.9 345.8L187.4 345.8L187.9 345.8L188.4 345.8L188.9 345.8L189.4 345.8L189.9 345.8L190.4 345.8L190.9 345.8L191.4 345.8L191.9 345.8L192.4 345.8L192.9 345.8L193.4 345.8L193.9 345.8L194.4 345.8L194.9 345.8L195.4 345.8L195.9 345.8L196.4 345.8L196.9 345.8L197.4 345.8L197.9 345.8L198.4 345.8L198.9 345.8L199.4 345.8L199.9 345.8L200.4 345.8L200.9 345.8L201.4 345.8L201.8 345.8L201.9 345.61L202.4 344.67L202.9 344.23L203.4 342.3L203.9 341.8L204 341.64L204.4 336.16L204.9 328.42L205.3 322.61L205.4 320.72L205.9 308.19L206.2 301.03L206.4 296.52L206.6 293.03L206.9 296.73L207.4 303.72L207.5 305.29L207.9 315.73L208.35 326.93L208.4 327.53L208.9 332.32L209.2 334.71L209.4 334.76L209.9 335.86L210.4 336.44L210.9 337.76L211 337.75L211.4 338.15L211.9 337.65L212.4 337.59L212.9 337.85L213.4 338.03L213.9 338.14L214.4 338.6L214.9 338.45L215.4 339.09L215.9 338.88L216.4 339.15L216.9 339.59L217.4 339.69L217.9 339.52L218.4 339.64L218.8 339.46L218.9 339.24L219.4 338.9L219.9 339.39L220.4 338.82L220.9 338.71L221.4 338.69L221.9 339.26L222.2 339.08L222.4 339.18L222.9 338.66L223.4 338.18L223.9 337.66L224.4 336.7L224.8 336.42L224.9 335.8L225.4 334.89L225.9 334.3L226.4 333.13L226.9 332L227.4 331.79L227.45 331.25L227.9 330.16L228.4 328.87L228.9 327.99L229.2 327.68L229.4 328.23L229.9 330.57L230.4 332.94L230.5 333.01L230.9 335.78L231.4 339.94L231.9 342.18L232.4 343.75L232.65 345.11L232.9 345.31L233.4 345.72L233.5 345.8L233.9 345.8L234.4 345.8L234.9 345.8L235.4 345.8L235.9 345.8L236.4 345.8L236.9 345.8L237.4 345.8L237.9 345.8L238.4 345.8L238.9 345.8L239.4 345.8L239.5 345.8Z" fill="#d08b7f" stroke="#b3293c" stroke-width="1.05" stroke-linejoin="round" clip-path="url(#h10)"/>
<rect x="182.4" y="292.5" width="57.1" height="53.3" fill="none" stroke="#262626" stroke-width="1.25"/>
<text x="177.2" y="347.3" font-size="4.2" text-anchor="end" fill="#111" color="#111" style="stroke-width:0.07px">0</text>
<line x1="179.6" y1="345.8" x2="182.4" y2="345.8" stroke="#222" stroke-width="0.55"/>
<text x="177.2" y="334.24" font-size="4.2" text-anchor="end" fill="#111" color="#111" style="stroke-width:0.07px">250</text>
<line x1="179.6" y1="332.74" x2="182.4" y2="332.74" stroke="#222" stroke-width="0.55"/>
<text x="177.2" y="321.17" font-size="4.2" text-anchor="end" fill="#111" color="#111" style="stroke-width:0.07px">500</text>
<line x1="179.6" y1="319.67" x2="182.4" y2="319.67" stroke="#222" stroke-width="0.55"/>
<text x="177.2" y="308.11" font-size="4.2" text-anchor="end" fill="#111" color="#111" style="stroke-width:0.07px">750</text>
<line x1="179.6" y1="306.61" x2="182.4" y2="306.61" stroke="#222" stroke-width="0.55"/>
<text x="177.2" y="295.05" font-size="4.2" text-anchor="end" fill="#111" color="#111" style="stroke-width:0.07px">1,000</text>
<line x1="179.6" y1="293.55" x2="182.4" y2="293.55" stroke="#222" stroke-width="0.55"/>
<line x1="180.9" y1="345.8" x2="182.4" y2="345.8" stroke="#1a1a1a" stroke-width="0.7"/>
<line x1="180.9" y1="344.49" x2="182.4" y2="344.49" stroke="#1a1a1a" stroke-width="0.7"/>
<line x1="180.9" y1="343.19" x2="182.4" y2="343.19" stroke="#1a1a1a" stroke-width="0.7"/>
<line x1="180.9" y1="341.88" x2="182.4" y2="341.88" stroke="#1a1a1a" stroke-width="0.7"/>
<line x1="180.9" y1="340.57" x2="182.4" y2="340.57" stroke="#1a1a1a" stroke-width="0.7"/>
<line x1="180.9" y1="339.27" x2="182.4" y2="339.27" stroke="#1a1a1a" stroke-width="0.7"/>
<line x1="180.9" y1="337.96" x2="182.4" y2="337.96" stroke="#1a1a1a" stroke-width="0.7"/>
<line x1="180.9" y1="336.66" x2="182.4" y2="336.66" stroke="#1a1a1a" stroke-width="0.7"/>
<line x1="180.9" y1="335.35" x2="182.4" y2="335.35" stroke="#1a1a1a" stroke-width="0.7"/>
<line x1="180.9" y1="334.04" x2="182.4" y2="334.04" stroke="#1a1a1a" stroke-width="0.7"/>
<line x1="180.9" y1="332.74" x2="182.4" y2="332.74" stroke="#1a1a1a" stroke-width="0.7"/>
<line x1="180.9" y1="331.43" x2="182.4" y2="331.43" stroke="#1a1a1a" stroke-width="0.7"/>
<line x1="180.9" y1="330.12" x2="182.4" y2="330.12" stroke="#1a1a1a" stroke-width="0.7"/>
<line x1="180.9" y1="328.82" x2="182.4" y2="328.82" stroke="#1a1a1a" stroke-width="0.7"/>
<line x1="180.9" y1="327.51" x2="182.4" y2="327.51" stroke="#1a1a1a" stroke-width="0.7"/>
<line x1="180.9" y1="326.2" x2="182.4" y2="326.2" stroke="#1a1a1a" stroke-width="0.7"/>
<line x1="180.9" y1="324.9" x2="182.4" y2="324.9" stroke="#1a1a1a" stroke-width="0.7"/>
<line x1="180.9" y1="323.59" x2="182.4" y2="323.59" stroke="#1a1a1a" stroke-width="0.7"/>
<line x1="180.9" y1="322.29" x2="182.4" y2="322.29" stroke="#1a1a1a" stroke-width="0.7"/>
<line x1="180.9" y1="320.98" x2="182.4" y2="320.98" stroke="#1a1a1a" stroke-width="0.7"/>
<line x1="180.9" y1="319.67" x2="182.4" y2="319.67" stroke="#1a1a1a" stroke-width="0.7"/>
<line x1="180.9" y1="318.37" x2="182.4" y2="318.37" stroke="#1a1a1a" stroke-width="0.7"/>
<line x1="180.9" y1="317.06" x2="182.4" y2="317.06" stroke="#1a1a1a" stroke-width="0.7"/>
<line x1="180.9" y1="315.75" x2="182.4" y2="315.75" stroke="#1a1a1a" stroke-width="0.7"/>
<line x1="180.9" y1="314.45" x2="182.4" y2="314.45" stroke="#1a1a1a" stroke-width="0.7"/>
<line x1="180.9" y1="313.14" x2="182.4" y2="313.14" stroke="#1a1a1a" stroke-width="0.7"/>
<line x1="180.9" y1="311.83" x2="182.4" y2="311.83" stroke="#1a1a1a" stroke-width="0.7"/>
<line x1="180.9" y1="310.53" x2="182.4" y2="310.53" stroke="#1a1a1a" stroke-width="0.7"/>
<line x1="180.9" y1="309.22" x2="182.4" y2="309.22" stroke="#1a1a1a" stroke-width="0.7"/>
<line x1="180.9" y1="307.92" x2="182.4" y2="307.92" stroke="#1a1a1a" stroke-width="0.7"/>
<line x1="180.9" y1="306.61" x2="182.4" y2="306.61" stroke="#1a1a1a" stroke-width="0.7"/>
<line x1="180.9" y1="305.3" x2="182.4" y2="305.3" stroke="#1a1a1a" stroke-width="0.7"/>
<line x1="180.9" y1="304" x2="182.4" y2="304" stroke="#1a1a1a" stroke-width="0.7"/>
<line x1="180.9" y1="302.69" x2="182.4" y2="302.69" stroke="#1a1a1a" stroke-width="0.7"/>
<line x1="180.9" y1="301.38" x2="182.4" y2="301.38" stroke="#1a1a1a" stroke-width="0.7"/>
<line x1="180.9" y1="300.08" x2="182.4" y2="300.08" stroke="#1a1a1a" stroke-width="0.7"/>
<line x1="180.9" y1="298.77" x2="182.4" y2="298.77" stroke="#1a1a1a" stroke-width="0.7"/>
<line x1="180.9" y1="297.46" x2="182.4" y2="297.46" stroke="#1a1a1a" stroke-width="0.7"/>
<line x1="180.9" y1="296.16" x2="182.4" y2="296.16" stroke="#1a1a1a" stroke-width="0.7"/>
<line x1="180.9" y1="294.85" x2="182.4" y2="294.85" stroke="#1a1a1a" stroke-width="0.7"/>
<line x1="180.9" y1="293.55" x2="182.4" y2="293.55" stroke="#1a1a1a" stroke-width="0.7"/>
<line x1="182.4" y1="345.8" x2="182.4" y2="348.8" stroke="#1a1a1a" stroke-width="0.8"/>
<line x1="184.57" y1="345.8" x2="184.57" y2="347.3" stroke="#1a1a1a" stroke-width="0.8"/>
<line x1="186.74" y1="345.8" x2="186.74" y2="347.3" stroke="#1a1a1a" stroke-width="0.8"/>
<line x1="188.91" y1="345.8" x2="188.91" y2="347.3" stroke="#1a1a1a" stroke-width="0.8"/>
<line x1="191.08" y1="345.8" x2="191.08" y2="347.3" stroke="#1a1a1a" stroke-width="0.8"/>
<line x1="193.26" y1="345.8" x2="193.26" y2="348.8" stroke="#1a1a1a" stroke-width="0.8"/>
<line x1="195.43" y1="345.8" x2="195.43" y2="347.3" stroke="#1a1a1a" stroke-width="0.8"/>
<line x1="197.6" y1="345.8" x2="197.6" y2="347.3" stroke="#1a1a1a" stroke-width="0.8"/>
<line x1="199.77" y1="345.8" x2="199.77" y2="347.3" stroke="#1a1a1a" stroke-width="0.8"/>
<line x1="201.94" y1="345.8" x2="201.94" y2="347.3" stroke="#1a1a1a" stroke-width="0.8"/>
<line x1="204.11" y1="345.8" x2="204.11" y2="348.8" stroke="#1a1a1a" stroke-width="0.8"/>
<line x1="206.28" y1="345.8" x2="206.28" y2="347.3" stroke="#1a1a1a" stroke-width="0.8"/>
<line x1="208.45" y1="345.8" x2="208.45" y2="347.3" stroke="#1a1a1a" stroke-width="0.8"/>
<line x1="210.62" y1="345.8" x2="210.62" y2="347.3" stroke="#1a1a1a" stroke-width="0.8"/>
<line x1="212.8" y1="345.8" x2="212.8" y2="347.3" stroke="#1a1a1a" stroke-width="0.8"/>
<line x1="214.97" y1="345.8" x2="214.97" y2="348.8" stroke="#1a1a1a" stroke-width="0.8"/>
<line x1="217.14" y1="345.8" x2="217.14" y2="347.3" stroke="#1a1a1a" stroke-width="0.8"/>
<line x1="219.31" y1="345.8" x2="219.31" y2="347.3" stroke="#1a1a1a" stroke-width="0.8"/>
<line x1="221.48" y1="345.8" x2="221.48" y2="347.3" stroke="#1a1a1a" stroke-width="0.8"/>
<line x1="223.65" y1="345.8" x2="223.65" y2="347.3" stroke="#1a1a1a" stroke-width="0.8"/>
<line x1="225.82" y1="345.8" x2="225.82" y2="348.8" stroke="#1a1a1a" stroke-width="0.8"/>
<line x1="227.99" y1="345.8" x2="227.99" y2="347.3" stroke="#1a1a1a" stroke-width="0.8"/>
<line x1="230.16" y1="345.8" x2="230.16" y2="347.3" stroke="#1a1a1a" stroke-width="0.8"/>
<line x1="232.34" y1="345.8" x2="232.34" y2="347.3" stroke="#1a1a1a" stroke-width="0.8"/>
<line x1="234.51" y1="345.8" x2="234.51" y2="347.3" stroke="#1a1a1a" stroke-width="0.8"/>
<line x1="236.68" y1="345.8" x2="236.68" y2="348.8" stroke="#1a1a1a" stroke-width="0.8"/>
<line x1="238.85" y1="345.8" x2="238.85" y2="347.3" stroke="#1a1a1a" stroke-width="0.8"/>
<text x="193.26" y="355.2" font-size="4.5" text-anchor="middle" fill="#111" color="#111" style="stroke-width:0.07px">50</text>
<text x="204.11" y="355.2" font-size="4.5" text-anchor="middle" fill="#111" color="#111" style="stroke-width:0.07px">100</text>
<text x="214.97" y="355.2" font-size="4.5" text-anchor="middle" fill="#111" color="#111" style="stroke-width:0.07px">150</text>
<text x="225.82" y="355.2" font-size="4.5" text-anchor="middle" fill="#111" color="#111" style="stroke-width:0.07px">200</text>
<text x="236.68" y="355.2" font-size="4.5" text-anchor="middle" fill="#111" color="#111" style="stroke-width:0.07px">250</text>
<text x="211.45" y="363.4" font-size="6.2" text-anchor="middle" fill="#222" color="#222" textLength="12.8" lengthAdjust="spacingAndGlyphs">PE-A</text>
<text x="232.1" y="363.4" font-size="4.1" text-anchor="middle" fill="#222" color="#222" style="stroke-width:0.07px" textLength="15.4" lengthAdjust="spacingAndGlyphs">(x 1,000)</text>
<text x="163.2" y="319.15" font-size="6.4" text-anchor="middle" fill="#222" color="#222" transform="rotate(-90 163.2 319.15)">Count</text>
<clipPath id="h11"><rect x="274.1" y="292.2" width="57.5" height="53.6"/></clipPath>
<path d="M274.1 345.8L274.1 345.8L274.6 345.8L275.1 345.8L275.6 345.8L276.1 345.8L276.6 345.8L277.1 345.8L277.6 345.8L278.1 345.8L278.6 345.8L279.1 345.8L279.6 345.8L280.1 345.8L280.6 345.8L281.1 345.8L281.6 345.8L282.1 345.8L282.6 345.8L283.1 345.8L283.6 345.8L284.1 345.8L284.6 345.8L285.1 345.8L285.6 345.8L286.1 345.8L286.6 345.8L287.1 345.8L287.6 345.8L288.1 345.8L288.6 345.8L289.1 345.8L289.6 345.8L290.1 345.8L290.6 345.8L291.1 345.8L291.6 345.8L292.1 345.8L292.6 345.8L293.1 345.8L293.6 345.8L294.1 345.8L294.6 345.8L294.9 345.8L295.1 344.93L295.6 342.25L295.88 341.54L296.1 337.68L296.6 328.65L296.83 324.48L297.1 316.47L297.6 303L297.7 300.5L298.1 296.28L298.4 292.5L298.6 295.18L299.1 300.5L299.6 314.57L299.98 324.48L300.1 326.74L300.6 335.31L300.92 341.5L301.1 341.95L301.6 344.44L301.9 345.73L302.1 345.72L302.6 345.7L303.1 345.68L303.6 345.67L304.1 345.65L304.6 345.63L305.1 345.61L305.6 345.6L306.1 345.58L306.6 345.57L307.1 345.56L307.6 345.54L308.1 345.53L308.6 345.52L309.1 345.51L309.6 345.49L310.1 345.48L310.6 345.49L311.1 345.51L311.6 345.52L312.1 345.53L312.6 345.54L313.1 345.56L313.6 345.57L314.1 345.58L314.6 345.6L315.1 345.61L315.6 345.63L316.1 345.65L316.6 345.67L317.1 345.68L317.6 345.7L317.7 345.71L318.1 345.44L318.6 345.11L319.1 344.77L319.6 344.44L320.1 344.22L320.6 344.36L321.1 343.4L321.5 343.56L321.6 343.1L322.1 343.68L322.6 344.24L323.1 344.32L323.4 344.46L323.6 344.6L324.1 344.95L324.6 345.31L325.1 345.66L325.3 345.8L325.6 345.8L326.1 345.8L326.6 345.8L327.1 345.8L327.6 345.8L328.1 345.8L328.6 345.8L329.1 345.8L329.6 345.8L330.1 345.8L330.6 345.8L331.1 345.8L331.6 345.8L331.6 345.8Z" fill="#d08b7f" stroke="#b3293c" stroke-width="1.05" stroke-linejoin="round" clip-path="url(#h11)"/>
<rect x="274.1" y="292.5" width="57.5" height="53.3" fill="none" stroke="#262626" stroke-width="1.25"/>
<text x="268.9" y="347.3" font-size="4.2" text-anchor="end" fill="#111" color="#111" style="stroke-width:0.07px">0</text>
<line x1="271.3" y1="345.8" x2="274.1" y2="345.8" stroke="#222" stroke-width="0.55"/>
<text x="268.9" y="334.68" font-size="4.2" text-anchor="end" fill="#111" color="#111" style="stroke-width:0.07px">250</text>
<line x1="271.3" y1="333.18" x2="274.1" y2="333.18" stroke="#222" stroke-width="0.55"/>
<text x="268.9" y="322.06" font-size="4.2" text-anchor="end" fill="#111" color="#111" style="stroke-width:0.07px">500</text>
<line x1="271.3" y1="320.56" x2="274.1" y2="320.56" stroke="#222" stroke-width="0.55"/>
<text x="268.9" y="309.44" font-size="4.2" text-anchor="end" fill="#111" color="#111" style="stroke-width:0.07px">750</text>
<line x1="271.3" y1="307.94" x2="274.1" y2="307.94" stroke="#222" stroke-width="0.55"/>
<text x="268.9" y="296.83" font-size="4.2" text-anchor="end" fill="#111" color="#111" style="stroke-width:0.07px">1,000</text>
<line x1="271.3" y1="295.33" x2="274.1" y2="295.33" stroke="#222" stroke-width="0.55"/>
<line x1="272.6" y1="345.8" x2="274.1" y2="345.8" stroke="#1a1a1a" stroke-width="0.7"/>
<line x1="272.6" y1="344.54" x2="274.1" y2="344.54" stroke="#1a1a1a" stroke-width="0.7"/>
<line x1="272.6" y1="343.28" x2="274.1" y2="343.28" stroke="#1a1a1a" stroke-width="0.7"/>
<line x1="272.6" y1="342.01" x2="274.1" y2="342.01" stroke="#1a1a1a" stroke-width="0.7"/>
<line x1="272.6" y1="340.75" x2="274.1" y2="340.75" stroke="#1a1a1a" stroke-width="0.7"/>
<line x1="272.6" y1="339.49" x2="274.1" y2="339.49" stroke="#1a1a1a" stroke-width="0.7"/>
<line x1="272.6" y1="338.23" x2="274.1" y2="338.23" stroke="#1a1a1a" stroke-width="0.7"/>
<line x1="272.6" y1="336.97" x2="274.1" y2="336.97" stroke="#1a1a1a" stroke-width="0.7"/>
<line x1="272.6" y1="335.71" x2="274.1" y2="335.71" stroke="#1a1a1a" stroke-width="0.7"/>
<line x1="272.6" y1="334.44" x2="274.1" y2="334.44" stroke="#1a1a1a" stroke-width="0.7"/>
<line x1="272.6" y1="333.18" x2="274.1" y2="333.18" stroke="#1a1a1a" stroke-width="0.7"/>
<line x1="272.6" y1="331.92" x2="274.1" y2="331.92" stroke="#1a1a1a" stroke-width="0.7"/>
<line x1="272.6" y1="330.66" x2="274.1" y2="330.66" stroke="#1a1a1a" stroke-width="0.7"/>
<line x1="272.6" y1="329.4" x2="274.1" y2="329.4" stroke="#1a1a1a" stroke-width="0.7"/>
<line x1="272.6" y1="328.13" x2="274.1" y2="328.13" stroke="#1a1a1a" stroke-width="0.7"/>
<line x1="272.6" y1="326.87" x2="274.1" y2="326.87" stroke="#1a1a1a" stroke-width="0.7"/>
<line x1="272.6" y1="325.61" x2="274.1" y2="325.61" stroke="#1a1a1a" stroke-width="0.7"/>
<line x1="272.6" y1="324.35" x2="274.1" y2="324.35" stroke="#1a1a1a" stroke-width="0.7"/>
<line x1="272.6" y1="323.09" x2="274.1" y2="323.09" stroke="#1a1a1a" stroke-width="0.7"/>
<line x1="272.6" y1="321.83" x2="274.1" y2="321.83" stroke="#1a1a1a" stroke-width="0.7"/>
<line x1="272.6" y1="320.56" x2="274.1" y2="320.56" stroke="#1a1a1a" stroke-width="0.7"/>
<line x1="272.6" y1="319.3" x2="274.1" y2="319.3" stroke="#1a1a1a" stroke-width="0.7"/>
<line x1="272.6" y1="318.04" x2="274.1" y2="318.04" stroke="#1a1a1a" stroke-width="0.7"/>
<line x1="272.6" y1="316.78" x2="274.1" y2="316.78" stroke="#1a1a1a" stroke-width="0.7"/>
<line x1="272.6" y1="315.52" x2="274.1" y2="315.52" stroke="#1a1a1a" stroke-width="0.7"/>
<line x1="272.6" y1="314.25" x2="274.1" y2="314.25" stroke="#1a1a1a" stroke-width="0.7"/>
<line x1="272.6" y1="312.99" x2="274.1" y2="312.99" stroke="#1a1a1a" stroke-width="0.7"/>
<line x1="272.6" y1="311.73" x2="274.1" y2="311.73" stroke="#1a1a1a" stroke-width="0.7"/>
<line x1="272.6" y1="310.47" x2="274.1" y2="310.47" stroke="#1a1a1a" stroke-width="0.7"/>
<line x1="272.6" y1="309.21" x2="274.1" y2="309.21" stroke="#1a1a1a" stroke-width="0.7"/>
<line x1="272.6" y1="307.94" x2="274.1" y2="307.94" stroke="#1a1a1a" stroke-width="0.7"/>
<line x1="272.6" y1="306.68" x2="274.1" y2="306.68" stroke="#1a1a1a" stroke-width="0.7"/>
<line x1="272.6" y1="305.42" x2="274.1" y2="305.42" stroke="#1a1a1a" stroke-width="0.7"/>
<line x1="272.6" y1="304.16" x2="274.1" y2="304.16" stroke="#1a1a1a" stroke-width="0.7"/>
<line x1="272.6" y1="302.9" x2="274.1" y2="302.9" stroke="#1a1a1a" stroke-width="0.7"/>
<line x1="272.6" y1="301.64" x2="274.1" y2="301.64" stroke="#1a1a1a" stroke-width="0.7"/>
<line x1="272.6" y1="300.37" x2="274.1" y2="300.37" stroke="#1a1a1a" stroke-width="0.7"/>
<line x1="272.6" y1="299.11" x2="274.1" y2="299.11" stroke="#1a1a1a" stroke-width="0.7"/>
<line x1="272.6" y1="297.85" x2="274.1" y2="297.85" stroke="#1a1a1a" stroke-width="0.7"/>
<line x1="272.6" y1="296.59" x2="274.1" y2="296.59" stroke="#1a1a1a" stroke-width="0.7"/>
<line x1="272.6" y1="295.33" x2="274.1" y2="295.33" stroke="#1a1a1a" stroke-width="0.7"/>
<line x1="272.6" y1="294.06" x2="274.1" y2="294.06" stroke="#1a1a1a" stroke-width="0.7"/>
<line x1="272.6" y1="292.8" x2="274.1" y2="292.8" stroke="#1a1a1a" stroke-width="0.7"/>
<line x1="274.1" y1="345.8" x2="274.1" y2="348.8" stroke="#1a1a1a" stroke-width="0.8"/>
<line x1="276.29" y1="345.8" x2="276.29" y2="347.3" stroke="#1a1a1a" stroke-width="0.8"/>
<line x1="278.47" y1="345.8" x2="278.47" y2="347.3" stroke="#1a1a1a" stroke-width="0.8"/>
<line x1="280.66" y1="345.8" x2="280.66" y2="347.3" stroke="#1a1a1a" stroke-width="0.8"/>
<line x1="282.85" y1="345.8" x2="282.85" y2="347.3" stroke="#1a1a1a" stroke-width="0.8"/>
<line x1="285.03" y1="345.8" x2="285.03" y2="348.8" stroke="#1a1a1a" stroke-width="0.8"/>
<line x1="287.22" y1="345.8" x2="287.22" y2="347.3" stroke="#1a1a1a" stroke-width="0.8"/>
<line x1="289.4" y1="345.8" x2="289.4" y2="347.3" stroke="#1a1a1a" stroke-width="0.8"/>
<line x1="291.59" y1="345.8" x2="291.59" y2="347.3" stroke="#1a1a1a" stroke-width="0.8"/>
<line x1="293.78" y1="345.8" x2="293.78" y2="347.3" stroke="#1a1a1a" stroke-width="0.8"/>
<line x1="295.96" y1="345.8" x2="295.96" y2="348.8" stroke="#1a1a1a" stroke-width="0.8"/>
<line x1="298.15" y1="345.8" x2="298.15" y2="347.3" stroke="#1a1a1a" stroke-width="0.8"/>
<line x1="300.34" y1="345.8" x2="300.34" y2="347.3" stroke="#1a1a1a" stroke-width="0.8"/>
<line x1="302.52" y1="345.8" x2="302.52" y2="347.3" stroke="#1a1a1a" stroke-width="0.8"/>
<line x1="304.71" y1="345.8" x2="304.71" y2="347.3" stroke="#1a1a1a" stroke-width="0.8"/>
<line x1="306.89" y1="345.8" x2="306.89" y2="348.8" stroke="#1a1a1a" stroke-width="0.8"/>
<line x1="309.08" y1="345.8" x2="309.08" y2="347.3" stroke="#1a1a1a" stroke-width="0.8"/>
<line x1="311.27" y1="345.8" x2="311.27" y2="347.3" stroke="#1a1a1a" stroke-width="0.8"/>
<line x1="313.45" y1="345.8" x2="313.45" y2="347.3" stroke="#1a1a1a" stroke-width="0.8"/>
<line x1="315.64" y1="345.8" x2="315.64" y2="347.3" stroke="#1a1a1a" stroke-width="0.8"/>
<line x1="317.83" y1="345.8" x2="317.83" y2="348.8" stroke="#1a1a1a" stroke-width="0.8"/>
<line x1="320.01" y1="345.8" x2="320.01" y2="347.3" stroke="#1a1a1a" stroke-width="0.8"/>
<line x1="322.2" y1="345.8" x2="322.2" y2="347.3" stroke="#1a1a1a" stroke-width="0.8"/>
<line x1="324.39" y1="345.8" x2="324.39" y2="347.3" stroke="#1a1a1a" stroke-width="0.8"/>
<line x1="326.57" y1="345.8" x2="326.57" y2="347.3" stroke="#1a1a1a" stroke-width="0.8"/>
<line x1="328.76" y1="345.8" x2="328.76" y2="348.8" stroke="#1a1a1a" stroke-width="0.8"/>
<line x1="330.94" y1="345.8" x2="330.94" y2="347.3" stroke="#1a1a1a" stroke-width="0.8"/>
<text x="285.03" y="355.2" font-size="4.5" text-anchor="middle" fill="#111" color="#111" style="stroke-width:0.07px">50</text>
<text x="295.96" y="355.2" font-size="4.5" text-anchor="middle" fill="#111" color="#111" style="stroke-width:0.07px">100</text>
<text x="306.89" y="355.2" font-size="4.5" text-anchor="middle" fill="#111" color="#111" style="stroke-width:0.07px">150</text>
<text x="317.83" y="355.2" font-size="4.5" text-anchor="middle" fill="#111" color="#111" style="stroke-width:0.07px">200</text>
<text x="328.76" y="355.2" font-size="4.5" text-anchor="middle" fill="#111" color="#111" style="stroke-width:0.07px">250</text>
<text x="303.35" y="363.4" font-size="6.2" text-anchor="middle" fill="#222" color="#222" textLength="12.8" lengthAdjust="spacingAndGlyphs">PE-A</text>
<text x="324.2" y="363.4" font-size="4.1" text-anchor="middle" fill="#222" color="#222" style="stroke-width:0.07px" textLength="15.4" lengthAdjust="spacingAndGlyphs">(x 1,000)</text>
<text x="255.4" y="319.15" font-size="6.4" text-anchor="middle" fill="#222" color="#222" transform="rotate(-90 255.4 319.15)">Count</text>
<clipPath id="h12"><rect x="363.2" y="292.2" width="57.9" height="53.6"/></clipPath>
<path d="M363.2 345.8L363.2 345.8L363.7 345.8L364.2 345.8L364.7 345.8L365.2 345.8L365.7 345.8L366.2 345.8L366.7 345.8L367.2 345.8L367.7 345.8L368.2 345.8L368.7 345.8L369.2 345.8L369.7 345.8L370.2 345.8L370.7 345.8L371.2 345.8L371.7 345.8L372.2 345.8L372.7 345.8L373.2 345.8L373.7 345.8L374.2 345.8L374.7 345.8L375.2 345.8L375.7 345.8L376.2 345.8L376.7 345.8L377.2 345.8L377.7 345.8L378.2 345.8L378.7 345.8L379.2 345.8L379.7 345.8L380.2 345.8L380.7 345.8L381.2 345.8L381.7 345.8L382.2 345.8L382.7 345.8L383.2 345.8L383.7 345.8L384.2 345.8L384.7 343.57L385.18 341.54L385.2 341.57L385.7 332.67L386.12 324.48L386.2 321.92L386.7 308.56L387 300.5L387.2 298.18L387.7 292.5L388.2 297.75L388.4 300.5L388.7 308.79L389.2 322.42L389.27 324.48L389.7 331.73L390.2 340.78L390.22 341.48L390.7 343.86L391.2 345.7L391.7 345.67L392.2 345.65L392.7 345.62L393.2 345.6L393.7 345.57L394.2 345.54L394.7 345.53L395.2 345.51L395.7 345.49L396.2 345.48L396.7 345.46L397.2 345.44L397.7 345.42L398.2 345.41L398.7 345.39L399.2 345.37L399.7 345.39L400.2 345.41L400.7 345.42L401.2 345.44L401.7 345.46L402.2 345.48L402.7 345.49L403.2 345.51L403.7 345.53L404.2 345.54L404.6 345.56L404.7 345.49L405.2 345.11L405.7 344.73L406.2 344.36L406.7 344.24L406.9 343.83L407.2 343.9L407.7 343.71L408.2 343.1L408.7 343.21L409.2 342.71L409.7 343.06L410.2 343.64L410.7 343.08L411.2 343.94L411.5 343.95L411.7 344.15L412.2 344.51L412.7 344.91L413.2 345.32L413.7 345.72L413.8 345.8L414.2 345.8L414.7 345.8L415.2 345.8L415.7 345.8L416.2 345.8L416.7 345.8L417.2 345.8L417.7 345.8L418.2 345.8L418.7 345.8L419.2 345.8L419.7 345.8L420.2 345.8L420.7 345.8L421.1 345.8Z" fill="#d08b7f" stroke="#b3293c" stroke-width="1.05" stroke-linejoin="round" clip-path="url(#h12)"/>
<rect x="363.2" y="292.5" width="57.9" height="53.3" fill="none" stroke="#262626" stroke-width="1.25"/>
<text x="358" y="347.3" font-size="4.2" text-anchor="end" fill="#111" color="#111" style="stroke-width:0.07px">0</text>
<line x1="360.4" y1="345.8" x2="363.2" y2="345.8" stroke="#222" stroke-width="0.55"/>
<text x="358" y="334.24" font-size="4.2" text-anchor="end" fill="#111" color="#111" style="stroke-width:0.07px">250</text>
<line x1="360.4" y1="332.74" x2="363.2" y2="332.74" stroke="#222" stroke-width="0.55"/>
<text x="358" y="321.17" font-size="4.2" text-anchor="end" fill="#111" color="#111" style="stroke-width:0.07px">500</text>
<line x1="360.4" y1="319.67" x2="363.2" y2="319.67" stroke="#222" stroke-width="0.55"/>
<text x="358" y="308.11" font-size="4.2" text-anchor="end" fill="#111" color="#111" style="stroke-width:0.07px">750</text>
<line x1="360.4" y1="306.61" x2="363.2" y2="306.61" stroke="#222" stroke-width="0.55"/>
<text x="358" y="295.05" font-size="4.2" text-anchor="end" fill="#111" color="#111" style="stroke-width:0.07px">1,000</text>
<line x1="360.4" y1="293.55" x2="363.2" y2="293.55" stroke="#222" stroke-width="0.55"/>
<line x1="361.7" y1="345.8" x2="363.2" y2="345.8" stroke="#1a1a1a" stroke-width="0.7"/>
<line x1="361.7" y1="344.49" x2="363.2" y2="344.49" stroke="#1a1a1a" stroke-width="0.7"/>
<line x1="361.7" y1="343.19" x2="363.2" y2="343.19" stroke="#1a1a1a" stroke-width="0.7"/>
<line x1="361.7" y1="341.88" x2="363.2" y2="341.88" stroke="#1a1a1a" stroke-width="0.7"/>
<line x1="361.7" y1="340.57" x2="363.2" y2="340.57" stroke="#1a1a1a" stroke-width="0.7"/>
<line x1="361.7" y1="339.27" x2="363.2" y2="339.27" stroke="#1a1a1a" stroke-width="0.7"/>
<line x1="361.7" y1="337.96" x2="363.2" y2="337.96" stroke="#1a1a1a" stroke-width="0.7"/>
<line x1="361.7" y1="336.66" x2="363.2" y2="336.66" stroke="#1a1a1a" stroke-width="0.7"/>
<line x1="361.7" y1="335.35" x2="363.2" y2="335.35" stroke="#1a1a1a" stroke-width="0.7"/>
<line x1="361.7" y1="334.04" x2="363.2" y2="334.04" stroke="#1a1a1a" stroke-width="0.7"/>
<line x1="361.7" y1="332.74" x2="363.2" y2="332.74" stroke="#1a1a1a" stroke-width="0.7"/>
<line x1="361.7" y1="331.43" x2="363.2" y2="331.43" stroke="#1a1a1a" stroke-width="0.7"/>
<line x1="361.7" y1="330.12" x2="363.2" y2="330.12" stroke="#1a1a1a" stroke-width="0.7"/>
<line x1="361.7" y1="328.82" x2="363.2" y2="328.82" stroke="#1a1a1a" stroke-width="0.7"/>
<line x1="361.7" y1="327.51" x2="363.2" y2="327.51" stroke="#1a1a1a" stroke-width="0.7"/>
<line x1="361.7" y1="326.2" x2="363.2" y2="326.2" stroke="#1a1a1a" stroke-width="0.7"/>
<line x1="361.7" y1="324.9" x2="363.2" y2="324.9" stroke="#1a1a1a" stroke-width="0.7"/>
<line x1="361.7" y1="323.59" x2="363.2" y2="323.59" stroke="#1a1a1a" stroke-width="0.7"/>
<line x1="361.7" y1="322.29" x2="363.2" y2="322.29" stroke="#1a1a1a" stroke-width="0.7"/>
<line x1="361.7" y1="320.98" x2="363.2" y2="320.98" stroke="#1a1a1a" stroke-width="0.7"/>
<line x1="361.7" y1="319.67" x2="363.2" y2="319.67" stroke="#1a1a1a" stroke-width="0.7"/>
<line x1="361.7" y1="318.37" x2="363.2" y2="318.37" stroke="#1a1a1a" stroke-width="0.7"/>
<line x1="361.7" y1="317.06" x2="363.2" y2="317.06" stroke="#1a1a1a" stroke-width="0.7"/>
<line x1="361.7" y1="315.75" x2="363.2" y2="315.75" stroke="#1a1a1a" stroke-width="0.7"/>
<line x1="361.7" y1="314.45" x2="363.2" y2="314.45" stroke="#1a1a1a" stroke-width="0.7"/>
<line x1="361.7" y1="313.14" x2="363.2" y2="313.14" stroke="#1a1a1a" stroke-width="0.7"/>
<line x1="361.7" y1="311.83" x2="363.2" y2="311.83" stroke="#1a1a1a" stroke-width="0.7"/>
<line x1="361.7" y1="310.53" x2="363.2" y2="310.53" stroke="#1a1a1a" stroke-width="0.7"/>
<line x1="361.7" y1="309.22" x2="363.2" y2="309.22" stroke="#1a1a1a" stroke-width="0.7"/>
<line x1="361.7" y1="307.92" x2="363.2" y2="307.92" stroke="#1a1a1a" stroke-width="0.7"/>
<line x1="361.7" y1="306.61" x2="363.2" y2="306.61" stroke="#1a1a1a" stroke-width="0.7"/>
<line x1="361.7" y1="305.3" x2="363.2" y2="305.3" stroke="#1a1a1a" stroke-width="0.7"/>
<line x1="361.7" y1="304" x2="363.2" y2="304" stroke="#1a1a1a" stroke-width="0.7"/>
<line x1="361.7" y1="302.69" x2="363.2" y2="302.69" stroke="#1a1a1a" stroke-width="0.7"/>
<line x1="361.7" y1="301.38" x2="363.2" y2="301.38" stroke="#1a1a1a" stroke-width="0.7"/>
<line x1="361.7" y1="300.08" x2="363.2" y2="300.08" stroke="#1a1a1a" stroke-width="0.7"/>
<line x1="361.7" y1="298.77" x2="363.2" y2="298.77" stroke="#1a1a1a" stroke-width="0.7"/>
<line x1="361.7" y1="297.46" x2="363.2" y2="297.46" stroke="#1a1a1a" stroke-width="0.7"/>
<line x1="361.7" y1="296.16" x2="363.2" y2="296.16" stroke="#1a1a1a" stroke-width="0.7"/>
<line x1="361.7" y1="294.85" x2="363.2" y2="294.85" stroke="#1a1a1a" stroke-width="0.7"/>
<line x1="361.7" y1="293.55" x2="363.2" y2="293.55" stroke="#1a1a1a" stroke-width="0.7"/>
<line x1="363.2" y1="345.8" x2="363.2" y2="348.8" stroke="#1a1a1a" stroke-width="0.8"/>
<line x1="365.4" y1="345.8" x2="365.4" y2="347.3" stroke="#1a1a1a" stroke-width="0.8"/>
<line x1="367.6" y1="345.8" x2="367.6" y2="347.3" stroke="#1a1a1a" stroke-width="0.8"/>
<line x1="369.8" y1="345.8" x2="369.8" y2="347.3" stroke="#1a1a1a" stroke-width="0.8"/>
<line x1="372.01" y1="345.8" x2="372.01" y2="347.3" stroke="#1a1a1a" stroke-width="0.8"/>
<line x1="374.21" y1="345.8" x2="374.21" y2="348.8" stroke="#1a1a1a" stroke-width="0.8"/>
<line x1="376.41" y1="345.8" x2="376.41" y2="347.3" stroke="#1a1a1a" stroke-width="0.8"/>
<line x1="378.61" y1="345.8" x2="378.61" y2="347.3" stroke="#1a1a1a" stroke-width="0.8"/>
<line x1="380.81" y1="345.8" x2="380.81" y2="347.3" stroke="#1a1a1a" stroke-width="0.8"/>
<line x1="383.01" y1="345.8" x2="383.01" y2="347.3" stroke="#1a1a1a" stroke-width="0.8"/>
<line x1="385.22" y1="345.8" x2="385.22" y2="348.8" stroke="#1a1a1a" stroke-width="0.8"/>
<line x1="387.42" y1="345.8" x2="387.42" y2="347.3" stroke="#1a1a1a" stroke-width="0.8"/>
<line x1="389.62" y1="345.8" x2="389.62" y2="347.3" stroke="#1a1a1a" stroke-width="0.8"/>
<line x1="391.82" y1="345.8" x2="391.82" y2="347.3" stroke="#1a1a1a" stroke-width="0.8"/>
<line x1="394.02" y1="345.8" x2="394.02" y2="347.3" stroke="#1a1a1a" stroke-width="0.8"/>
<line x1="396.22" y1="345.8" x2="396.22" y2="348.8" stroke="#1a1a1a" stroke-width="0.8"/>
<line x1="398.42" y1="345.8" x2="398.42" y2="347.3" stroke="#1a1a1a" stroke-width="0.8"/>
<line x1="400.63" y1="345.8" x2="400.63" y2="347.3" stroke="#1a1a1a" stroke-width="0.8"/>
<line x1="402.83" y1="345.8" x2="402.83" y2="347.3" stroke="#1a1a1a" stroke-width="0.8"/>
<line x1="405.03" y1="345.8" x2="405.03" y2="347.3" stroke="#1a1a1a" stroke-width="0.8"/>
<line x1="407.23" y1="345.8" x2="407.23" y2="348.8" stroke="#1a1a1a" stroke-width="0.8"/>
<line x1="409.43" y1="345.8" x2="409.43" y2="347.3" stroke="#1a1a1a" stroke-width="0.8"/>
<line x1="411.63" y1="345.8" x2="411.63" y2="347.3" stroke="#1a1a1a" stroke-width="0.8"/>
<line x1="413.83" y1="345.8" x2="413.83" y2="347.3" stroke="#1a1a1a" stroke-width="0.8"/>
<line x1="416.04" y1="345.8" x2="416.04" y2="347.3" stroke="#1a1a1a" stroke-width="0.8"/>
<line x1="418.24" y1="345.8" x2="418.24" y2="348.8" stroke="#1a1a1a" stroke-width="0.8"/>
<line x1="420.44" y1="345.8" x2="420.44" y2="347.3" stroke="#1a1a1a" stroke-width="0.8"/>
<text x="374.21" y="355.2" font-size="4.5" text-anchor="middle" fill="#111" color="#111" style="stroke-width:0.07px">50</text>
<text x="385.22" y="355.2" font-size="4.5" text-anchor="middle" fill="#111" color="#111" style="stroke-width:0.07px">100</text>
<text x="396.22" y="355.2" font-size="4.5" text-anchor="middle" fill="#111" color="#111" style="stroke-width:0.07px">150</text>
<text x="407.23" y="355.2" font-size="4.5" text-anchor="middle" fill="#111" color="#111" style="stroke-width:0.07px">200</text>
<text x="418.24" y="355.2" font-size="4.5" text-anchor="middle" fill="#111" color="#111" style="stroke-width:0.07px">250</text>
<text x="392.65" y="363.4" font-size="6.2" text-anchor="middle" fill="#222" color="#222" textLength="12.8" lengthAdjust="spacingAndGlyphs">PE-A</text>
<text x="413.7" y="363.4" font-size="4.1" text-anchor="middle" fill="#222" color="#222" style="stroke-width:0.07px" textLength="15.4" lengthAdjust="spacingAndGlyphs">(x 1,000)</text>
<text x="344.5" y="319.15" font-size="6.4" text-anchor="middle" fill="#222" color="#222" transform="rotate(-90 344.5 319.15)">Count</text>
<clipPath id="h13"><rect x="182.4" y="378" width="57.1" height="53.4"/></clipPath>
<path d="M182.4 431.4L182.4 431.4L182.9 431.4L183.4 431.4L183.9 431.4L184.4 431.4L184.9 431.4L185.4 431.4L185.9 431.4L186.4 431.4L186.9 431.4L187.4 431.4L187.9 431.4L188.4 431.4L188.9 431.4L189.4 431.4L189.9 431.4L190.4 431.4L190.9 431.4L191.4 431.4L191.9 431.4L192.4 431.4L192.9 431.4L193.4 431.4L193.9 431.4L194.4 431.4L194.9 431.4L195.4 431.4L195.9 431.4L196 431.4L196.4 425.24L196.7 420.78L196.9 411.96L197.4 391.5L197.7 378.83L197.9 378.39L198.4 378.83L198.9 395.82L199.4 412.82L199.9 420.58L200.2 425.29L200.4 425.67L200.9 427.21L201.4 427.76L201.5 427.9L201.9 428.33L202.4 428.63L202.9 427.91L203.4 428.69L203.9 428.49L204.4 428.34L204.9 428.63L205.4 429L205.8 428.9L205.9 428.89L206.4 428.89L206.9 428.68L207.4 429.43L207.9 428.98L208.4 429.34L208.9 429.35L209.4 428.85L209.9 429.17L210.4 429.14L210.6 429.22L210.9 427.98L211.4 426.2L211.9 425.03L212.4 422.83L212.9 420.51L213.4 422.9L213.8 425.03L213.9 425.42L214.4 427.4L214.9 429.2L215.4 431.4L215.9 431.4L216.4 431.4L216.9 431.4L217.4 431.4L217.9 431.4L218.4 431.4L218.9 431.4L219.4 431.4L219.9 431.4L220.4 431.4L220.9 431.4L221.4 431.4L221.9 431.4L222.4 431.4L222.9 431.4L223.4 431.4L223.9 431.4L224.4 431.4L224.9 431.4L225.4 431.4L225.9 431.4L226.4 431.4L226.9 431.4L227.4 431.4L227.9 431.4L228.4 431.4L228.9 431.4L229.4 431.4L229.9 431.4L230.4 431.4L230.9 431.4L231.4 431.4L231.9 431.4L232.4 431.4L232.9 431.4L233.4 431.4L233.9 431.4L234.4 431.4L234.9 431.4L235.4 431.4L235.9 431.4L236.4 431.4L236.9 431.4L237.4 431.4L237.9 431.4L238.4 431.4L238.9 431.4L239.4 431.4L239.5 431.4Z" fill="#d08b7f" stroke="#b3293c" stroke-width="1.05" stroke-linejoin="round" clip-path="url(#h13)"/>
<rect x="182.4" y="378.3" width="57.1" height="53.1" fill="none" stroke="#262626" stroke-width="1.25"/>
<text x="177.2" y="432.9" font-size="4.2" text-anchor="end" fill="#111" color="#111" style="stroke-width:0.07px">0</text>
<line x1="179.6" y1="431.4" x2="182.4" y2="431.4" stroke="#222" stroke-width="0.55"/>
<text x="177.2" y="421.26" font-size="4.2" text-anchor="end" fill="#111" color="#111" style="stroke-width:0.07px">250</text>
<line x1="179.6" y1="419.76" x2="182.4" y2="419.76" stroke="#222" stroke-width="0.55"/>
<text x="177.2" y="409.61" font-size="4.2" text-anchor="end" fill="#111" color="#111" style="stroke-width:0.07px">500</text>
<line x1="179.6" y1="408.11" x2="182.4" y2="408.11" stroke="#222" stroke-width="0.55"/>
<text x="177.2" y="397.97" font-size="4.2" text-anchor="end" fill="#111" color="#111" style="stroke-width:0.07px">750</text>
<line x1="179.6" y1="396.47" x2="182.4" y2="396.47" stroke="#222" stroke-width="0.55"/>
<text x="177.2" y="386.32" font-size="4.2" text-anchor="end" fill="#111" color="#111" style="stroke-width:0.07px">1,000</text>
<line x1="179.6" y1="384.82" x2="182.4" y2="384.82" stroke="#222" stroke-width="0.55"/>
<line x1="180.9" y1="431.4" x2="182.4" y2="431.4" stroke="#1a1a1a" stroke-width="0.7"/>
<line x1="180.9" y1="430.24" x2="182.4" y2="430.24" stroke="#1a1a1a" stroke-width="0.7"/>
<line x1="180.9" y1="429.07" x2="182.4" y2="429.07" stroke="#1a1a1a" stroke-width="0.7"/>
<line x1="180.9" y1="427.91" x2="182.4" y2="427.91" stroke="#1a1a1a" stroke-width="0.7"/>
<line x1="180.9" y1="426.74" x2="182.4" y2="426.74" stroke="#1a1a1a" stroke-width="0.7"/>
<line x1="180.9" y1="425.58" x2="182.4" y2="425.58" stroke="#1a1a1a" stroke-width="0.7"/>
<line x1="180.9" y1="424.41" x2="182.4" y2="424.41" stroke="#1a1a1a" stroke-width="0.7"/>
<line x1="180.9" y1="423.25" x2="182.4" y2="423.25" stroke="#1a1a1a" stroke-width="0.7"/>
<line x1="180.9" y1="422.08" x2="182.4" y2="422.08" stroke="#1a1a1a" stroke-width="0.7"/>
<line x1="180.9" y1="420.92" x2="182.4" y2="420.92" stroke="#1a1a1a" stroke-width="0.7"/>
<line x1="180.9" y1="419.76" x2="182.4" y2="419.76" stroke="#1a1a1a" stroke-width="0.7"/>
<line x1="180.9" y1="418.59" x2="182.4" y2="418.59" stroke="#1a1a1a" stroke-width="0.7"/>
<line x1="180.9" y1="417.43" x2="182.4" y2="417.43" stroke="#1a1a1a" stroke-width="0.7"/>
<line x1="180.9" y1="416.26" x2="182.4" y2="416.26" stroke="#1a1a1a" stroke-width="0.7"/>
<line x1="180.9" y1="415.1" x2="182.4" y2="415.1" stroke="#1a1a1a" stroke-width="0.7"/>
<line x1="180.9" y1="413.93" x2="182.4" y2="413.93" stroke="#1a1a1a" stroke-width="0.7"/>
<line x1="180.9" y1="412.77" x2="182.4" y2="412.77" stroke="#1a1a1a" stroke-width="0.7"/>
<line x1="180.9" y1="411.6" x2="182.4" y2="411.6" stroke="#1a1a1a" stroke-width="0.7"/>
<line x1="180.9" y1="410.44" x2="182.4" y2="410.44" stroke="#1a1a1a" stroke-width="0.7"/>
<line x1="180.9" y1="409.28" x2="182.4" y2="409.28" stroke="#1a1a1a" stroke-width="0.7"/>
<line x1="180.9" y1="408.11" x2="182.4" y2="408.11" stroke="#1a1a1a" stroke-width="0.7"/>
<line x1="180.9" y1="406.95" x2="182.4" y2="406.95" stroke="#1a1a1a" stroke-width="0.7"/>
<line x1="180.9" y1="405.78" x2="182.4" y2="405.78" stroke="#1a1a1a" stroke-width="0.7"/>
<line x1="180.9" y1="404.62" x2="182.4" y2="404.62" stroke="#1a1a1a" stroke-width="0.7"/>
<line x1="180.9" y1="403.45" x2="182.4" y2="403.45" stroke="#1a1a1a" stroke-width="0.7"/>
<line x1="180.9" y1="402.29" x2="182.4" y2="402.29" stroke="#1a1a1a" stroke-width="0.7"/>
<line x1="180.9" y1="401.12" x2="182.4" y2="401.12" stroke="#1a1a1a" stroke-width="0.7"/>
<line x1="180.9" y1="399.96" x2="182.4" y2="399.96" stroke="#1a1a1a" stroke-width="0.7"/>
<line x1="180.9" y1="398.79" x2="182.4" y2="398.79" stroke="#1a1a1a" stroke-width="0.7"/>
<line x1="180.9" y1="397.63" x2="182.4" y2="397.63" stroke="#1a1a1a" stroke-width="0.7"/>
<line x1="180.9" y1="396.47" x2="182.4" y2="396.47" stroke="#1a1a1a" stroke-width="0.7"/>
<line x1="180.9" y1="395.3" x2="182.4" y2="395.3" stroke="#1a1a1a" stroke-width="0.7"/>
<line x1="180.9" y1="394.14" x2="182.4" y2="394.14" stroke="#1a1a1a" stroke-width="0.7"/>
<line x1="180.9" y1="392.97" x2="182.4" y2="392.97" stroke="#1a1a1a" stroke-width="0.7"/>
<line x1="180.9" y1="391.81" x2="182.4" y2="391.81" stroke="#1a1a1a" stroke-width="0.7"/>
<line x1="180.9" y1="390.64" x2="182.4" y2="390.64" stroke="#1a1a1a" stroke-width="0.7"/>
<line x1="180.9" y1="389.48" x2="182.4" y2="389.48" stroke="#1a1a1a" stroke-width="0.7"/>
<line x1="180.9" y1="388.31" x2="182.4" y2="388.31" stroke="#1a1a1a" stroke-width="0.7"/>
<line x1="180.9" y1="387.15" x2="182.4" y2="387.15" stroke="#1a1a1a" stroke-width="0.7"/>
<line x1="180.9" y1="385.99" x2="182.4" y2="385.99" stroke="#1a1a1a" stroke-width="0.7"/>
<line x1="180.9" y1="384.82" x2="182.4" y2="384.82" stroke="#1a1a1a" stroke-width="0.7"/>
<line x1="180.9" y1="383.66" x2="182.4" y2="383.66" stroke="#1a1a1a" stroke-width="0.7"/>
<line x1="180.9" y1="382.49" x2="182.4" y2="382.49" stroke="#1a1a1a" stroke-width="0.7"/>
<line x1="180.9" y1="381.33" x2="182.4" y2="381.33" stroke="#1a1a1a" stroke-width="0.7"/>
<line x1="180.9" y1="380.16" x2="182.4" y2="380.16" stroke="#1a1a1a" stroke-width="0.7"/>
<line x1="180.9" y1="379" x2="182.4" y2="379" stroke="#1a1a1a" stroke-width="0.7"/>
<line x1="182.4" y1="431.4" x2="182.4" y2="434.4" stroke="#1a1a1a" stroke-width="0.8"/>
<line x1="184.57" y1="431.4" x2="184.57" y2="432.9" stroke="#1a1a1a" stroke-width="0.8"/>
<line x1="186.74" y1="431.4" x2="186.74" y2="432.9" stroke="#1a1a1a" stroke-width="0.8"/>
<line x1="188.91" y1="431.4" x2="188.91" y2="432.9" stroke="#1a1a1a" stroke-width="0.8"/>
<line x1="191.08" y1="431.4" x2="191.08" y2="432.9" stroke="#1a1a1a" stroke-width="0.8"/>
<line x1="193.26" y1="431.4" x2="193.26" y2="434.4" stroke="#1a1a1a" stroke-width="0.8"/>
<line x1="195.43" y1="431.4" x2="195.43" y2="432.9" stroke="#1a1a1a" stroke-width="0.8"/>
<line x1="197.6" y1="431.4" x2="197.6" y2="432.9" stroke="#1a1a1a" stroke-width="0.8"/>
<line x1="199.77" y1="431.4" x2="199.77" y2="432.9" stroke="#1a1a1a" stroke-width="0.8"/>
<line x1="201.94" y1="431.4" x2="201.94" y2="432.9" stroke="#1a1a1a" stroke-width="0.8"/>
<line x1="204.11" y1="431.4" x2="204.11" y2="434.4" stroke="#1a1a1a" stroke-width="0.8"/>
<line x1="206.28" y1="431.4" x2="206.28" y2="432.9" stroke="#1a1a1a" stroke-width="0.8"/>
<line x1="208.45" y1="431.4" x2="208.45" y2="432.9" stroke="#1a1a1a" stroke-width="0.8"/>
<line x1="210.62" y1="431.4" x2="210.62" y2="432.9" stroke="#1a1a1a" stroke-width="0.8"/>
<line x1="212.8" y1="431.4" x2="212.8" y2="432.9" stroke="#1a1a1a" stroke-width="0.8"/>
<line x1="214.97" y1="431.4" x2="214.97" y2="434.4" stroke="#1a1a1a" stroke-width="0.8"/>
<line x1="217.14" y1="431.4" x2="217.14" y2="432.9" stroke="#1a1a1a" stroke-width="0.8"/>
<line x1="219.31" y1="431.4" x2="219.31" y2="432.9" stroke="#1a1a1a" stroke-width="0.8"/>
<line x1="221.48" y1="431.4" x2="221.48" y2="432.9" stroke="#1a1a1a" stroke-width="0.8"/>
<line x1="223.65" y1="431.4" x2="223.65" y2="432.9" stroke="#1a1a1a" stroke-width="0.8"/>
<line x1="225.82" y1="431.4" x2="225.82" y2="434.4" stroke="#1a1a1a" stroke-width="0.8"/>
<line x1="227.99" y1="431.4" x2="227.99" y2="432.9" stroke="#1a1a1a" stroke-width="0.8"/>
<line x1="230.16" y1="431.4" x2="230.16" y2="432.9" stroke="#1a1a1a" stroke-width="0.8"/>
<line x1="232.34" y1="431.4" x2="232.34" y2="432.9" stroke="#1a1a1a" stroke-width="0.8"/>
<line x1="234.51" y1="431.4" x2="234.51" y2="432.9" stroke="#1a1a1a" stroke-width="0.8"/>
<line x1="236.68" y1="431.4" x2="236.68" y2="434.4" stroke="#1a1a1a" stroke-width="0.8"/>
<line x1="238.85" y1="431.4" x2="238.85" y2="432.9" stroke="#1a1a1a" stroke-width="0.8"/>
<text x="193.26" y="440.8" font-size="4.5" text-anchor="middle" fill="#111" color="#111" style="stroke-width:0.07px">50</text>
<text x="204.11" y="440.8" font-size="4.5" text-anchor="middle" fill="#111" color="#111" style="stroke-width:0.07px">100</text>
<text x="214.97" y="440.8" font-size="4.5" text-anchor="middle" fill="#111" color="#111" style="stroke-width:0.07px">150</text>
<text x="225.82" y="440.8" font-size="4.5" text-anchor="middle" fill="#111" color="#111" style="stroke-width:0.07px">200</text>
<text x="236.68" y="440.8" font-size="4.5" text-anchor="middle" fill="#111" color="#111" style="stroke-width:0.07px">250</text>
<text x="211.45" y="449" font-size="6.2" text-anchor="middle" fill="#222" color="#222" textLength="12.8" lengthAdjust="spacingAndGlyphs">PE-A</text>
<text x="232.1" y="449" font-size="4.1" text-anchor="middle" fill="#222" color="#222" style="stroke-width:0.07px" textLength="15.4" lengthAdjust="spacingAndGlyphs">(x 1,000)</text>
<text x="163.2" y="404.85" font-size="6.4" text-anchor="middle" fill="#222" color="#222" transform="rotate(-90 163.2 404.85)">Count</text>
<clipPath id="h14"><rect x="274.1" y="378" width="57.5" height="53.4"/></clipPath>
<path d="M274.1 431.4L274.1 431.4L274.6 431.4L275.1 431.4L275.6 431.4L276.1 431.4L276.6 431.4L277.1 431.4L277.6 431.4L278.1 431.4L278.6 431.4L279.1 431.4L279.6 431.4L280.1 431.4L280.6 431.4L281.1 431.4L281.6 431.4L282.1 431.4L282.6 431.4L283.1 431.4L283.6 431.4L284.1 431.4L284.6 431.4L285.1 431.4L285.6 431.4L286.1 431.4L286.6 431.4L287.1 431.4L287.6 431.4L287.7 431.4L288.1 428.42L288.26 427.15L288.6 416.42L288.8 410.16L289.1 395.85L289.3 386.27L289.6 379.82L289.7 378.3L290.1 386.27L290.6 410.16L291.1 425.68L291.14 427.15L291.6 430.64L291.7 431.4L292.1 431.4L292.6 431.4L293.1 431.4L293.6 431.4L294.1 431.4L294.6 431.4L295.1 431.4L295.6 431.4L296.1 431.4L296.6 431.4L297.1 431.4L297.6 431.4L298.1 431.4L298.6 431.4L299.1 431.4L299.6 431.4L300.1 431.4L300.6 431.4L301.1 431.4L301.6 431.4L302.1 431.4L302.6 431.4L303.1 431.4L303.2 431.4L303.6 431.03L303.95 430.7L304.1 430.61L304.6 430.29L304.7 430.23L305.1 430.48L305.45 430.7L305.6 430.84L306.1 431.31L306.2 431.4L306.6 431.4L307.1 431.4L307.6 431.4L308.1 431.4L308.6 431.4L309.1 431.4L309.6 431.4L310.1 431.4L310.6 431.4L311.1 431.4L311.6 431.4L312.1 431.4L312.6 431.4L313.1 431.4L313.6 431.4L314.1 431.4L314.6 431.4L315.1 431.4L315.6 431.4L316.1 431.4L316.6 431.4L317.1 431.4L317.6 431.4L318.1 431.4L318.6 431.4L319.1 431.4L319.6 431.4L320.1 431.4L320.6 431.4L321.1 431.4L321.6 431.4L322.1 431.4L322.6 431.4L323.1 431.4L323.6 431.4L324.1 431.4L324.6 431.4L325.1 431.4L325.6 431.4L326.1 431.4L326.6 431.4L327.1 431.4L327.6 431.4L328.1 431.4L328.6 431.4L329.1 431.4L329.6 431.4L330.1 431.4L330.6 431.4L331.1 431.4L331.6 431.4L331.6 431.4Z" fill="#d08b7f" stroke="#b3293c" stroke-width="1.05" stroke-linejoin="round" clip-path="url(#h14)"/>
<rect x="274.1" y="378.3" width="57.5" height="53.1" fill="none" stroke="#262626" stroke-width="1.25"/>
<text x="268.9" y="432.9" font-size="4.2" text-anchor="end" fill="#111" color="#111" style="stroke-width:0.07px">0</text>
<line x1="271.3" y1="431.4" x2="274.1" y2="431.4" stroke="#222" stroke-width="0.55"/>
<text x="268.9" y="423.22" font-size="4.2" text-anchor="end" fill="#111" color="#111" style="stroke-width:0.07px">250</text>
<line x1="271.3" y1="421.72" x2="274.1" y2="421.72" stroke="#222" stroke-width="0.55"/>
<text x="268.9" y="413.53" font-size="4.2" text-anchor="end" fill="#111" color="#111" style="stroke-width:0.07px">500</text>
<line x1="271.3" y1="412.03" x2="274.1" y2="412.03" stroke="#222" stroke-width="0.55"/>
<text x="268.9" y="403.85" font-size="4.2" text-anchor="end" fill="#111" color="#111" style="stroke-width:0.07px">750</text>
<line x1="271.3" y1="402.35" x2="274.1" y2="402.35" stroke="#222" stroke-width="0.55"/>
<text x="268.9" y="394.17" font-size="4.2" text-anchor="end" fill="#111" color="#111" style="stroke-width:0.07px">1,000</text>
<line x1="271.3" y1="392.67" x2="274.1" y2="392.67" stroke="#222" stroke-width="0.55"/>
<text x="268.9" y="384.49" font-size="4.2" text-anchor="end" fill="#111" color="#111" style="stroke-width:0.07px">1,250</text>
<line x1="271.3" y1="382.99" x2="274.1" y2="382.99" stroke="#222" stroke-width="0.55"/>
<line x1="272.6" y1="431.4" x2="274.1" y2="431.4" stroke="#1a1a1a" stroke-width="0.7"/>
<line x1="272.6" y1="430.43" x2="274.1" y2="430.43" stroke="#1a1a1a" stroke-width="0.7"/>
<line x1="272.6" y1="429.46" x2="274.1" y2="429.46" stroke="#1a1a1a" stroke-width="0.7"/>
<line x1="272.6" y1="428.5" x2="274.1" y2="428.5" stroke="#1a1a1a" stroke-width="0.7"/>
<line x1="272.6" y1="427.53" x2="274.1" y2="427.53" stroke="#1a1a1a" stroke-width="0.7"/>
<line x1="272.6" y1="426.56" x2="274.1" y2="426.56" stroke="#1a1a1a" stroke-width="0.7"/>
<line x1="272.6" y1="425.59" x2="274.1" y2="425.59" stroke="#1a1a1a" stroke-width="0.7"/>
<line x1="272.6" y1="424.62" x2="274.1" y2="424.62" stroke="#1a1a1a" stroke-width="0.7"/>
<line x1="272.6" y1="423.65" x2="274.1" y2="423.65" stroke="#1a1a1a" stroke-width="0.7"/>
<line x1="272.6" y1="422.69" x2="274.1" y2="422.69" stroke="#1a1a1a" stroke-width="0.7"/>
<line x1="272.6" y1="421.72" x2="274.1" y2="421.72" stroke="#1a1a1a" stroke-width="0.7"/>
<line x1="272.6" y1="420.75" x2="274.1" y2="420.75" stroke="#1a1a1a" stroke-width="0.7"/>
<line x1="272.6" y1="419.78" x2="274.1" y2="419.78" stroke="#1a1a1a" stroke-width="0.7"/>
<line x1="272.6" y1="418.81" x2="274.1" y2="418.81" stroke="#1a1a1a" stroke-width="0.7"/>
<line x1="272.6" y1="417.84" x2="274.1" y2="417.84" stroke="#1a1a1a" stroke-width="0.7"/>
<line x1="272.6" y1="416.88" x2="274.1" y2="416.88" stroke="#1a1a1a" stroke-width="0.7"/>
<line x1="272.6" y1="415.91" x2="274.1" y2="415.91" stroke="#1a1a1a" stroke-width="0.7"/>
<line x1="272.6" y1="414.94" x2="274.1" y2="414.94" stroke="#1a1a1a" stroke-width="0.7"/>
<line x1="272.6" y1="413.97" x2="274.1" y2="413.97" stroke="#1a1a1a" stroke-width="0.7"/>
<line x1="272.6" y1="413" x2="274.1" y2="413" stroke="#1a1a1a" stroke-width="0.7"/>
<line x1="272.6" y1="412.03" x2="274.1" y2="412.03" stroke="#1a1a1a" stroke-width="0.7"/>
<line x1="272.6" y1="411.07" x2="274.1" y2="411.07" stroke="#1a1a1a" stroke-width="0.7"/>
<line x1="272.6" y1="410.1" x2="274.1" y2="410.1" stroke="#1a1a1a" stroke-width="0.7"/>
<line x1="272.6" y1="409.13" x2="274.1" y2="409.13" stroke="#1a1a1a" stroke-width="0.7"/>
<line x1="272.6" y1="408.16" x2="274.1" y2="408.16" stroke="#1a1a1a" stroke-width="0.7"/>
<line x1="272.6" y1="407.19" x2="274.1" y2="407.19" stroke="#1a1a1a" stroke-width="0.7"/>
<line x1="272.6" y1="406.22" x2="274.1" y2="406.22" stroke="#1a1a1a" stroke-width="0.7"/>
<line x1="272.6" y1="405.26" x2="274.1" y2="405.26" stroke="#1a1a1a" stroke-width="0.7"/>
<line x1="272.6" y1="404.29" x2="274.1" y2="404.29" stroke="#1a1a1a" stroke-width="0.7"/>
<line x1="272.6" y1="403.32" x2="274.1" y2="403.32" stroke="#1a1a1a" stroke-width="0.7"/>
<line x1="272.6" y1="402.35" x2="274.1" y2="402.35" stroke="#1a1a1a" stroke-width="0.7"/>
<line x1="272.6" y1="401.38" x2="274.1" y2="401.38" stroke="#1a1a1a" stroke-width="0.7"/>
<line x1="272.6" y1="400.42" x2="274.1" y2="400.42" stroke="#1a1a1a" stroke-width="0.7"/>
<line x1="272.6" y1="399.45" x2="274.1" y2="399.45" stroke="#1a1a1a" stroke-width="0.7"/>
<line x1="272.6" y1="398.48" x2="274.1" y2="398.48" stroke="#1a1a1a" stroke-width="0.7"/>
<line x1="272.6" y1="397.51" x2="274.1" y2="397.51" stroke="#1a1a1a" stroke-width="0.7"/>
<line x1="272.6" y1="396.54" x2="274.1" y2="396.54" stroke="#1a1a1a" stroke-width="0.7"/>
<line x1="272.6" y1="395.57" x2="274.1" y2="395.57" stroke="#1a1a1a" stroke-width="0.7"/>
<line x1="272.6" y1="394.61" x2="274.1" y2="394.61" stroke="#1a1a1a" stroke-width="0.7"/>
<line x1="272.6" y1="393.64" x2="274.1" y2="393.64" stroke="#1a1a1a" stroke-width="0.7"/>
<line x1="272.6" y1="392.67" x2="274.1" y2="392.67" stroke="#1a1a1a" stroke-width="0.7"/>
<line x1="272.6" y1="391.7" x2="274.1" y2="391.7" stroke="#1a1a1a" stroke-width="0.7"/>
<line x1="272.6" y1="390.73" x2="274.1" y2="390.73" stroke="#1a1a1a" stroke-width="0.7"/>
<line x1="272.6" y1="389.76" x2="274.1" y2="389.76" stroke="#1a1a1a" stroke-width="0.7"/>
<line x1="272.6" y1="388.8" x2="274.1" y2="388.8" stroke="#1a1a1a" stroke-width="0.7"/>
<line x1="272.6" y1="387.83" x2="274.1" y2="387.83" stroke="#1a1a1a" stroke-width="0.7"/>
<line x1="272.6" y1="386.86" x2="274.1" y2="386.86" stroke="#1a1a1a" stroke-width="0.7"/>
<line x1="272.6" y1="385.89" x2="274.1" y2="385.89" stroke="#1a1a1a" stroke-width="0.7"/>
<line x1="272.6" y1="384.92" x2="274.1" y2="384.92" stroke="#1a1a1a" stroke-width="0.7"/>
<line x1="272.6" y1="383.95" x2="274.1" y2="383.95" stroke="#1a1a1a" stroke-width="0.7"/>
<line x1="272.6" y1="382.99" x2="274.1" y2="382.99" stroke="#1a1a1a" stroke-width="0.7"/>
<line x1="272.6" y1="382.02" x2="274.1" y2="382.02" stroke="#1a1a1a" stroke-width="0.7"/>
<line x1="272.6" y1="381.05" x2="274.1" y2="381.05" stroke="#1a1a1a" stroke-width="0.7"/>
<line x1="272.6" y1="380.08" x2="274.1" y2="380.08" stroke="#1a1a1a" stroke-width="0.7"/>
<line x1="272.6" y1="379.11" x2="274.1" y2="379.11" stroke="#1a1a1a" stroke-width="0.7"/>
<line x1="274.1" y1="431.4" x2="274.1" y2="434.4" stroke="#1a1a1a" stroke-width="0.8"/>
<line x1="276.29" y1="431.4" x2="276.29" y2="432.9" stroke="#1a1a1a" stroke-width="0.8"/>
<line x1="278.47" y1="431.4" x2="278.47" y2="432.9" stroke="#1a1a1a" stroke-width="0.8"/>
<line x1="280.66" y1="431.4" x2="280.66" y2="432.9" stroke="#1a1a1a" stroke-width="0.8"/>
<line x1="282.85" y1="431.4" x2="282.85" y2="432.9" stroke="#1a1a1a" stroke-width="0.8"/>
<line x1="285.03" y1="431.4" x2="285.03" y2="434.4" stroke="#1a1a1a" stroke-width="0.8"/>
<line x1="287.22" y1="431.4" x2="287.22" y2="432.9" stroke="#1a1a1a" stroke-width="0.8"/>
<line x1="289.4" y1="431.4" x2="289.4" y2="432.9" stroke="#1a1a1a" stroke-width="0.8"/>
<line x1="291.59" y1="431.4" x2="291.59" y2="432.9" stroke="#1a1a1a" stroke-width="0.8"/>
<line x1="293.78" y1="431.4" x2="293.78" y2="432.9" stroke="#1a1a1a" stroke-width="0.8"/>
<line x1="295.96" y1="431.4" x2="295.96" y2="434.4" stroke="#1a1a1a" stroke-width="0.8"/>
<line x1="298.15" y1="431.4" x2="298.15" y2="432.9" stroke="#1a1a1a" stroke-width="0.8"/>
<line x1="300.34" y1="431.4" x2="300.34" y2="432.9" stroke="#1a1a1a" stroke-width="0.8"/>
<line x1="302.52" y1="431.4" x2="302.52" y2="432.9" stroke="#1a1a1a" stroke-width="0.8"/>
<line x1="304.71" y1="431.4" x2="304.71" y2="432.9" stroke="#1a1a1a" stroke-width="0.8"/>
<line x1="306.89" y1="431.4" x2="306.89" y2="434.4" stroke="#1a1a1a" stroke-width="0.8"/>
<line x1="309.08" y1="431.4" x2="309.08" y2="432.9" stroke="#1a1a1a" stroke-width="0.8"/>
<line x1="311.27" y1="431.4" x2="311.27" y2="432.9" stroke="#1a1a1a" stroke-width="0.8"/>
<line x1="313.45" y1="431.4" x2="313.45" y2="432.9" stroke="#1a1a1a" stroke-width="0.8"/>
<line x1="315.64" y1="431.4" x2="315.64" y2="432.9" stroke="#1a1a1a" stroke-width="0.8"/>
<line x1="317.83" y1="431.4" x2="317.83" y2="434.4" stroke="#1a1a1a" stroke-width="0.8"/>
<line x1="320.01" y1="431.4" x2="320.01" y2="432.9" stroke="#1a1a1a" stroke-width="0.8"/>
<line x1="322.2" y1="431.4" x2="322.2" y2="432.9" stroke="#1a1a1a" stroke-width="0.8"/>
<line x1="324.39" y1="431.4" x2="324.39" y2="432.9" stroke="#1a1a1a" stroke-width="0.8"/>
<line x1="326.57" y1="431.4" x2="326.57" y2="432.9" stroke="#1a1a1a" stroke-width="0.8"/>
<line x1="328.76" y1="431.4" x2="328.76" y2="434.4" stroke="#1a1a1a" stroke-width="0.8"/>
<line x1="330.94" y1="431.4" x2="330.94" y2="432.9" stroke="#1a1a1a" stroke-width="0.8"/>
<text x="285.03" y="440.8" font-size="4.5" text-anchor="middle" fill="#111" color="#111" style="stroke-width:0.07px">50</text>
<text x="295.96" y="440.8" font-size="4.5" text-anchor="middle" fill="#111" color="#111" style="stroke-width:0.07px">100</text>
<text x="306.89" y="440.8" font-size="4.5" text-anchor="middle" fill="#111" color="#111" style="stroke-width:0.07px">150</text>
<text x="317.83" y="440.8" font-size="4.5" text-anchor="middle" fill="#111" color="#111" style="stroke-width:0.07px">200</text>
<text x="328.76" y="440.8" font-size="4.5" text-anchor="middle" fill="#111" color="#111" style="stroke-width:0.07px">250</text>
<text x="303.35" y="449" font-size="6.2" text-anchor="middle" fill="#222" color="#222" textLength="12.8" lengthAdjust="spacingAndGlyphs">PE-A</text>
<text x="324.2" y="449" font-size="4.1" text-anchor="middle" fill="#222" color="#222" style="stroke-width:0.07px" textLength="15.4" lengthAdjust="spacingAndGlyphs">(x 1,000)</text>
<text x="255.4" y="404.85" font-size="6.4" text-anchor="middle" fill="#222" color="#222" transform="rotate(-90 255.4 404.85)">Count</text>
<clipPath id="h15"><rect x="363.2" y="378" width="57.9" height="53.4"/></clipPath>
<path d="M363.2 431.4L363.2 431.4L363.7 431.4L364.2 431.4L364.7 431.4L365.2 431.4L365.7 431.4L366.2 431.4L366.7 431.4L367.2 431.4L367.7 431.4L368.2 431.4L368.7 431.4L369.2 431.4L369.7 431.4L370.2 431.4L370.7 431.4L371.2 431.4L371.7 431.4L372.2 431.4L372.7 431.4L373.2 431.4L373.7 431.4L374.2 431.4L374.7 431.4L375.2 431.4L375.7 431.4L376.2 431.4L376.7 431.4L377.1 431.4L377.2 430.64L377.66 427.15L377.7 425.49L378.2 410.16L378.7 386.27L379.1 378.3L379.2 379.82L379.5 386.27L379.7 396.08L380 410.16L380.2 416.39L380.54 427.15L380.7 427.89L381.1 431.4L381.2 431.4L381.7 431.4L382.2 431.4L382.7 431.4L383.2 431.4L383.7 431.4L384.2 431.4L384.7 431.4L385.2 431.4L385.7 431.4L386.2 431.4L386.7 431.4L387.2 431.4L387.7 431.4L388.2 431.4L388.7 431.4L389.2 431.4L389.7 431.4L390.2 431.4L390.7 431.4L391.2 431.4L391.7 431.4L392.2 431.4L392.7 430.65L393.05 430.13L393.2 429.98L393.7 429.11L393.9 429.28L394.2 429.96L394.7 430.08L394.75 430.13L395.2 430.8L395.6 431.4L395.7 431.4L396.2 431.4L396.7 431.4L397.2 431.4L397.7 431.4L398.2 431.4L398.7 431.4L399.2 431.4L399.7 431.4L400.2 431.4L400.7 431.4L401.2 431.4L401.7 431.4L402.2 431.4L402.7 431.4L403.2 431.4L403.7 431.4L404.2 431.4L404.7 431.4L405.2 431.4L405.7 431.4L406.2 431.4L406.7 431.4L407.2 431.4L407.7 431.4L408.2 431.4L408.7 431.4L409.2 431.4L409.7 431.4L410.2 431.4L410.7 431.4L411.2 431.4L411.7 431.4L412.2 431.4L412.7 431.4L413.2 431.4L413.7 431.4L414.2 431.4L414.7 431.4L415.2 431.4L415.7 431.4L416.2 431.4L416.7 431.4L417.2 431.4L417.7 431.4L418.2 431.4L418.7 431.4L419.2 431.4L419.7 431.4L420.2 431.4L420.7 431.4L421.1 431.4Z" fill="#d08b7f" stroke="#b3293c" stroke-width="1.05" stroke-linejoin="round" clip-path="url(#h15)"/>
<rect x="363.2" y="378.3" width="57.9" height="53.1" fill="none" stroke="#262626" stroke-width="1.25"/>
<text x="358" y="432.9" font-size="4.2" text-anchor="end" fill="#111" color="#111" style="stroke-width:0.07px">0</text>
<line x1="360.4" y1="431.4" x2="363.2" y2="431.4" stroke="#222" stroke-width="0.55"/>
<text x="358" y="421.5" font-size="4.2" text-anchor="end" fill="#111" color="#111" style="stroke-width:0.07px">250</text>
<line x1="360.4" y1="420" x2="363.2" y2="420" stroke="#222" stroke-width="0.55"/>
<text x="358" y="410.09" font-size="4.2" text-anchor="end" fill="#111" color="#111" style="stroke-width:0.07px">500</text>
<line x1="360.4" y1="408.59" x2="363.2" y2="408.59" stroke="#222" stroke-width="0.55"/>
<text x="358" y="398.69" font-size="4.2" text-anchor="end" fill="#111" color="#111" style="stroke-width:0.07px">750</text>
<line x1="360.4" y1="397.19" x2="363.2" y2="397.19" stroke="#222" stroke-width="0.55"/>
<text x="358" y="387.28" font-size="4.2" text-anchor="end" fill="#111" color="#111" style="stroke-width:0.07px">1,000</text>
<line x1="360.4" y1="385.78" x2="363.2" y2="385.78" stroke="#222" stroke-width="0.55"/>
<line x1="361.7" y1="431.4" x2="363.2" y2="431.4" stroke="#1a1a1a" stroke-width="0.7"/>
<line x1="361.7" y1="430.26" x2="363.2" y2="430.26" stroke="#1a1a1a" stroke-width="0.7"/>
<line x1="361.7" y1="429.12" x2="363.2" y2="429.12" stroke="#1a1a1a" stroke-width="0.7"/>
<line x1="361.7" y1="427.98" x2="363.2" y2="427.98" stroke="#1a1a1a" stroke-width="0.7"/>
<line x1="361.7" y1="426.84" x2="363.2" y2="426.84" stroke="#1a1a1a" stroke-width="0.7"/>
<line x1="361.7" y1="425.7" x2="363.2" y2="425.7" stroke="#1a1a1a" stroke-width="0.7"/>
<line x1="361.7" y1="424.56" x2="363.2" y2="424.56" stroke="#1a1a1a" stroke-width="0.7"/>
<line x1="361.7" y1="423.42" x2="363.2" y2="423.42" stroke="#1a1a1a" stroke-width="0.7"/>
<line x1="361.7" y1="422.28" x2="363.2" y2="422.28" stroke="#1a1a1a" stroke-width="0.7"/>
<line x1="361.7" y1="421.14" x2="363.2" y2="421.14" stroke="#1a1a1a" stroke-width="0.7"/>
<line x1="361.7" y1="420" x2="363.2" y2="420" stroke="#1a1a1a" stroke-width="0.7"/>
<line x1="361.7" y1="418.85" x2="363.2" y2="418.85" stroke="#1a1a1a" stroke-width="0.7"/>
<line x1="361.7" y1="417.71" x2="363.2" y2="417.71" stroke="#1a1a1a" stroke-width="0.7"/>
<line x1="361.7" y1="416.57" x2="363.2" y2="416.57" stroke="#1a1a1a" stroke-width="0.7"/>
<line x1="361.7" y1="415.43" x2="363.2" y2="415.43" stroke="#1a1a1a" stroke-width="0.7"/>
<line x1="361.7" y1="414.29" x2="363.2" y2="414.29" stroke="#1a1a1a" stroke-width="0.7"/>
<line x1="361.7" y1="413.15" x2="363.2" y2="413.15" stroke="#1a1a1a" stroke-width="0.7"/>
<line x1="361.7" y1="412.01" x2="363.2" y2="412.01" stroke="#1a1a1a" stroke-width="0.7"/>
<line x1="361.7" y1="410.87" x2="363.2" y2="410.87" stroke="#1a1a1a" stroke-width="0.7"/>
<line x1="361.7" y1="409.73" x2="363.2" y2="409.73" stroke="#1a1a1a" stroke-width="0.7"/>
<line x1="361.7" y1="408.59" x2="363.2" y2="408.59" stroke="#1a1a1a" stroke-width="0.7"/>
<line x1="361.7" y1="407.45" x2="363.2" y2="407.45" stroke="#1a1a1a" stroke-width="0.7"/>
<line x1="361.7" y1="406.31" x2="363.2" y2="406.31" stroke="#1a1a1a" stroke-width="0.7"/>
<line x1="361.7" y1="405.17" x2="363.2" y2="405.17" stroke="#1a1a1a" stroke-width="0.7"/>
<line x1="361.7" y1="404.03" x2="363.2" y2="404.03" stroke="#1a1a1a" stroke-width="0.7"/>
<line x1="361.7" y1="402.89" x2="363.2" y2="402.89" stroke="#1a1a1a" stroke-width="0.7"/>
<line x1="361.7" y1="401.75" x2="363.2" y2="401.75" stroke="#1a1a1a" stroke-width="0.7"/>
<line x1="361.7" y1="400.61" x2="363.2" y2="400.61" stroke="#1a1a1a" stroke-width="0.7"/>
<line x1="361.7" y1="399.47" x2="363.2" y2="399.47" stroke="#1a1a1a" stroke-width="0.7"/>
<line x1="361.7" y1="398.33" x2="363.2" y2="398.33" stroke="#1a1a1a" stroke-width="0.7"/>
<line x1="361.7" y1="397.19" x2="363.2" y2="397.19" stroke="#1a1a1a" stroke-width="0.7"/>
<line x1="361.7" y1="396.05" x2="363.2" y2="396.05" stroke="#1a1a1a" stroke-width="0.7"/>
<line x1="361.7" y1="394.91" x2="363.2" y2="394.91" stroke="#1a1a1a" stroke-width="0.7"/>
<line x1="361.7" y1="393.76" x2="363.2" y2="393.76" stroke="#1a1a1a" stroke-width="0.7"/>
<line x1="361.7" y1="392.62" x2="363.2" y2="392.62" stroke="#1a1a1a" stroke-width="0.7"/>
<line x1="361.7" y1="391.48" x2="363.2" y2="391.48" stroke="#1a1a1a" stroke-width="0.7"/>
<line x1="361.7" y1="390.34" x2="363.2" y2="390.34" stroke="#1a1a1a" stroke-width="0.7"/>
<line x1="361.7" y1="389.2" x2="363.2" y2="389.2" stroke="#1a1a1a" stroke-width="0.7"/>
<line x1="361.7" y1="388.06" x2="363.2" y2="388.06" stroke="#1a1a1a" stroke-width="0.7"/>
<line x1="361.7" y1="386.92" x2="363.2" y2="386.92" stroke="#1a1a1a" stroke-width="0.7"/>
<line x1="361.7" y1="385.78" x2="363.2" y2="385.78" stroke="#1a1a1a" stroke-width="0.7"/>
<line x1="361.7" y1="384.64" x2="363.2" y2="384.64" stroke="#1a1a1a" stroke-width="0.7"/>
<line x1="361.7" y1="383.5" x2="363.2" y2="383.5" stroke="#1a1a1a" stroke-width="0.7"/>
<line x1="361.7" y1="382.36" x2="363.2" y2="382.36" stroke="#1a1a1a" stroke-width="0.7"/>
<line x1="361.7" y1="381.22" x2="363.2" y2="381.22" stroke="#1a1a1a" stroke-width="0.7"/>
<line x1="361.7" y1="380.08" x2="363.2" y2="380.08" stroke="#1a1a1a" stroke-width="0.7"/>
<line x1="361.7" y1="378.94" x2="363.2" y2="378.94" stroke="#1a1a1a" stroke-width="0.7"/>
<line x1="363.2" y1="431.4" x2="363.2" y2="434.4" stroke="#1a1a1a" stroke-width="0.8"/>
<line x1="365.4" y1="431.4" x2="365.4" y2="432.9" stroke="#1a1a1a" stroke-width="0.8"/>
<line x1="367.6" y1="431.4" x2="367.6" y2="432.9" stroke="#1a1a1a" stroke-width="0.8"/>
<line x1="369.8" y1="431.4" x2="369.8" y2="432.9" stroke="#1a1a1a" stroke-width="0.8"/>
<line x1="372.01" y1="431.4" x2="372.01" y2="432.9" stroke="#1a1a1a" stroke-width="0.8"/>
<line x1="374.21" y1="431.4" x2="374.21" y2="434.4" stroke="#1a1a1a" stroke-width="0.8"/>
<line x1="376.41" y1="431.4" x2="376.41" y2="432.9" stroke="#1a1a1a" stroke-width="0.8"/>
<line x1="378.61" y1="431.4" x2="378.61" y2="432.9" stroke="#1a1a1a" stroke-width="0.8"/>
<line x1="380.81" y1="431.4" x2="380.81" y2="432.9" stroke="#1a1a1a" stroke-width="0.8"/>
<line x1="383.01" y1="431.4" x2="383.01" y2="432.9" stroke="#1a1a1a" stroke-width="0.8"/>
<line x1="385.22" y1="431.4" x2="385.22" y2="434.4" stroke="#1a1a1a" stroke-width="0.8"/>
<line x1="387.42" y1="431.4" x2="387.42" y2="432.9" stroke="#1a1a1a" stroke-width="0.8"/>
<line x1="389.62" y1="431.4" x2="389.62" y2="432.9" stroke="#1a1a1a" stroke-width="0.8"/>
<line x1="391.82" y1="431.4" x2="391.82" y2="432.9" stroke="#1a1a1a" stroke-width="0.8"/>
<line x1="394.02" y1="431.4" x2="394.02" y2="432.9" stroke="#1a1a1a" stroke-width="0.8"/>
<line x1="396.22" y1="431.4" x2="396.22" y2="434.4" stroke="#1a1a1a" stroke-width="0.8"/>
<line x1="398.42" y1="431.4" x2="398.42" y2="432.9" stroke="#1a1a1a" stroke-width="0.8"/>
<line x1="400.63" y1="431.4" x2="400.63" y2="432.9" stroke="#1a1a1a" stroke-width="0.8"/>
<line x1="402.83" y1="431.4" x2="402.83" y2="432.9" stroke="#1a1a1a" stroke-width="0.8"/>
<line x1="405.03" y1="431.4" x2="405.03" y2="432.9" stroke="#1a1a1a" stroke-width="0.8"/>
<line x1="407.23" y1="431.4" x2="407.23" y2="434.4" stroke="#1a1a1a" stroke-width="0.8"/>
<line x1="409.43" y1="431.4" x2="409.43" y2="432.9" stroke="#1a1a1a" stroke-width="0.8"/>
<line x1="411.63" y1="431.4" x2="411.63" y2="432.9" stroke="#1a1a1a" stroke-width="0.8"/>
<line x1="413.83" y1="431.4" x2="413.83" y2="432.9" stroke="#1a1a1a" stroke-width="0.8"/>
<line x1="416.04" y1="431.4" x2="416.04" y2="432.9" stroke="#1a1a1a" stroke-width="0.8"/>
<line x1="418.24" y1="431.4" x2="418.24" y2="434.4" stroke="#1a1a1a" stroke-width="0.8"/>
<line x1="420.44" y1="431.4" x2="420.44" y2="432.9" stroke="#1a1a1a" stroke-width="0.8"/>
<text x="374.21" y="440.8" font-size="4.5" text-anchor="middle" fill="#111" color="#111" style="stroke-width:0.07px">50</text>
<text x="385.22" y="440.8" font-size="4.5" text-anchor="middle" fill="#111" color="#111" style="stroke-width:0.07px">100</text>
<text x="396.22" y="440.8" font-size="4.5" text-anchor="middle" fill="#111" color="#111" style="stroke-width:0.07px">150</text>
<text x="407.23" y="440.8" font-size="4.5" text-anchor="middle" fill="#111" color="#111" style="stroke-width:0.07px">200</text>
<text x="418.24" y="440.8" font-size="4.5" text-anchor="middle" fill="#111" color="#111" style="stroke-width:0.07px">250</text>
<text x="392.65" y="449" font-size="6.2" text-anchor="middle" fill="#222" color="#222" textLength="12.8" lengthAdjust="spacingAndGlyphs">PE-A</text>
<text x="413.7" y="449" font-size="4.1" text-anchor="middle" fill="#222" color="#222" style="stroke-width:0.07px" textLength="15.4" lengthAdjust="spacingAndGlyphs">(x 1,000)</text>
<text x="344.5" y="404.85" font-size="6.4" text-anchor="middle" fill="#222" color="#222" transform="rotate(-90 344.5 404.85)">Count</text>
<path d="M452.3 39.4V76.5H502.7" stroke="#111" fill="none" stroke-width="1.1"/>
<text x="449.6" y="78.7" font-size="6" text-anchor="end" fill="#222" color="#222">0</text>
<text x="449.6" y="71.28" font-size="6" text-anchor="end" fill="#222" color="#222">10</text>
<text x="449.6" y="63.86" font-size="6" text-anchor="end" fill="#222" color="#222">20</text>
<text x="449.6" y="56.44" font-size="6" text-anchor="end" fill="#222" color="#222">30</text>
<text x="449.6" y="49.02" font-size="6" text-anchor="end" fill="#222" color="#222">40</text>
<text x="449.6" y="41.6" font-size="6" text-anchor="end" fill="#222" color="#222">50</text>
<text x="437" y="57.95" font-size="8.8" text-anchor="middle" fill="#222" color="#222" style="stroke-width:0.1px" transform="rotate(-90 437 57.95)" textLength="35" lengthAdjust="spacingAndGlyphs">% of total</text>
<rect x="457.5" y="58.69" width="7" height="17.81" fill="#b0112f" stroke="none" stroke-width="1"/>
<rect x="457.5" y="43.11" width="7" height="15.58" fill="#2d4f8e" stroke="none" stroke-width="1"/>
<ellipse cx="461" cy="43.11" rx="1.3" ry="0.9" fill="#000"/>
<ellipse cx="461" cy="58.69" rx="1.3" ry="0.8" fill="#000"/>
<text x="464.3" y="81.5" font-size="6.5" text-anchor="end" fill="#222" color="#222" transform="rotate(-46 464.3 81.5)">DMSO</text>
<rect x="474.2" y="73.53" width="7" height="2.97" fill="#b0112f" stroke="none" stroke-width="1"/>
<rect x="474.2" y="69.08" width="7" height="4.45" fill="#2d4f8e" stroke="none" stroke-width="1"/>
<ellipse cx="477.7" cy="69.08" rx="1.3" ry="0.9" fill="#000"/>
<ellipse cx="477.7" cy="73.53" rx="1.3" ry="0.8" fill="#000"/>
<text x="481" y="81.5" font-size="6.5" text-anchor="end" fill="#222" color="#222" transform="rotate(-46 481 81.5)">Palbociclib</text>
<rect x="490.8" y="74.27" width="7" height="2.23" fill="#b0112f" stroke="none" stroke-width="1"/>
<rect x="490.8" y="69.08" width="7" height="5.19" fill="#2d4f8e" stroke="none" stroke-width="1"/>
<ellipse cx="494.3" cy="69.08" rx="1.3" ry="0.9" fill="#000"/>
<ellipse cx="494.3" cy="74.27" rx="1.3" ry="0.8" fill="#000"/>
<text x="497.6" y="81.5" font-size="6.5" text-anchor="end" fill="#222" color="#222" transform="rotate(-46 497.6 81.5)">Abemaciclib</text>
<line x1="460.4" y1="39.5" x2="477.7" y2="39.5" stroke="#444" stroke-width="1"/>
<rect x="466.25" y="36.4" width="1.2" height="1.4" fill="#333" stroke="none" stroke-width="1"/>
<rect x="468.6" y="36.4" width="1.2" height="1.4" fill="#333" stroke="none" stroke-width="1"/>
<rect x="470.95" y="36.4" width="1.2" height="1.4" fill="#333" stroke="none" stroke-width="1"/>
<line x1="460.4" y1="31.5" x2="494.6" y2="31.5" stroke="#444" stroke-width="1"/>
<rect x="474.75" y="28.4" width="1.2" height="1.4" fill="#333" stroke="none" stroke-width="1"/>
<rect x="477.1" y="28.4" width="1.2" height="1.4" fill="#333" stroke="none" stroke-width="1"/>
<rect x="479.45" y="28.4" width="1.2" height="1.4" fill="#333" stroke="none" stroke-width="1"/>
<rect x="491.8" y="43" width="3.2" height="3.2" fill="#2d4f8e" stroke="none" stroke-width="1"/>
<text x="497.9" y="46.4" font-size="5.2" fill="#222" color="#222" textLength="12.1" lengthAdjust="spacingAndGlyphs">G2/M</text>
<rect x="491.8" y="52.2" width="3.2" height="3.2" fill="#b0112f" stroke="none" stroke-width="1"/>
<text x="497.9" y="55.6" font-size="5.2" fill="#222" color="#222">S</text>
<path d="M452.3 126.9V164.4H502.7" stroke="#111" fill="none" stroke-width="1.1"/>
<text x="449.6" y="166.6" font-size="6" text-anchor="end" fill="#222" color="#222">0</text>
<text x="449.6" y="157.22" font-size="6" text-anchor="end" fill="#222" color="#222">10</text>
<text x="449.6" y="147.85" font-size="6" text-anchor="end" fill="#222" color="#222">20</text>
<text x="449.6" y="138.47" font-size="6" text-anchor="end" fill="#222" color="#222">30</text>
<text x="449.6" y="129.1" font-size="6" text-anchor="end" fill="#222" color="#222">40</text>
<text x="437" y="145.65" font-size="8.8" text-anchor="middle" fill="#222" color="#222" style="stroke-width:0.1px" transform="rotate(-90 437 145.65)" textLength="35" lengthAdjust="spacingAndGlyphs">% of total</text>
<rect x="457.5" y="146.59" width="7" height="17.81" fill="#b0112f" stroke="none" stroke-width="1"/>
<rect x="457.5" y="128.78" width="7" height="17.81" fill="#2d4f8e" stroke="none" stroke-width="1"/>
<ellipse cx="461" cy="128.78" rx="1.3" ry="0.9" fill="#000"/>
<ellipse cx="461" cy="146.59" rx="1.3" ry="0.8" fill="#000"/>
<text x="464.3" y="169.4" font-size="6.5" text-anchor="end" fill="#222" color="#222" transform="rotate(-46 464.3 169.4)">DMSO</text>
<rect x="474.2" y="160.18" width="7" height="4.22" fill="#b0112f" stroke="none" stroke-width="1"/>
<rect x="474.2" y="155.49" width="7" height="4.69" fill="#2d4f8e" stroke="none" stroke-width="1"/>
<ellipse cx="477.7" cy="155.49" rx="1.3" ry="0.9" fill="#000"/>
<ellipse cx="477.7" cy="160.18" rx="1.3" ry="0.8" fill="#000"/>
<text x="481" y="169.4" font-size="6.5" text-anchor="end" fill="#222" color="#222" transform="rotate(-46 481 169.4)">Palbociclib</text>
<rect x="490.8" y="157.84" width="7" height="6.56" fill="#b0112f" stroke="none" stroke-width="1"/>
<rect x="490.8" y="150.34" width="7" height="7.5" fill="#2d4f8e" stroke="none" stroke-width="1"/>
<ellipse cx="494.3" cy="150.34" rx="1.3" ry="0.9" fill="#000"/>
<ellipse cx="494.3" cy="157.84" rx="1.3" ry="0.8" fill="#000"/>
<text x="497.6" y="169.4" font-size="6.5" text-anchor="end" fill="#222" color="#222" transform="rotate(-46 497.6 169.4)">Abemaciclib</text>
<line x1="460.4" y1="124.5" x2="477.7" y2="124.5" stroke="#444" stroke-width="1"/>
<rect x="466.25" y="121.4" width="1.2" height="1.4" fill="#333" stroke="none" stroke-width="1"/>
<rect x="468.6" y="121.4" width="1.2" height="1.4" fill="#333" stroke="none" stroke-width="1"/>
<rect x="470.95" y="121.4" width="1.2" height="1.4" fill="#333" stroke="none" stroke-width="1"/>
<line x1="460.4" y1="116.5" x2="494.6" y2="116.5" stroke="#444" stroke-width="1"/>
<rect x="474.75" y="113.4" width="1.2" height="1.4" fill="#333" stroke="none" stroke-width="1"/>
<rect x="477.1" y="113.4" width="1.2" height="1.4" fill="#333" stroke="none" stroke-width="1"/>
<rect x="479.45" y="113.4" width="1.2" height="1.4" fill="#333" stroke="none" stroke-width="1"/>
<rect x="491.8" y="127.2" width="3.2" height="3.2" fill="#2d4f8e" stroke="none" stroke-width="1"/>
<text x="497.9" y="130.6" font-size="5.2" fill="#222" color="#222" textLength="12.1" lengthAdjust="spacingAndGlyphs">G2/M</text>
<rect x="491.8" y="136.4" width="3.2" height="3.2" fill="#b0112f" stroke="none" stroke-width="1"/>
<text x="497.9" y="139.8" font-size="5.2" fill="#222" color="#222">S</text>
<path d="M452.3 212.5V250H502.7" stroke="#111" fill="none" stroke-width="1.1"/>
<text x="449.6" y="252.2" font-size="6" text-anchor="end" fill="#222" color="#222">0</text>
<text x="449.6" y="242.82" font-size="6" text-anchor="end" fill="#222" color="#222">10</text>
<text x="449.6" y="233.45" font-size="6" text-anchor="end" fill="#222" color="#222">20</text>
<text x="449.6" y="224.07" font-size="6" text-anchor="end" fill="#222" color="#222">30</text>
<text x="449.6" y="214.7" font-size="6" text-anchor="end" fill="#222" color="#222">40</text>
<text x="437" y="231.25" font-size="8.8" text-anchor="middle" fill="#222" color="#222" style="stroke-width:0.1px" transform="rotate(-90 437 231.25)" textLength="35" lengthAdjust="spacingAndGlyphs">% of total</text>
<rect x="457.5" y="232.19" width="7" height="17.81" fill="#b0112f" stroke="none" stroke-width="1"/>
<rect x="457.5" y="215.31" width="7" height="16.88" fill="#2d4f8e" stroke="none" stroke-width="1"/>
<ellipse cx="461" cy="215.31" rx="1.3" ry="0.9" fill="#000"/>
<ellipse cx="461" cy="232.19" rx="1.3" ry="0.8" fill="#000"/>
<text x="464.3" y="255" font-size="6.5" text-anchor="end" fill="#222" color="#222" transform="rotate(-46 464.3 255)">DMSO</text>
<rect x="474.2" y="246.72" width="7" height="3.28" fill="#b0112f" stroke="none" stroke-width="1"/>
<rect x="474.2" y="242.97" width="7" height="3.75" fill="#2d4f8e" stroke="none" stroke-width="1"/>
<ellipse cx="477.7" cy="242.97" rx="1.3" ry="0.9" fill="#000"/>
<ellipse cx="477.7" cy="246.72" rx="1.3" ry="0.8" fill="#000"/>
<text x="481" y="255" font-size="6.5" text-anchor="end" fill="#222" color="#222" transform="rotate(-46 481 255)">Palbociclib</text>
<rect x="490.8" y="247.19" width="7" height="2.81" fill="#b0112f" stroke="none" stroke-width="1"/>
<rect x="490.8" y="242.97" width="7" height="4.22" fill="#2d4f8e" stroke="none" stroke-width="1"/>
<ellipse cx="494.3" cy="242.97" rx="1.3" ry="0.9" fill="#000"/>
<ellipse cx="494.3" cy="247.19" rx="1.3" ry="0.8" fill="#000"/>
<text x="497.6" y="255" font-size="6.5" text-anchor="end" fill="#222" color="#222" transform="rotate(-46 497.6 255)">Abemaciclib</text>
<line x1="460.4" y1="213.5" x2="477.7" y2="213.5" stroke="#444" stroke-width="1"/>
<rect x="466.25" y="210.4" width="1.2" height="1.4" fill="#333" stroke="none" stroke-width="1"/>
<rect x="468.6" y="210.4" width="1.2" height="1.4" fill="#333" stroke="none" stroke-width="1"/>
<rect x="470.95" y="210.4" width="1.2" height="1.4" fill="#333" stroke="none" stroke-width="1"/>
<line x1="460.4" y1="205.5" x2="494.6" y2="205.5" stroke="#444" stroke-width="1"/>
<rect x="474.75" y="202.4" width="1.2" height="1.4" fill="#333" stroke="none" stroke-width="1"/>
<rect x="477.1" y="202.4" width="1.2" height="1.4" fill="#333" stroke="none" stroke-width="1"/>
<rect x="479.45" y="202.4" width="1.2" height="1.4" fill="#333" stroke="none" stroke-width="1"/>
<rect x="491.8" y="217.2" width="3.2" height="3.2" fill="#2d4f8e" stroke="none" stroke-width="1"/>
<text x="497.9" y="220.6" font-size="5.2" fill="#222" color="#222" textLength="12.1" lengthAdjust="spacingAndGlyphs">G2/M</text>
<rect x="491.8" y="226.4" width="3.2" height="3.2" fill="#b0112f" stroke="none" stroke-width="1"/>
<text x="497.9" y="229.8" font-size="5.2" fill="#222" color="#222">S</text>
<path d="M452.3 297.3V334.8H502.7" stroke="#111" fill="none" stroke-width="1.1"/>
<text x="449.6" y="337" font-size="6" text-anchor="end" fill="#222" color="#222">0</text>
<text x="449.6" y="330.75" font-size="6" text-anchor="end" fill="#222" color="#222">10</text>
<text x="449.6" y="324.5" font-size="6" text-anchor="end" fill="#222" color="#222">20</text>
<text x="449.6" y="318.25" font-size="6" text-anchor="end" fill="#222" color="#222">30</text>
<text x="449.6" y="312" font-size="6" text-anchor="end" fill="#222" color="#222">40</text>
<text x="449.6" y="305.75" font-size="6" text-anchor="end" fill="#222" color="#222">50</text>
<text x="449.6" y="299.5" font-size="6" text-anchor="end" fill="#222" color="#222">60</text>
<text x="437" y="316.05" font-size="8.8" text-anchor="middle" fill="#222" color="#222" style="stroke-width:0.1px" transform="rotate(-90 437 316.05)" textLength="35" lengthAdjust="spacingAndGlyphs">% of total</text>
<rect x="457.5" y="319.8" width="7" height="15" fill="#b0112f" stroke="none" stroke-width="1"/>
<rect x="457.5" y="302.3" width="7" height="17.5" fill="#2d4f8e" stroke="none" stroke-width="1"/>
<ellipse cx="461" cy="302.3" rx="1.3" ry="0.9" fill="#000"/>
<ellipse cx="461" cy="319.8" rx="1.3" ry="0.8" fill="#000"/>
<text x="464.3" y="339.8" font-size="6.5" text-anchor="end" fill="#222" color="#222" transform="rotate(-46 464.3 339.8)">DMSO</text>
<rect x="474.2" y="331.68" width="7" height="3.12" fill="#b0112f" stroke="none" stroke-width="1"/>
<rect x="474.2" y="325.43" width="7" height="6.25" fill="#2d4f8e" stroke="none" stroke-width="1"/>
<ellipse cx="477.7" cy="325.43" rx="1.3" ry="0.9" fill="#000"/>
<ellipse cx="477.7" cy="331.68" rx="1.3" ry="0.8" fill="#000"/>
<text x="481" y="339.8" font-size="6.5" text-anchor="end" fill="#222" color="#222" transform="rotate(-46 481 339.8)">Palbociclib</text>
<rect x="490.8" y="330.74" width="7" height="4.06" fill="#b0112f" stroke="none" stroke-width="1"/>
<rect x="490.8" y="322.93" width="7" height="7.81" fill="#2d4f8e" stroke="none" stroke-width="1"/>
<ellipse cx="494.3" cy="322.93" rx="1.3" ry="0.9" fill="#000"/>
<ellipse cx="494.3" cy="330.74" rx="1.3" ry="0.8" fill="#000"/>
<text x="497.6" y="339.8" font-size="6.5" text-anchor="end" fill="#222" color="#222" transform="rotate(-46 497.6 339.8)">Abemaciclib</text>
<line x1="460.4" y1="297.5" x2="477.7" y2="297.5" stroke="#444" stroke-width="1"/>
<rect x="466.25" y="294.4" width="1.2" height="1.4" fill="#333" stroke="none" stroke-width="1"/>
<rect x="468.6" y="294.4" width="1.2" height="1.4" fill="#333" stroke="none" stroke-width="1"/>
<rect x="470.95" y="294.4" width="1.2" height="1.4" fill="#333" stroke="none" stroke-width="1"/>
<line x1="460.4" y1="289.5" x2="494.6" y2="289.5" stroke="#444" stroke-width="1"/>
<rect x="474.75" y="286.4" width="1.2" height="1.4" fill="#333" stroke="none" stroke-width="1"/>
<rect x="477.1" y="286.4" width="1.2" height="1.4" fill="#333" stroke="none" stroke-width="1"/>
<rect x="479.45" y="286.4" width="1.2" height="1.4" fill="#333" stroke="none" stroke-width="1"/>
<rect x="491.8" y="302.4" width="3.2" height="3.2" fill="#2d4f8e" stroke="none" stroke-width="1"/>
<text x="497.9" y="305.8" font-size="5.2" fill="#222" color="#222" textLength="12.1" lengthAdjust="spacingAndGlyphs">G2/M</text>
<rect x="491.8" y="311.6" width="3.2" height="3.2" fill="#b0112f" stroke="none" stroke-width="1"/>
<text x="497.9" y="315" font-size="5.2" fill="#222" color="#222">S</text>
<path d="M452.3 382.7V420.6H502.7" stroke="#111" fill="none" stroke-width="1.1"/>
<text x="449.6" y="422.8" font-size="6" text-anchor="end" fill="#222" color="#222">0</text>
<text x="449.6" y="415.22" font-size="6" text-anchor="end" fill="#222" color="#222">10</text>
<text x="449.6" y="407.64" font-size="6" text-anchor="end" fill="#222" color="#222">20</text>
<text x="449.6" y="400.06" font-size="6" text-anchor="end" fill="#222" color="#222">30</text>
<text x="449.6" y="392.48" font-size="6" text-anchor="end" fill="#222" color="#222">40</text>
<text x="449.6" y="384.9" font-size="6" text-anchor="end" fill="#222" color="#222">50</text>
<text x="437" y="401.65" font-size="8.8" text-anchor="middle" fill="#222" color="#222" style="stroke-width:0.1px" transform="rotate(-90 437 401.65)" textLength="35" lengthAdjust="spacingAndGlyphs">% of total</text>
<rect x="457.5" y="405.44" width="7" height="15.16" fill="#b0112f" stroke="none" stroke-width="1"/>
<rect x="457.5" y="388.76" width="7" height="16.68" fill="#2d4f8e" stroke="none" stroke-width="1"/>
<ellipse cx="461" cy="388.76" rx="1.3" ry="0.9" fill="#000"/>
<ellipse cx="461" cy="405.44" rx="1.3" ry="0.8" fill="#000"/>
<text x="464.3" y="425.6" font-size="6.5" text-anchor="end" fill="#222" color="#222" transform="rotate(-46 464.3 425.6)">DMSO</text>
<rect x="474.2" y="419.08" width="7" height="1.52" fill="#b0112f" stroke="none" stroke-width="1"/>
<rect x="474.2" y="413.78" width="7" height="5.31" fill="#2d4f8e" stroke="none" stroke-width="1"/>
<ellipse cx="477.7" cy="413.78" rx="1.3" ry="0.9" fill="#000"/>
<ellipse cx="477.7" cy="419.08" rx="1.3" ry="0.8" fill="#000"/>
<text x="481" y="425.6" font-size="6.5" text-anchor="end" fill="#222" color="#222" transform="rotate(-46 481 425.6)">Palbociclib</text>
<rect x="490.8" y="419.08" width="7" height="1.52" fill="#b0112f" stroke="none" stroke-width="1"/>
<rect x="490.8" y="411.5" width="7" height="7.58" fill="#2d4f8e" stroke="none" stroke-width="1"/>
<ellipse cx="494.3" cy="411.5" rx="1.3" ry="0.9" fill="#000"/>
<ellipse cx="494.3" cy="419.08" rx="1.3" ry="0.8" fill="#000"/>
<text x="497.6" y="425.6" font-size="6.5" text-anchor="end" fill="#222" color="#222" transform="rotate(-46 497.6 425.6)">Abemaciclib</text>
<line x1="460.4" y1="383.5" x2="477.7" y2="383.5" stroke="#444" stroke-width="1"/>
<rect x="466.25" y="380.4" width="1.2" height="1.4" fill="#333" stroke="none" stroke-width="1"/>
<rect x="468.6" y="380.4" width="1.2" height="1.4" fill="#333" stroke="none" stroke-width="1"/>
<rect x="470.95" y="380.4" width="1.2" height="1.4" fill="#333" stroke="none" stroke-width="1"/>
<line x1="460.4" y1="375.5" x2="494.6" y2="375.5" stroke="#444" stroke-width="1"/>
<rect x="474.75" y="372.4" width="1.2" height="1.4" fill="#333" stroke="none" stroke-width="1"/>
<rect x="477.1" y="372.4" width="1.2" height="1.4" fill="#333" stroke="none" stroke-width="1"/>
<rect x="479.45" y="372.4" width="1.2" height="1.4" fill="#333" stroke="none" stroke-width="1"/>
<rect x="491.8" y="387.6" width="3.2" height="3.2" fill="#2d4f8e" stroke="none" stroke-width="1"/>
<text x="497.9" y="391" font-size="5.2" fill="#222" color="#222" textLength="12.1" lengthAdjust="spacingAndGlyphs">G2/M</text>
<rect x="491.8" y="396.8" width="3.2" height="3.2" fill="#b0112f" stroke="none" stroke-width="1"/>
<text x="497.9" y="400.2" font-size="5.2" fill="#222" color="#222">S</text>
<text transform="translate(8.88 17.7) scale(0.858 1)" font-size="12.5" fill="#111" style="stroke:none">A</text>
<text transform="translate(161.17 17.9) scale(0.904 1)" font-size="12.5" fill="#111" style="stroke:none">B</text>
<text transform="translate(431.44 17.8) scale(0.873 1)" font-size="12.5" fill="#111" style="stroke:none">C</text>
<text transform="translate(7.99 472.7) scale(0.981 1)" font-size="12.5" fill="#111" style="stroke:none">D</text>
<text transform="translate(147.11 472.7) scale(0.769 1)" font-size="12.5" fill="#111" style="stroke:none">E</text>
<text transform="translate(301.98 472.7) scale(0.705 1)" font-size="12.5" fill="#111" style="stroke:none">F</text>
<text transform="translate(8.35 588.3) scale(0.883 1)" font-size="12.5" fill="#111" style="stroke:none">G</text>
<text transform="translate(191.02 588.1) scale(0.961 1)" font-size="12.5" fill="#111" style="stroke:none">H</text>
<rect x="51.8" y="510.9" width="67.8" height="22.6" fill="#fff" stroke="#111" stroke-width="1.5"/>
<rect x="51.8" y="536.5" width="67.8" height="20.4" fill="#f4f4f4" stroke="#111" stroke-width="1.5"/>
<defs><filter id="blur1" x="-20%" y="-80%" width="140%" height="260%"><feGaussianBlur stdDeviation="0.9"/></filter><filter id="blur2" x="-20%" y="-80%" width="140%" height="260%"><feGaussianBlur stdDeviation="1.2"/></filter></defs>
<g filter="url(#blur1)"><path d="M57 524.6C57 522.6 60 522.2 64 522.2L70 522.0C75 521.2 80 521.1 83 521.8C84.3 522.6 84.3 524.2 83 524.9C79 525.8 74 525.2 70 525.2L64 525.6C60 526.0 57 526.2 57 524.6Z" fill="#0d0d0d"/></g>
<g filter="url(#blur2)" opacity="0.16"><rect x="90" y="521.8" width="26" height="2.6" fill="#333"/></g>
<g filter="url(#blur1)"><rect x="54.2" y="544.0" width="29.8" height="6.2" rx="3" fill="#0d0d0d"/><rect x="87.6" y="544.0" width="29.6" height="6.2" rx="3" fill="#0d0d0d"/></g>
<text x="49.3" y="525.2" font-size="6.1" text-anchor="end" fill="#222" color="#222" textLength="25" lengthAdjust="spacingAndGlyphs">cyclin D3</text>
<text x="48.8" y="549.2" font-size="5.9" text-anchor="end" fill="#222" color="#222" textLength="20" lengthAdjust="spacingAndGlyphs">GAPDH</text>
<text x="67" y="508" font-size="6.1" fill="#222" color="#222" transform="rotate(-49 67 508)" textLength="24.8" lengthAdjust="spacingAndGlyphs">siControl</text>
<text x="99.6" y="508" font-size="6.1" fill="#222" color="#222" transform="rotate(-49 99.6 508)" textLength="24" lengthAdjust="spacingAndGlyphs">siCCND3</text>
<path d="M171.3 488.8V548H233.6" stroke="#111" fill="none" stroke-width="1.3"/>
<text x="168.4" y="550.2" font-size="6.1" text-anchor="end" fill="#222" color="#222">0</text>
<text x="168.4" y="520.6" font-size="6.1" text-anchor="end" fill="#222" color="#222">5</text>
<text x="168.4" y="491" font-size="6.1" text-anchor="end" fill="#222" color="#222">10</text>
<text x="171.3" y="556.8" font-size="6.1" text-anchor="middle" fill="#222" color="#222">0</text>
<text x="191.7" y="556.8" font-size="6.1" text-anchor="middle" fill="#222" color="#222">2</text>
<text x="212.1" y="556.8" font-size="6.1" text-anchor="middle" fill="#222" color="#222">4</text>
<text x="232.7" y="556.8" font-size="6.1" text-anchor="middle" fill="#222" color="#222">6</text>
<text x="202" y="565.2" font-size="6.6" text-anchor="middle" fill="#111" color="#111">Days</text>
<text x="155.3" y="518.4" font-size="7.6" fill="#111" color="#111" style="stroke-width:0.2px" text-anchor="middle" transform="rotate(-90 155.3 518.4)" textLength="60.4" lengthAdjust="spacingAndGlyphs">Cell number (x 10<tspan font-size="4.4" dy="-3.7">5</tspan><tspan dy="3.7">)</tspan></text>
<polyline points="171.3,545.93 191.7,544.74 212.1,539.12 232.7,532.02" fill="none" stroke="#b5203a" stroke-width="1"/>
<polyline points="171.3,545.93 191.7,543.56 212.1,536.16 232.7,510.11" fill="none" stroke="#34569a" stroke-width="1"/>
<line x1="232.7" y1="516.62" x2="232.7" y2="503.6" stroke="#111" stroke-width="0.8"/>
<line x1="231.4" y1="503.6" x2="234" y2="503.6" stroke="#111" stroke-width="0.8"/>
<line x1="231.4" y1="516.62" x2="234" y2="516.62" stroke="#111" stroke-width="0.8"/>
<line x1="211" y1="534.09" x2="213.2" y2="534.09" stroke="#111" stroke-width="0.7"/>
<circle cx="171.3" cy="545.93" r="1.6" fill="#1d3a78" stroke="none" stroke-width="1"/>
<circle cx="191.7" cy="543.56" r="1.6" fill="#1d3a78" stroke="none" stroke-width="1"/>
<circle cx="212.1" cy="536.16" r="1.6" fill="#1d3a78" stroke="none" stroke-width="1"/>
<circle cx="232.7" cy="510.11" r="1.6" fill="#1d3a78" stroke="none" stroke-width="1"/>
<circle cx="171.3" cy="545.93" r="1.6" fill="#a0102a" stroke="none" stroke-width="1"/>
<circle cx="191.7" cy="544.74" r="1.6" fill="#a0102a" stroke="none" stroke-width="1"/>
<circle cx="212.1" cy="539.12" r="1.6" fill="#a0102a" stroke="none" stroke-width="1"/>
<circle cx="232.7" cy="532.02" r="1.6" fill="#a0102a" stroke="none" stroke-width="1"/>
<path d="M236.6 509.4H239.1V532H236.6" stroke="#333" fill="none" stroke-width="1"/>
<rect x="243" y="520.7" width="1.2" height="1.3" fill="#333" stroke="none" stroke-width="1"/>
<line x1="250.3" y1="523.1" x2="261.6" y2="523.1" stroke="#34569a" stroke-width="1.2"/>
<circle cx="256.2" cy="523.1" r="1.7" fill="#1d3a78" stroke="none" stroke-width="1"/>
<text x="265.1" y="525" font-size="5.3" fill="#222" color="#222" textLength="20.2" lengthAdjust="spacingAndGlyphs">siControl</text>
<line x1="250.3" y1="532" x2="261.6" y2="532" stroke="#b5203a" stroke-width="1.2"/>
<circle cx="256.2" cy="532" r="1.7" fill="#a0102a" stroke="none" stroke-width="1"/>
<text x="265.1" y="533.9" font-size="5.3" fill="#222" color="#222" textLength="19.1" lengthAdjust="spacingAndGlyphs">siCCND3</text>
<clipPath id="h16"><rect x="322.8" y="487.4" width="64.5" height="60.1"/></clipPath>
<path d="M322.8 547.5L322.8 547.5L323.3 547.5L323.8 547.5L324.3 547.5L324.8 547.5L325.3 547.5L325.8 547.5L326.3 547.5L326.8 547.5L327.3 547.5L327.8 547.5L328.3 547.5L328.8 547.5L329.3 547.5L329.8 547.5L330.3 547.5L330.8 547.5L331.3 547.5L331.8 547.5L332.3 547.5L332.8 547.5L333.3 547.5L333.8 547.5L334.3 547.5L334.8 547.5L335.3 547.5L335.8 547.5L336.3 547.5L336.8 547.5L337.3 547.5L337.8 547.5L338.3 547.5L338.8 547.5L339.3 547.5L339.8 547.5L340.3 547.5L340.8 547.5L341.3 547.5L341.8 547.5L342.3 547.5L342.8 547.5L343.3 547.5L343.8 547.5L344.3 547.5L344.8 547.5L345.2 547.5L345.3 546.86L345.8 544.1L346.3 540.5L346.8 537.73L347.3 534.31L347.6 532.07L347.8 528.58L348.3 517.85L348.8 508.03L349.3 496.5L349.7 487.88L349.8 488.73L350.3 496.23L350.5 498.46L350.8 503.95L351.3 513.58L351.5 517.6L351.8 522.21L352.3 528.3L352.4 530.16L352.8 531.4L353.3 534.55L353.8 535.92L353.9 536.92L354.3 537.34L354.8 537.61L355.3 537.39L355.8 538.35L356.3 538.09L356.8 539.04L357.3 538.85L357.8 538.89L358.3 539.25L358.8 539.56L359.2 539.31L359.3 539.56L359.8 539.27L360.3 540.3L360.8 539.85L361.3 540.17L361.8 540.87L362.3 540.68L362.8 540.52L363 540.74L363.3 540.8L363.8 541.47L364.3 540.49L364.8 540.85L365.3 540.76L365.8 541.92L366.3 541.85L366.8 541.7L367.3 541.77L367.8 540.41L368.3 540.54L368.8 539.79L369.3 539.2L369.8 537.83L370.2 536.92L370.3 536.34L370.8 536.04L371.3 536.3L371.8 536.02L372.3 534.69L372.6 534.94L372.8 534.61L373.3 533.82L373.8 533.92L374.3 533.33L374.5 532.55L374.8 533.4L375.3 535.51L375.8 537.73L376 537.93L376.3 538.63L376.8 541.02L377.3 542.85L377.4 543.61L377.8 545.15L378.3 545.95L378.8 547.24L378.9 547.5L379.3 547.5L379.8 547.5L380.3 547.5L380.8 547.5L381.3 547.5L381.8 547.5L382.3 547.5L382.8 547.5L383.3 547.5L383.8 547.5L384.3 547.5L384.8 547.5L385.3 547.5L385.8 547.5L386.3 547.5L386.8 547.5L387.3 547.5L387.3 547.5Z" fill="#d08b7f" stroke="#b3293c" stroke-width="1.05" stroke-linejoin="round" clip-path="url(#h16)"/>
<rect x="322.8" y="487.7" width="64.5" height="59.8" fill="none" stroke="#262626" stroke-width="1.25"/>
<text x="317.6" y="549" font-size="4.2" text-anchor="end" fill="#111" color="#111" style="stroke-width:0.07px">0</text>
<line x1="320" y1="547.5" x2="322.8" y2="547.5" stroke="#222" stroke-width="0.55"/>
<text x="317.6" y="537.23" font-size="4.2" text-anchor="end" fill="#111" color="#111" style="stroke-width:0.07px">50</text>
<line x1="320" y1="535.73" x2="322.8" y2="535.73" stroke="#222" stroke-width="0.55"/>
<text x="317.6" y="525.46" font-size="4.2" text-anchor="end" fill="#111" color="#111" style="stroke-width:0.07px">100</text>
<line x1="320" y1="523.96" x2="322.8" y2="523.96" stroke="#222" stroke-width="0.55"/>
<text x="317.6" y="513.69" font-size="4.2" text-anchor="end" fill="#111" color="#111" style="stroke-width:0.07px">150</text>
<line x1="320" y1="512.19" x2="322.8" y2="512.19" stroke="#222" stroke-width="0.55"/>
<text x="317.6" y="501.91" font-size="4.2" text-anchor="end" fill="#111" color="#111" style="stroke-width:0.07px">200</text>
<line x1="320" y1="500.41" x2="322.8" y2="500.41" stroke="#222" stroke-width="0.55"/>
<text x="317.6" y="490.14" font-size="4.2" text-anchor="end" fill="#111" color="#111" style="stroke-width:0.07px">250</text>
<line x1="320" y1="488.64" x2="322.8" y2="488.64" stroke="#222" stroke-width="0.55"/>
<line x1="321.3" y1="547.5" x2="322.8" y2="547.5" stroke="#1a1a1a" stroke-width="0.7"/>
<line x1="321.3" y1="545.15" x2="322.8" y2="545.15" stroke="#1a1a1a" stroke-width="0.7"/>
<line x1="321.3" y1="542.79" x2="322.8" y2="542.79" stroke="#1a1a1a" stroke-width="0.7"/>
<line x1="321.3" y1="540.44" x2="322.8" y2="540.44" stroke="#1a1a1a" stroke-width="0.7"/>
<line x1="321.3" y1="538.08" x2="322.8" y2="538.08" stroke="#1a1a1a" stroke-width="0.7"/>
<line x1="321.3" y1="535.73" x2="322.8" y2="535.73" stroke="#1a1a1a" stroke-width="0.7"/>
<line x1="321.3" y1="533.37" x2="322.8" y2="533.37" stroke="#1a1a1a" stroke-width="0.7"/>
<line x1="321.3" y1="531.02" x2="322.8" y2="531.02" stroke="#1a1a1a" stroke-width="0.7"/>
<line x1="321.3" y1="528.67" x2="322.8" y2="528.67" stroke="#1a1a1a" stroke-width="0.7"/>
<line x1="321.3" y1="526.31" x2="322.8" y2="526.31" stroke="#1a1a1a" stroke-width="0.7"/>
<line x1="321.3" y1="523.96" x2="322.8" y2="523.96" stroke="#1a1a1a" stroke-width="0.7"/>
<line x1="321.3" y1="521.6" x2="322.8" y2="521.6" stroke="#1a1a1a" stroke-width="0.7"/>
<line x1="321.3" y1="519.25" x2="322.8" y2="519.25" stroke="#1a1a1a" stroke-width="0.7"/>
<line x1="321.3" y1="516.89" x2="322.8" y2="516.89" stroke="#1a1a1a" stroke-width="0.7"/>
<line x1="321.3" y1="514.54" x2="322.8" y2="514.54" stroke="#1a1a1a" stroke-width="0.7"/>
<line x1="321.3" y1="512.19" x2="322.8" y2="512.19" stroke="#1a1a1a" stroke-width="0.7"/>
<line x1="321.3" y1="509.83" x2="322.8" y2="509.83" stroke="#1a1a1a" stroke-width="0.7"/>
<line x1="321.3" y1="507.48" x2="322.8" y2="507.48" stroke="#1a1a1a" stroke-width="0.7"/>
<line x1="321.3" y1="505.12" x2="322.8" y2="505.12" stroke="#1a1a1a" stroke-width="0.7"/>
<line x1="321.3" y1="502.77" x2="322.8" y2="502.77" stroke="#1a1a1a" stroke-width="0.7"/>
<line x1="321.3" y1="500.41" x2="322.8" y2="500.41" stroke="#1a1a1a" stroke-width="0.7"/>
<line x1="321.3" y1="498.06" x2="322.8" y2="498.06" stroke="#1a1a1a" stroke-width="0.7"/>
<line x1="321.3" y1="495.7" x2="322.8" y2="495.7" stroke="#1a1a1a" stroke-width="0.7"/>
<line x1="321.3" y1="493.35" x2="322.8" y2="493.35" stroke="#1a1a1a" stroke-width="0.7"/>
<line x1="321.3" y1="491" x2="322.8" y2="491" stroke="#1a1a1a" stroke-width="0.7"/>
<line x1="321.3" y1="488.64" x2="322.8" y2="488.64" stroke="#1a1a1a" stroke-width="0.7"/>
<line x1="322.8" y1="547.5" x2="322.8" y2="550.5" stroke="#1a1a1a" stroke-width="0.8"/>
<line x1="325.25" y1="547.5" x2="325.25" y2="549" stroke="#1a1a1a" stroke-width="0.8"/>
<line x1="327.7" y1="547.5" x2="327.7" y2="549" stroke="#1a1a1a" stroke-width="0.8"/>
<line x1="330.16" y1="547.5" x2="330.16" y2="549" stroke="#1a1a1a" stroke-width="0.8"/>
<line x1="332.61" y1="547.5" x2="332.61" y2="549" stroke="#1a1a1a" stroke-width="0.8"/>
<line x1="335.06" y1="547.5" x2="335.06" y2="550.5" stroke="#1a1a1a" stroke-width="0.8"/>
<line x1="337.51" y1="547.5" x2="337.51" y2="549" stroke="#1a1a1a" stroke-width="0.8"/>
<line x1="339.97" y1="547.5" x2="339.97" y2="549" stroke="#1a1a1a" stroke-width="0.8"/>
<line x1="342.42" y1="547.5" x2="342.42" y2="549" stroke="#1a1a1a" stroke-width="0.8"/>
<line x1="344.87" y1="547.5" x2="344.87" y2="549" stroke="#1a1a1a" stroke-width="0.8"/>
<line x1="347.32" y1="547.5" x2="347.32" y2="550.5" stroke="#1a1a1a" stroke-width="0.8"/>
<line x1="349.78" y1="547.5" x2="349.78" y2="549" stroke="#1a1a1a" stroke-width="0.8"/>
<line x1="352.23" y1="547.5" x2="352.23" y2="549" stroke="#1a1a1a" stroke-width="0.8"/>
<line x1="354.68" y1="547.5" x2="354.68" y2="549" stroke="#1a1a1a" stroke-width="0.8"/>
<line x1="357.13" y1="547.5" x2="357.13" y2="549" stroke="#1a1a1a" stroke-width="0.8"/>
<line x1="359.59" y1="547.5" x2="359.59" y2="550.5" stroke="#1a1a1a" stroke-width="0.8"/>
<line x1="362.04" y1="547.5" x2="362.04" y2="549" stroke="#1a1a1a" stroke-width="0.8"/>
<line x1="364.49" y1="547.5" x2="364.49" y2="549" stroke="#1a1a1a" stroke-width="0.8"/>
<line x1="366.94" y1="547.5" x2="366.94" y2="549" stroke="#1a1a1a" stroke-width="0.8"/>
<line x1="369.4" y1="547.5" x2="369.4" y2="549" stroke="#1a1a1a" stroke-width="0.8"/>
<line x1="371.85" y1="547.5" x2="371.85" y2="550.5" stroke="#1a1a1a" stroke-width="0.8"/>
<line x1="374.3" y1="547.5" x2="374.3" y2="549" stroke="#1a1a1a" stroke-width="0.8"/>
<line x1="376.75" y1="547.5" x2="376.75" y2="549" stroke="#1a1a1a" stroke-width="0.8"/>
<line x1="379.21" y1="547.5" x2="379.21" y2="549" stroke="#1a1a1a" stroke-width="0.8"/>
<line x1="381.66" y1="547.5" x2="381.66" y2="549" stroke="#1a1a1a" stroke-width="0.8"/>
<line x1="384.11" y1="547.5" x2="384.11" y2="550.5" stroke="#1a1a1a" stroke-width="0.8"/>
<line x1="386.56" y1="547.5" x2="386.56" y2="549" stroke="#1a1a1a" stroke-width="0.8"/>
<text x="335.06" y="556.9" font-size="4.5" text-anchor="middle" fill="#111" color="#111" style="stroke-width:0.07px">50</text>
<text x="347.32" y="556.9" font-size="4.5" text-anchor="middle" fill="#111" color="#111" style="stroke-width:0.07px">100</text>
<text x="359.59" y="556.9" font-size="4.5" text-anchor="middle" fill="#111" color="#111" style="stroke-width:0.07px">150</text>
<text x="371.85" y="556.9" font-size="4.5" text-anchor="middle" fill="#111" color="#111" style="stroke-width:0.07px">200</text>
<text x="384.11" y="556.9" font-size="4.5" text-anchor="middle" fill="#111" color="#111" style="stroke-width:0.07px">250</text>
<text x="355.55" y="565.1" font-size="6.2" text-anchor="middle" fill="#222" color="#222" textLength="12.8" lengthAdjust="spacingAndGlyphs">PE-A</text>
<text x="379.9" y="565.1" font-size="4.1" text-anchor="middle" fill="#222" color="#222" style="stroke-width:0.07px" textLength="15.4" lengthAdjust="spacingAndGlyphs">(x 1,000)</text>
<text x="306" y="517.6" font-size="6.4" text-anchor="middle" fill="#222" color="#222" transform="rotate(-90 306 517.6)">Count</text>
<text x="353" y="484.9" font-size="6.3" text-anchor="middle" fill="#222" color="#222" textLength="26" lengthAdjust="spacingAndGlyphs">siControl</text>
<clipPath id="h17"><rect x="413.8" y="487.4" width="64.3" height="60.1"/></clipPath>
<path d="M413.8 547.5L413.8 547.5L414.3 547.5L414.8 547.5L415.3 547.5L415.8 547.5L416.3 547.5L416.8 547.5L417.3 547.5L417.8 547.5L418.3 547.5L418.8 547.5L419.3 547.5L419.8 547.5L420.3 547.5L420.8 547.5L421.3 547.5L421.8 547.5L422.3 547.5L422.8 547.5L423.3 547.5L423.8 547.5L424.3 547.5L424.8 547.5L425.3 547.5L425.8 547.5L426.3 547.5L426.8 547.5L427.3 547.5L427.8 547.5L428.3 547.5L428.8 547.5L429.3 547.5L429.8 547.5L430.3 547.5L430.8 547.5L431.3 547.5L431.8 547.5L432.3 547.5L432.8 547.5L433.3 547.5L433.8 547.5L434.3 547.5L434.8 547.5L435.3 547.5L435.8 547.5L436.25 547.5L436.3 546.86L436.8 540.02L437.3 534.56L437.8 527.2L438.2 522.5L438.3 520.84L438.8 512.39L439.3 503.55L439.6 498.46L439.8 495.31L440.3 489.48L440.4 487.88L440.8 494.79L441.3 502.41L441.35 503.25L441.8 512.97L442.3 523.57L442.5 527.29L442.8 531.73L443.3 538.59L443.5 540.74L443.8 541.63L444.3 542.38L444.8 543.27L445.3 543.6L445.4 544.09L445.8 544.39L446.3 544.19L446.8 544.63L447.3 544.48L447.8 544.93L448.3 544.71L448.8 545.05L449.2 544.51L449.3 544.24L449.8 544.51L450.3 544.99L450.8 544.7L451.3 544.2L451.8 545.24L452.3 544.44L452.8 544.95L453.3 544.92L453.8 544.57L454 544.99L454.3 545.15L454.8 545.07L455.3 544.91L455.8 544.61L456.3 545.43L456.8 544.9L457.3 545.1L457.8 545.24L458.3 545.57L458.4 545.47L458.8 545.33L459.3 545.28L459.8 544.79L460.3 544.47L460.8 543.55L461.3 542.87L461.8 543.05L462.3 542.76L462.8 542.46L463.2 541.64L463.3 541.18L463.8 540.89L464.3 540.87L464.8 541.07L465.3 540.86L465.4 540.5L465.8 541.39L466.3 542L466.8 543.16L467 543.07L467.3 543.69L467.8 544.83L468.3 544.92L468.8 546.39L469.3 547.32L469.4 547.5L469.8 547.5L470.3 547.5L470.8 547.5L471.3 547.5L471.8 547.5L472.3 547.5L472.8 547.5L473.3 547.5L473.8 547.5L474.3 547.5L474.8 547.5L475.3 547.5L475.8 547.5L476.3 547.5L476.8 547.5L477.3 547.5L477.8 547.5L478.1 547.5Z" fill="#d08b7f" stroke="#b3293c" stroke-width="1.05" stroke-linejoin="round" clip-path="url(#h17)"/>
<rect x="413.8" y="487.7" width="64.3" height="59.8" fill="none" stroke="#262626" stroke-width="1.25"/>
<text x="408.6" y="549" font-size="4.2" text-anchor="end" fill="#111" color="#111" style="stroke-width:0.07px">0</text>
<line x1="411" y1="547.5" x2="413.8" y2="547.5" stroke="#222" stroke-width="0.55"/>
<text x="408.6" y="540.58" font-size="4.2" text-anchor="end" fill="#111" color="#111" style="stroke-width:0.07px">50</text>
<line x1="411" y1="539.08" x2="413.8" y2="539.08" stroke="#222" stroke-width="0.55"/>
<text x="408.6" y="532.15" font-size="4.2" text-anchor="end" fill="#111" color="#111" style="stroke-width:0.07px">100</text>
<line x1="411" y1="530.65" x2="413.8" y2="530.65" stroke="#222" stroke-width="0.55"/>
<text x="408.6" y="523.73" font-size="4.2" text-anchor="end" fill="#111" color="#111" style="stroke-width:0.07px">150</text>
<line x1="411" y1="522.23" x2="413.8" y2="522.23" stroke="#222" stroke-width="0.55"/>
<text x="408.6" y="515.31" font-size="4.2" text-anchor="end" fill="#111" color="#111" style="stroke-width:0.07px">200</text>
<line x1="411" y1="513.81" x2="413.8" y2="513.81" stroke="#222" stroke-width="0.55"/>
<text x="408.6" y="506.89" font-size="4.2" text-anchor="end" fill="#111" color="#111" style="stroke-width:0.07px">250</text>
<line x1="411" y1="505.39" x2="413.8" y2="505.39" stroke="#222" stroke-width="0.55"/>
<text x="408.6" y="498.46" font-size="4.2" text-anchor="end" fill="#111" color="#111" style="stroke-width:0.07px">300</text>
<line x1="411" y1="496.96" x2="413.8" y2="496.96" stroke="#222" stroke-width="0.55"/>
<text x="408.6" y="490.04" font-size="4.2" text-anchor="end" fill="#111" color="#111" style="stroke-width:0.07px">350</text>
<line x1="411" y1="488.54" x2="413.8" y2="488.54" stroke="#222" stroke-width="0.55"/>
<line x1="412.3" y1="547.5" x2="413.8" y2="547.5" stroke="#1a1a1a" stroke-width="0.7"/>
<line x1="412.3" y1="545.82" x2="413.8" y2="545.82" stroke="#1a1a1a" stroke-width="0.7"/>
<line x1="412.3" y1="544.13" x2="413.8" y2="544.13" stroke="#1a1a1a" stroke-width="0.7"/>
<line x1="412.3" y1="542.45" x2="413.8" y2="542.45" stroke="#1a1a1a" stroke-width="0.7"/>
<line x1="412.3" y1="540.76" x2="413.8" y2="540.76" stroke="#1a1a1a" stroke-width="0.7"/>
<line x1="412.3" y1="539.08" x2="413.8" y2="539.08" stroke="#1a1a1a" stroke-width="0.7"/>
<line x1="412.3" y1="537.39" x2="413.8" y2="537.39" stroke="#1a1a1a" stroke-width="0.7"/>
<line x1="412.3" y1="535.71" x2="413.8" y2="535.71" stroke="#1a1a1a" stroke-width="0.7"/>
<line x1="412.3" y1="534.02" x2="413.8" y2="534.02" stroke="#1a1a1a" stroke-width="0.7"/>
<line x1="412.3" y1="532.34" x2="413.8" y2="532.34" stroke="#1a1a1a" stroke-width="0.7"/>
<line x1="412.3" y1="530.65" x2="413.8" y2="530.65" stroke="#1a1a1a" stroke-width="0.7"/>
<line x1="412.3" y1="528.97" x2="413.8" y2="528.97" stroke="#1a1a1a" stroke-width="0.7"/>
<line x1="412.3" y1="527.29" x2="413.8" y2="527.29" stroke="#1a1a1a" stroke-width="0.7"/>
<line x1="412.3" y1="525.6" x2="413.8" y2="525.6" stroke="#1a1a1a" stroke-width="0.7"/>
<line x1="412.3" y1="523.92" x2="413.8" y2="523.92" stroke="#1a1a1a" stroke-width="0.7"/>
<line x1="412.3" y1="522.23" x2="413.8" y2="522.23" stroke="#1a1a1a" stroke-width="0.7"/>
<line x1="412.3" y1="520.55" x2="413.8" y2="520.55" stroke="#1a1a1a" stroke-width="0.7"/>
<line x1="412.3" y1="518.86" x2="413.8" y2="518.86" stroke="#1a1a1a" stroke-width="0.7"/>
<line x1="412.3" y1="517.18" x2="413.8" y2="517.18" stroke="#1a1a1a" stroke-width="0.7"/>
<line x1="412.3" y1="515.49" x2="413.8" y2="515.49" stroke="#1a1a1a" stroke-width="0.7"/>
<line x1="412.3" y1="513.81" x2="413.8" y2="513.81" stroke="#1a1a1a" stroke-width="0.7"/>
<line x1="412.3" y1="512.13" x2="413.8" y2="512.13" stroke="#1a1a1a" stroke-width="0.7"/>
<line x1="412.3" y1="510.44" x2="413.8" y2="510.44" stroke="#1a1a1a" stroke-width="0.7"/>
<line x1="412.3" y1="508.76" x2="413.8" y2="508.76" stroke="#1a1a1a" stroke-width="0.7"/>
<line x1="412.3" y1="507.07" x2="413.8" y2="507.07" stroke="#1a1a1a" stroke-width="0.7"/>
<line x1="412.3" y1="505.39" x2="413.8" y2="505.39" stroke="#1a1a1a" stroke-width="0.7"/>
<line x1="412.3" y1="503.7" x2="413.8" y2="503.7" stroke="#1a1a1a" stroke-width="0.7"/>
<line x1="412.3" y1="502.02" x2="413.8" y2="502.02" stroke="#1a1a1a" stroke-width="0.7"/>
<line x1="412.3" y1="500.33" x2="413.8" y2="500.33" stroke="#1a1a1a" stroke-width="0.7"/>
<line x1="412.3" y1="498.65" x2="413.8" y2="498.65" stroke="#1a1a1a" stroke-width="0.7"/>
<line x1="412.3" y1="496.96" x2="413.8" y2="496.96" stroke="#1a1a1a" stroke-width="0.7"/>
<line x1="412.3" y1="495.28" x2="413.8" y2="495.28" stroke="#1a1a1a" stroke-width="0.7"/>
<line x1="412.3" y1="493.6" x2="413.8" y2="493.6" stroke="#1a1a1a" stroke-width="0.7"/>
<line x1="412.3" y1="491.91" x2="413.8" y2="491.91" stroke="#1a1a1a" stroke-width="0.7"/>
<line x1="412.3" y1="490.23" x2="413.8" y2="490.23" stroke="#1a1a1a" stroke-width="0.7"/>
<line x1="412.3" y1="488.54" x2="413.8" y2="488.54" stroke="#1a1a1a" stroke-width="0.7"/>
<line x1="413.8" y1="547.5" x2="413.8" y2="550.5" stroke="#1a1a1a" stroke-width="0.8"/>
<line x1="416.24" y1="547.5" x2="416.24" y2="549" stroke="#1a1a1a" stroke-width="0.8"/>
<line x1="418.69" y1="547.5" x2="418.69" y2="549" stroke="#1a1a1a" stroke-width="0.8"/>
<line x1="421.13" y1="547.5" x2="421.13" y2="549" stroke="#1a1a1a" stroke-width="0.8"/>
<line x1="423.58" y1="547.5" x2="423.58" y2="549" stroke="#1a1a1a" stroke-width="0.8"/>
<line x1="426.02" y1="547.5" x2="426.02" y2="550.5" stroke="#1a1a1a" stroke-width="0.8"/>
<line x1="428.47" y1="547.5" x2="428.47" y2="549" stroke="#1a1a1a" stroke-width="0.8"/>
<line x1="430.91" y1="547.5" x2="430.91" y2="549" stroke="#1a1a1a" stroke-width="0.8"/>
<line x1="433.36" y1="547.5" x2="433.36" y2="549" stroke="#1a1a1a" stroke-width="0.8"/>
<line x1="435.8" y1="547.5" x2="435.8" y2="549" stroke="#1a1a1a" stroke-width="0.8"/>
<line x1="438.25" y1="547.5" x2="438.25" y2="550.5" stroke="#1a1a1a" stroke-width="0.8"/>
<line x1="440.69" y1="547.5" x2="440.69" y2="549" stroke="#1a1a1a" stroke-width="0.8"/>
<line x1="443.14" y1="547.5" x2="443.14" y2="549" stroke="#1a1a1a" stroke-width="0.8"/>
<line x1="445.58" y1="547.5" x2="445.58" y2="549" stroke="#1a1a1a" stroke-width="0.8"/>
<line x1="448.03" y1="547.5" x2="448.03" y2="549" stroke="#1a1a1a" stroke-width="0.8"/>
<line x1="450.47" y1="547.5" x2="450.47" y2="550.5" stroke="#1a1a1a" stroke-width="0.8"/>
<line x1="452.92" y1="547.5" x2="452.92" y2="549" stroke="#1a1a1a" stroke-width="0.8"/>
<line x1="455.36" y1="547.5" x2="455.36" y2="549" stroke="#1a1a1a" stroke-width="0.8"/>
<line x1="457.81" y1="547.5" x2="457.81" y2="549" stroke="#1a1a1a" stroke-width="0.8"/>
<line x1="460.25" y1="547.5" x2="460.25" y2="549" stroke="#1a1a1a" stroke-width="0.8"/>
<line x1="462.7" y1="547.5" x2="462.7" y2="550.5" stroke="#1a1a1a" stroke-width="0.8"/>
<line x1="465.14" y1="547.5" x2="465.14" y2="549" stroke="#1a1a1a" stroke-width="0.8"/>
<line x1="467.59" y1="547.5" x2="467.59" y2="549" stroke="#1a1a1a" stroke-width="0.8"/>
<line x1="470.03" y1="547.5" x2="470.03" y2="549" stroke="#1a1a1a" stroke-width="0.8"/>
<line x1="472.48" y1="547.5" x2="472.48" y2="549" stroke="#1a1a1a" stroke-width="0.8"/>
<line x1="474.92" y1="547.5" x2="474.92" y2="550.5" stroke="#1a1a1a" stroke-width="0.8"/>
<line x1="477.37" y1="547.5" x2="477.37" y2="549" stroke="#1a1a1a" stroke-width="0.8"/>
<text x="426.02" y="556.9" font-size="4.5" text-anchor="middle" fill="#111" color="#111" style="stroke-width:0.07px">50</text>
<text x="438.25" y="556.9" font-size="4.5" text-anchor="middle" fill="#111" color="#111" style="stroke-width:0.07px">100</text>
<text x="450.47" y="556.9" font-size="4.5" text-anchor="middle" fill="#111" color="#111" style="stroke-width:0.07px">150</text>
<text x="462.7" y="556.9" font-size="4.5" text-anchor="middle" fill="#111" color="#111" style="stroke-width:0.07px">200</text>
<text x="474.92" y="556.9" font-size="4.5" text-anchor="middle" fill="#111" color="#111" style="stroke-width:0.07px">250</text>
<text x="446.45" y="565.1" font-size="6.2" text-anchor="middle" fill="#222" color="#222" textLength="12.8" lengthAdjust="spacingAndGlyphs">PE-A</text>
<text x="470.7" y="565.1" font-size="4.1" text-anchor="middle" fill="#222" color="#222" style="stroke-width:0.07px" textLength="15.4" lengthAdjust="spacingAndGlyphs">(x 1,000)</text>
<text x="397" y="517.6" font-size="6.4" text-anchor="middle" fill="#222" color="#222" transform="rotate(-90 397 517.6)">Count</text>
<text x="445.7" y="484.4" font-size="6.3" text-anchor="middle" fill="#222" color="#222" textLength="23" lengthAdjust="spacingAndGlyphs">siCCND3</text>
<path d="M56.5 606.5V684.4H126.2" stroke="#111" fill="none" stroke-width="1.2"/>
<text x="54" y="686.6" font-size="6.1" text-anchor="end" fill="#222" color="#222">0</text>
<text x="54" y="673.62" font-size="6.1" text-anchor="end" fill="#222" color="#222">10</text>
<text x="54" y="660.63" font-size="6.1" text-anchor="end" fill="#222" color="#222">20</text>
<text x="54" y="647.65" font-size="6.1" text-anchor="end" fill="#222" color="#222">30</text>
<text x="54" y="634.67" font-size="6.1" text-anchor="end" fill="#222" color="#222">40</text>
<text x="54" y="621.68" font-size="6.1" text-anchor="end" fill="#222" color="#222">50</text>
<text x="54" y="608.7" font-size="6.1" text-anchor="end" fill="#222" color="#222">60</text>
<text x="41.8" y="644.6" font-size="8.5" text-anchor="middle" fill="#222" color="#222" style="stroke-width:0.1px" transform="rotate(-90 41.8 644.6)" textLength="33.3" lengthAdjust="spacingAndGlyphs">% of total</text>
<rect x="66.2" y="653.11" width="15.7" height="31.29" fill="#b0112f" stroke="none" stroke-width="1"/>
<rect x="66.2" y="623.51" width="15.7" height="29.6" fill="#2d4f8e" stroke="none" stroke-width="1"/>
<line x1="74.05" y1="657.65" x2="74.05" y2="648.57" stroke="#111" stroke-width="0.8"/>
<line x1="72.75" y1="648.57" x2="75.35" y2="648.57" stroke="#111" stroke-width="0.8"/>
<line x1="72.75" y1="657.65" x2="75.35" y2="657.65" stroke="#111" stroke-width="0.8"/>
<line x1="74.05" y1="626.36" x2="74.05" y2="620.65" stroke="#111" stroke-width="0.8"/>
<line x1="72.75" y1="620.65" x2="75.35" y2="620.65" stroke="#111" stroke-width="0.8"/>
<line x1="72.75" y1="626.36" x2="75.35" y2="626.36" stroke="#111" stroke-width="0.8"/>
<rect x="101.2" y="667.13" width="15.7" height="17.27" fill="#b0112f" stroke="none" stroke-width="1"/>
<rect x="101.2" y="645.97" width="15.7" height="21.16" fill="#2d4f8e" stroke="none" stroke-width="1"/>
<line x1="109.05" y1="669.21" x2="109.05" y2="665.05" stroke="#111" stroke-width="0.8"/>
<line x1="107.75" y1="665.05" x2="110.35" y2="665.05" stroke="#111" stroke-width="0.8"/>
<line x1="107.75" y1="669.21" x2="110.35" y2="669.21" stroke="#111" stroke-width="0.8"/>
<line x1="109.05" y1="646.49" x2="109.05" y2="645.45" stroke="#111" stroke-width="0.8"/>
<line x1="107.75" y1="645.45" x2="110.35" y2="645.45" stroke="#111" stroke-width="0.8"/>
<line x1="107.75" y1="646.49" x2="110.35" y2="646.49" stroke="#111" stroke-width="0.8"/>
<text x="74" y="693.3" font-size="6.2" text-anchor="middle" fill="#222" color="#222" textLength="24.6" lengthAdjust="spacingAndGlyphs">siControl</text>
<text x="108.9" y="693.3" font-size="6.2" text-anchor="middle" fill="#222" color="#222" textLength="23.1" lengthAdjust="spacingAndGlyphs">siCCND3</text>
<line x1="75.2" y1="604.2" x2="112.3" y2="604.2" stroke="#444" stroke-width="0.9"/>
<rect x="93.2" y="601" width="1.2" height="1.3" fill="#333" stroke="none" stroke-width="1"/>
<rect x="128.8" y="636.5" width="3.5" height="3.9" fill="#2d4f8e" stroke="none" stroke-width="1"/>
<text x="135" y="640.4" font-size="5.3" fill="#222" color="#222" textLength="13" lengthAdjust="spacingAndGlyphs">G2/M</text>
<rect x="128.8" y="645.4" width="3.5" height="3.8" fill="#b0112f" stroke="none" stroke-width="1"/>
<text x="135" y="649.2" font-size="5.3" fill="#222" color="#222">S</text>
<rect x="204" y="595" width="199.2" height="112.2" fill="none" stroke="#4a67a3" stroke-width="1" rx="12" ry="12"/>
<text x="219.6" y="608.5" font-size="6.4" fill="#c0294a" color="#c0294a" textLength="71.6" lengthAdjust="spacingAndGlyphs">Deregulation of cyclin D3</text>
<text x="219.6" y="616.6" font-size="6.2" fill="#222" color="#222" textLength="107.8" lengthAdjust="spacingAndGlyphs">(CCND3 mutations, overexpression, etc.)</text>
<ellipse cx="242.6" cy="630.4" rx="20.3" ry="9.4" fill="#b9c3df" stroke="#4a67a3" stroke-width="1.2"/>
<text x="242.4" y="632.6" font-size="6.5" text-anchor="middle" fill="#222" color="#222" textLength="25.2" lengthAdjust="spacingAndGlyphs">cyclin D3</text>
<ellipse cx="242.6" cy="651.0" rx="20.3" ry="9.6" fill="#ebc6ba" stroke="#c0304a" stroke-width="1.2"/>
<text x="242.4" y="653.3" font-size="6.5" text-anchor="middle" fill="#222" color="#222" textLength="21" lengthAdjust="spacingAndGlyphs">CDK4/6</text>
<line x1="242.3" y1="665" x2="242.3" y2="680" stroke="#222" stroke-width="1"/>
<line x1="237.6" y1="665" x2="247.2" y2="665" stroke="#222" stroke-width="1"/>
<text x="219.6" y="688.6" font-size="6.4" fill="#c0294a" color="#c0294a" textLength="48.5" lengthAdjust="spacingAndGlyphs">CDK4/6 inhibitors</text>
<text x="219.6" y="697" font-size="6.2" fill="#222" color="#222" textLength="70" lengthAdjust="spacingAndGlyphs">(Palbociclib, Abemaciclib)</text>
<line x1="264.6" y1="640.6" x2="321" y2="640.6" stroke="#111" stroke-width="1"/>
<path d="M326.2 640.6L319.8 637.6L319.8 643.6Z" stroke="none" fill="#111" stroke-width="1"/>
<text x="296.5" y="650.1" font-size="6" text-anchor="middle" fill="#222" color="#222" textLength="35.6" lengthAdjust="spacingAndGlyphs">Promotion of</text>
<text x="296.5" y="657.8" font-size="6" text-anchor="middle" fill="#222" color="#222" textLength="25" lengthAdjust="spacingAndGlyphs">cell cycle</text>
<text x="277" y="665.3" font-size="6" fill="#222" color="#222" textLength="8.2" lengthAdjust="spacingAndGlyphs">(G1</text>
<line x1="285.7" y1="663.5" x2="290.6" y2="663.5" stroke="#333" stroke-width="0.7"/>
<path d="M292.8 663.5L290.0 662.0L290.0 665.0Z" stroke="none" fill="#333" stroke-width="1"/>
<text x="293" y="665.3" font-size="6" fill="#222" color="#222" textLength="23.2" lengthAdjust="spacingAndGlyphs">S phase)</text>
<path d="M357.75 638.75L332.63 638.75A26.3 26.3 0 0 1 357.75 613.63Z" stroke="none" fill="#bb5550" stroke-width="1"/>
<path d="M334.54 636.48A24.6 24.6 0 0 1 355.9 615.48" stroke="#e2a29d" fill="none" stroke-width="0.8"/>
<path d="M357.96 615.32L354.68 613.23L355.43 617.97Z" stroke="none" fill="#e2a29d" stroke-width="1"/>
<path d="M360.05 638.75L360.05 613.63A26.3 26.3 0 0 1 385.17 638.75Z" stroke="none" fill="#bb5550" stroke-width="1"/>
<path d="M362.32 615.54A24.6 24.6 0 0 1 383.32 636.9" stroke="#e2a29d" fill="none" stroke-width="0.8"/>
<path d="M383.48 638.96L385.57 635.68L380.83 636.43Z" stroke="none" fill="#e2a29d" stroke-width="1"/>
<path d="M360.05 641.05L385.17 641.05A26.3 26.3 0 0 1 360.05 666.17Z" stroke="none" fill="#bb5550" stroke-width="1"/>
<path d="M383.26 643.32A24.6 24.6 0 0 1 361.9 664.32" stroke="#e2a29d" fill="none" stroke-width="0.8"/>
<path d="M359.84 664.48L363.12 666.57L362.37 661.83Z" stroke="none" fill="#e2a29d" stroke-width="1"/>
<path d="M357.75 641.05L357.75 666.17A26.3 26.3 0 0 1 332.63 641.05Z" stroke="none" fill="#bb5550" stroke-width="1"/>
<path d="M355.48 664.26A24.6 24.6 0 0 1 334.48 642.9" stroke="#e2a29d" fill="none" stroke-width="0.8"/>
<path d="M334.32 640.84L332.23 644.12L336.97 643.37Z" stroke="none" fill="#e2a29d" stroke-width="1"/>
<text x="348.3" y="634.1" font-size="6.2" text-anchor="middle" fill="#fff" color="#fff">S</text>
<text x="370.3" y="634.1" font-size="6.2" text-anchor="middle" fill="#fff" color="#fff">G2</text>
<text x="347.7" y="650.9" font-size="6.2" text-anchor="middle" fill="#fff" color="#fff">G1</text>
<text x="370.3" y="650.9" font-size="6.2" text-anchor="middle" fill="#fff" color="#fff">M</text>
<text x="359.5" y="679.6" font-size="6.2" text-anchor="middle" fill="#222" color="#222">Cell cycle</text>
<text x="348" y="698.4" font-size="6" text-anchor="middle" fill="#222" color="#222" textLength="70.5" lengthAdjust="spacingAndGlyphs">MLL-rearranged AML cells</text>
<rect x="0.5" y="0.5" width="519" height="714" fill="none" stroke="#000" stroke-width="1.8"/>
</svg>
</body></html>
